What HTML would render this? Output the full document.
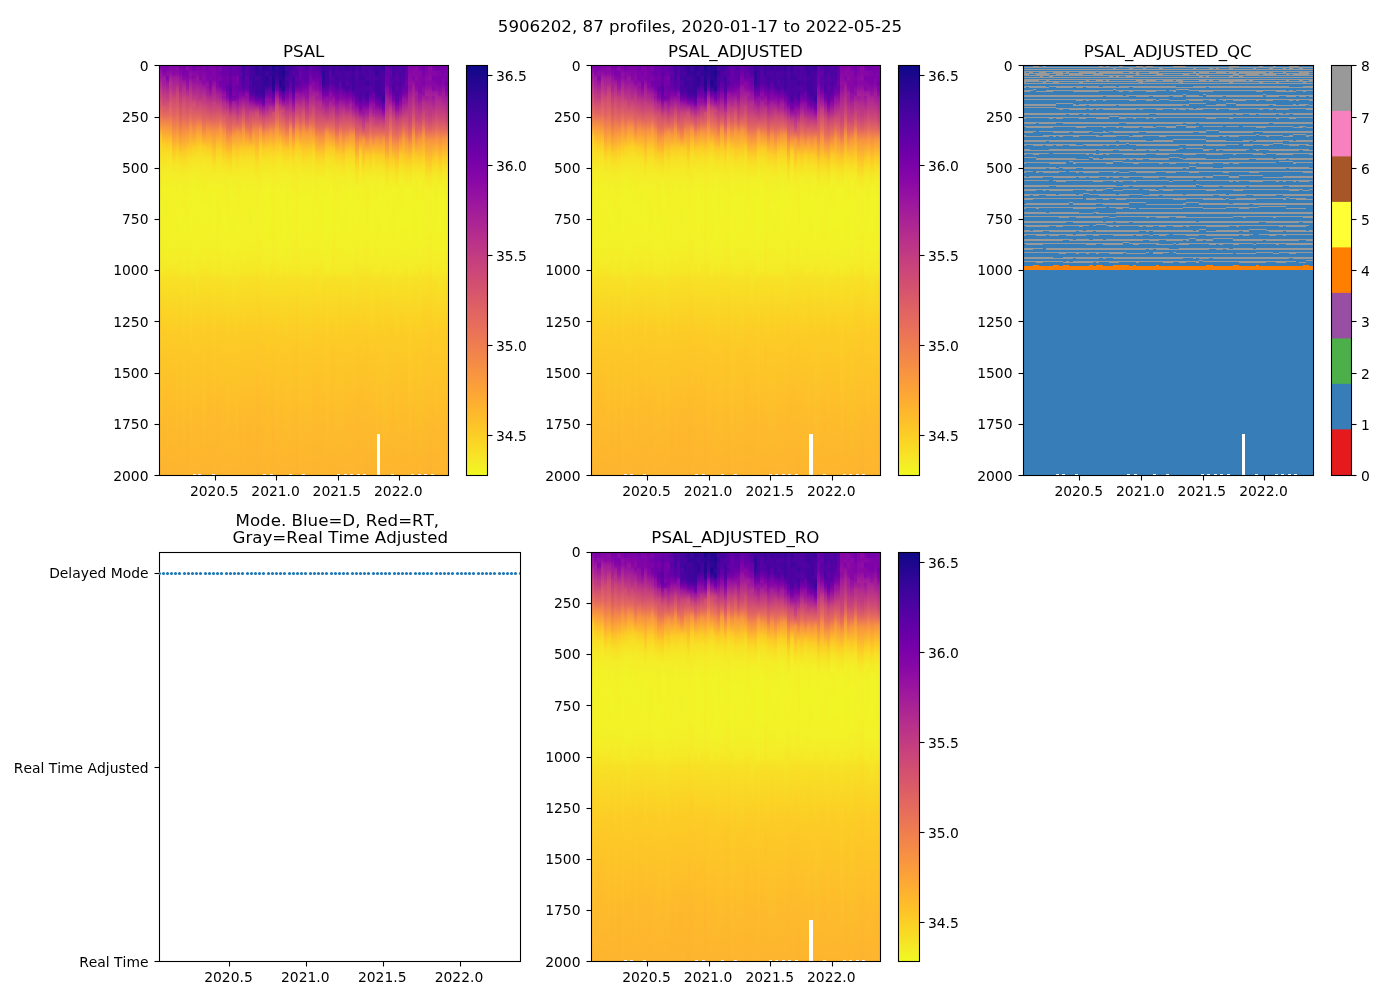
<!DOCTYPE html>
<html lang="en"><head><meta charset="utf-8"><title>5906202 PSAL</title>
<style>
html,body{margin:0;padding:0;background:#fff;}
svg{display:block;}
text{font-family:"DejaVu Sans","Liberation Sans",sans-serif;fill:#000;font-variant-ligatures:none;font-kerning:none;}
</style></head><body>
<svg width="1400" height="1000" viewBox="0 0 1400 1000">
<rect width="1400" height="1000" fill="#fff"/>
<defs>
<linearGradient id="g0" x1="0" y1="0" x2="0" y2="1"><stop offset="0" stop-color="#7b02a8"/><stop offset="0.018" stop-color="#99159f"/><stop offset="0.024" stop-color="#a01a9c"/><stop offset="0.026" stop-color="#9c179e"/><stop offset="0.03" stop-color="#a01a9c"/><stop offset="0.04" stop-color="#ad2793"/><stop offset="0.068" stop-color="#c7427c"/><stop offset="0.114" stop-color="#e56a5d"/><stop offset="0.144" stop-color="#f79143"/><stop offset="0.158" stop-color="#fca934"/><stop offset="0.174" stop-color="#fdcb26"/><stop offset="0.2" stop-color="#f9dc24"/><stop offset="0.25" stop-color="#f5eb27"/><stop offset="0.34" stop-color="#f1f426"/><stop offset="0.42" stop-color="#f2f227"/><stop offset="0.5" stop-color="#f5eb27"/><stop offset="0.52" stop-color="#f7e225"/><stop offset="0.6" stop-color="#fbd324"/><stop offset="0.68" stop-color="#fdca26"/><stop offset="1" stop-color="#fdb42f"/></linearGradient>
<linearGradient id="g1" x1="0" y1="0" x2="0" y2="1"><stop offset="0" stop-color="#7b02a8"/><stop offset="0.016" stop-color="#8405a7"/><stop offset="0.024" stop-color="#8e0ca4"/><stop offset="0.026" stop-color="#9613a1"/><stop offset="0.036" stop-color="#a11b9b"/><stop offset="0.04" stop-color="#a01a9c"/><stop offset="0.068" stop-color="#bd3786"/><stop offset="0.088" stop-color="#cc4778"/><stop offset="0.098" stop-color="#d45270"/><stop offset="0.1" stop-color="#d8576b"/><stop offset="0.122" stop-color="#e56b5d"/><stop offset="0.146" stop-color="#f79143"/><stop offset="0.186" stop-color="#fdc627"/><stop offset="0.208" stop-color="#fada24"/><stop offset="0.256" stop-color="#f5eb27"/><stop offset="0.3" stop-color="#f2f227"/><stop offset="0.44" stop-color="#f3f027"/><stop offset="0.5" stop-color="#f5e926"/><stop offset="0.52" stop-color="#f8e125"/><stop offset="0.64" stop-color="#fccd25"/><stop offset="0.86" stop-color="#feba2c"/><stop offset="1" stop-color="#fdb42f"/></linearGradient>
<linearGradient id="g2" x1="0" y1="0" x2="0" y2="1"><stop offset="0" stop-color="#7d03a8"/><stop offset="0.012" stop-color="#8104a7"/><stop offset="0.014" stop-color="#8d0ba5"/><stop offset="0.024" stop-color="#8f0da4"/><stop offset="0.026" stop-color="#8305a7"/><stop offset="0.036" stop-color="#8a09a5"/><stop offset="0.038" stop-color="#9511a1"/><stop offset="0.062" stop-color="#b32c8e"/><stop offset="0.074" stop-color="#bf3984"/><stop offset="0.076" stop-color="#bd3786"/><stop offset="0.092" stop-color="#d04d73"/><stop offset="0.12" stop-color="#e3685f"/><stop offset="0.144" stop-color="#f68d45"/><stop offset="0.17" stop-color="#fdae32"/><stop offset="0.194" stop-color="#fdcb26"/><stop offset="0.22" stop-color="#f8e125"/><stop offset="0.254" stop-color="#f5eb27"/><stop offset="0.3" stop-color="#f2f227"/><stop offset="0.42" stop-color="#f2f227"/><stop offset="0.48" stop-color="#f4ed27"/><stop offset="0.52" stop-color="#f8e125"/><stop offset="0.66" stop-color="#fdcb26"/><stop offset="0.8" stop-color="#febe2a"/><stop offset="1" stop-color="#fdb42f"/></linearGradient>
<linearGradient id="g3" x1="0" y1="0" x2="0" y2="1"><stop offset="0" stop-color="#8606a6"/><stop offset="0.014" stop-color="#8b0aa5"/><stop offset="0.024" stop-color="#9814a0"/><stop offset="0.026" stop-color="#a01a9c"/><stop offset="0.042" stop-color="#b32c8e"/><stop offset="0.048" stop-color="#b83289"/><stop offset="0.05" stop-color="#b42e8d"/><stop offset="0.072" stop-color="#cb4679"/><stop offset="0.086" stop-color="#d35171"/><stop offset="0.088" stop-color="#d7566c"/><stop offset="0.12" stop-color="#e76e5b"/><stop offset="0.148" stop-color="#f79044"/><stop offset="0.17" stop-color="#fdae32"/><stop offset="0.19" stop-color="#fdcb26"/><stop offset="0.218" stop-color="#f8e125"/><stop offset="0.252" stop-color="#f5eb27"/><stop offset="0.3" stop-color="#f2f227"/><stop offset="0.42" stop-color="#f2f227"/><stop offset="0.48" stop-color="#f4ed27"/><stop offset="0.52" stop-color="#f8e125"/><stop offset="0.66" stop-color="#fdcb26"/><stop offset="0.8" stop-color="#febe2a"/><stop offset="1" stop-color="#fdb42f"/></linearGradient>
<linearGradient id="g4" x1="0" y1="0" x2="0" y2="1"><stop offset="0" stop-color="#8405a7"/><stop offset="0.02" stop-color="#8b0aa5"/><stop offset="0.024" stop-color="#910ea3"/><stop offset="0.026" stop-color="#99159f"/><stop offset="0.034" stop-color="#a21d9a"/><stop offset="0.064" stop-color="#ba3388"/><stop offset="0.082" stop-color="#ce4b75"/><stop offset="0.12" stop-color="#e16462"/><stop offset="0.156" stop-color="#f58c46"/><stop offset="0.182" stop-color="#fca934"/><stop offset="0.21" stop-color="#fdcb26"/><stop offset="0.236" stop-color="#f8e125"/><stop offset="0.266" stop-color="#f4ed27"/><stop offset="0.3" stop-color="#f2f227"/><stop offset="0.42" stop-color="#f2f227"/><stop offset="0.48" stop-color="#f4ed27"/><stop offset="0.52" stop-color="#f8e125"/><stop offset="0.66" stop-color="#fdcb26"/><stop offset="0.82" stop-color="#febd2a"/><stop offset="1" stop-color="#fdb42f"/></linearGradient>
<linearGradient id="g5" x1="0" y1="0" x2="0" y2="1"><stop offset="0" stop-color="#8707a6"/><stop offset="0.012" stop-color="#8e0ca4"/><stop offset="0.014" stop-color="#8808a6"/><stop offset="0.022" stop-color="#910ea3"/><stop offset="0.03" stop-color="#a11b9b"/><stop offset="0.036" stop-color="#a72197"/><stop offset="0.038" stop-color="#a51f99"/><stop offset="0.048" stop-color="#b12a90"/><stop offset="0.05" stop-color="#b7318a"/><stop offset="0.074" stop-color="#cd4a76"/><stop offset="0.12" stop-color="#e4695e"/><stop offset="0.154" stop-color="#f68f44"/><stop offset="0.18" stop-color="#fdac33"/><stop offset="0.206" stop-color="#fccd25"/><stop offset="0.23" stop-color="#f8e125"/><stop offset="0.262" stop-color="#f4ed27"/><stop offset="0.34" stop-color="#f1f426"/><stop offset="0.42" stop-color="#f2f227"/><stop offset="0.48" stop-color="#f4ed27"/><stop offset="0.52" stop-color="#f8e125"/><stop offset="0.66" stop-color="#fdcb26"/><stop offset="1" stop-color="#fdb42f"/></linearGradient>
<linearGradient id="g6" x1="0" y1="0" x2="0" y2="1"><stop offset="0" stop-color="#7801a8"/><stop offset="0.022" stop-color="#8808a6"/><stop offset="0.026" stop-color="#910ea3"/><stop offset="0.048" stop-color="#a72197"/><stop offset="0.05" stop-color="#a21d9a"/><stop offset="0.062" stop-color="#ae2892"/><stop offset="0.066" stop-color="#b6308b"/><stop offset="0.096" stop-color="#cd4a76"/><stop offset="0.134" stop-color="#e3685f"/><stop offset="0.166" stop-color="#f68f44"/><stop offset="0.192" stop-color="#fdaf31"/><stop offset="0.214" stop-color="#fccd25"/><stop offset="0.238" stop-color="#f8e125"/><stop offset="0.268" stop-color="#f4ed27"/><stop offset="0.3" stop-color="#f2f227"/><stop offset="0.38" stop-color="#f1f426"/><stop offset="0.44" stop-color="#f3f027"/><stop offset="0.5" stop-color="#f5e926"/><stop offset="0.52" stop-color="#f8e125"/><stop offset="0.64" stop-color="#fccd25"/><stop offset="0.86" stop-color="#feba2c"/><stop offset="1" stop-color="#fdb42f"/></linearGradient>
<linearGradient id="g7" x1="0" y1="0" x2="0" y2="1"><stop offset="0" stop-color="#7501a8"/><stop offset="0.01" stop-color="#7b02a8"/><stop offset="0.016" stop-color="#7a02a8"/><stop offset="0.03" stop-color="#8707a6"/><stop offset="0.036" stop-color="#910ea3"/><stop offset="0.038" stop-color="#9c179e"/><stop offset="0.05" stop-color="#ac2694"/><stop offset="0.062" stop-color="#ba3388"/><stop offset="0.064" stop-color="#b7318a"/><stop offset="0.084" stop-color="#cd4a76"/><stop offset="0.128" stop-color="#e56a5d"/><stop offset="0.152" stop-color="#f3874a"/><stop offset="0.18" stop-color="#fca636"/><stop offset="0.212" stop-color="#fdcb26"/><stop offset="0.24" stop-color="#f7e225"/><stop offset="0.272" stop-color="#f3ee27"/><stop offset="0.4" stop-color="#f1f426"/><stop offset="0.5" stop-color="#f5eb27"/><stop offset="0.52" stop-color="#f7e225"/><stop offset="0.68" stop-color="#fdca26"/><stop offset="1" stop-color="#fdb42f"/></linearGradient>
<linearGradient id="g8" x1="0" y1="0" x2="0" y2="1"><stop offset="0" stop-color="#8707a6"/><stop offset="0.012" stop-color="#8b0aa5"/><stop offset="0.014" stop-color="#7b02a8"/><stop offset="0.03" stop-color="#8606a6"/><stop offset="0.05" stop-color="#99159f"/><stop offset="0.062" stop-color="#a82296"/><stop offset="0.064" stop-color="#b02991"/><stop offset="0.074" stop-color="#ba3388"/><stop offset="0.076" stop-color="#c03a83"/><stop offset="0.08" stop-color="#c43e7f"/><stop offset="0.128" stop-color="#e26660"/><stop offset="0.164" stop-color="#f89540"/><stop offset="0.206" stop-color="#fdcb26"/><stop offset="0.23" stop-color="#f8df25"/><stop offset="0.268" stop-color="#f4ed27"/><stop offset="0.32" stop-color="#f2f227"/><stop offset="0.44" stop-color="#f3f027"/><stop offset="0.5" stop-color="#f5e926"/><stop offset="0.52" stop-color="#f8e125"/><stop offset="0.64" stop-color="#fccd25"/><stop offset="0.88" stop-color="#feb82c"/><stop offset="1" stop-color="#fdb42f"/></linearGradient>
<linearGradient id="g9" x1="0" y1="0" x2="0" y2="1"><stop offset="0" stop-color="#7b02a8"/><stop offset="0.012" stop-color="#8305a7"/><stop offset="0.014" stop-color="#8a09a5"/><stop offset="0.024" stop-color="#9410a2"/><stop offset="0.026" stop-color="#8d0ba5"/><stop offset="0.03" stop-color="#910ea3"/><stop offset="0.04" stop-color="#a21d9a"/><stop offset="0.07" stop-color="#bf3984"/><stop offset="0.124" stop-color="#e56b5d"/><stop offset="0.15" stop-color="#f79044"/><stop offset="0.178" stop-color="#fdaf31"/><stop offset="0.202" stop-color="#fdcb26"/><stop offset="0.228" stop-color="#f8e125"/><stop offset="0.26" stop-color="#f4ed27"/><stop offset="0.32" stop-color="#f1f426"/><stop offset="0.4" stop-color="#f1f426"/><stop offset="0.5" stop-color="#f5eb27"/><stop offset="0.52" stop-color="#f7e225"/><stop offset="0.7" stop-color="#fdc827"/><stop offset="1" stop-color="#fdb52e"/></linearGradient>
<linearGradient id="g10" x1="0" y1="0" x2="0" y2="1"><stop offset="0" stop-color="#7201a8"/><stop offset="0.012" stop-color="#7701a8"/><stop offset="0.014" stop-color="#8707a6"/><stop offset="0.024" stop-color="#8b0aa5"/><stop offset="0.026" stop-color="#8606a6"/><stop offset="0.048" stop-color="#a11b9b"/><stop offset="0.05" stop-color="#a01a9c"/><stop offset="0.086" stop-color="#c6417d"/><stop offset="0.088" stop-color="#cc4977"/><stop offset="0.098" stop-color="#d45270"/><stop offset="0.102" stop-color="#d35171"/><stop offset="0.13" stop-color="#e56b5d"/><stop offset="0.152" stop-color="#f48849"/><stop offset="0.174" stop-color="#fca636"/><stop offset="0.2" stop-color="#fccd25"/><stop offset="0.226" stop-color="#f7e225"/><stop offset="0.256" stop-color="#f4ed27"/><stop offset="0.3" stop-color="#f1f426"/><stop offset="0.44" stop-color="#f2f227"/><stop offset="0.5" stop-color="#f5eb27"/><stop offset="0.52" stop-color="#f7e225"/><stop offset="0.64" stop-color="#fcce25"/><stop offset="0.86" stop-color="#febb2b"/><stop offset="1" stop-color="#fdb52e"/></linearGradient>
<linearGradient id="g11" x1="0" y1="0" x2="0" y2="1"><stop offset="0" stop-color="#7801a8"/><stop offset="0.024" stop-color="#8a09a5"/><stop offset="0.026" stop-color="#920fa3"/><stop offset="0.034" stop-color="#9a169f"/><stop offset="0.04" stop-color="#9613a1"/><stop offset="0.054" stop-color="#a82296"/><stop offset="0.094" stop-color="#c9447a"/><stop offset="0.128" stop-color="#e56b5d"/><stop offset="0.15" stop-color="#f79342"/><stop offset="0.172" stop-color="#fdae32"/><stop offset="0.198" stop-color="#fcce25"/><stop offset="0.224" stop-color="#f7e225"/><stop offset="0.258" stop-color="#f4ed27"/><stop offset="0.32" stop-color="#f1f426"/><stop offset="0.46" stop-color="#f3f027"/><stop offset="0.64" stop-color="#fcce25"/><stop offset="0.88" stop-color="#feba2c"/><stop offset="1" stop-color="#fdb52e"/></linearGradient>
<linearGradient id="g12" x1="0" y1="0" x2="0" y2="1"><stop offset="0" stop-color="#7a02a8"/><stop offset="0.01" stop-color="#7d03a8"/><stop offset="0.014" stop-color="#8305a7"/><stop offset="0.03" stop-color="#8305a7"/><stop offset="0.036" stop-color="#8b0aa5"/><stop offset="0.038" stop-color="#920fa3"/><stop offset="0.048" stop-color="#9e199d"/><stop offset="0.076" stop-color="#b42e8d"/><stop offset="0.086" stop-color="#bf3984"/><stop offset="0.088" stop-color="#c6417d"/><stop offset="0.094" stop-color="#cc4778"/><stop offset="0.128" stop-color="#e56a5d"/><stop offset="0.15" stop-color="#f79044"/><stop offset="0.172" stop-color="#fdae32"/><stop offset="0.192" stop-color="#fdcb26"/><stop offset="0.216" stop-color="#f8df25"/><stop offset="0.256" stop-color="#f5eb27"/><stop offset="0.3" stop-color="#f2f227"/><stop offset="0.36" stop-color="#f1f426"/><stop offset="0.44" stop-color="#f3f027"/><stop offset="0.5" stop-color="#f5e926"/><stop offset="0.52" stop-color="#f8e125"/><stop offset="0.64" stop-color="#fccd25"/><stop offset="0.84" stop-color="#febb2b"/><stop offset="1" stop-color="#fdb42f"/></linearGradient>
<linearGradient id="g13" x1="0" y1="0" x2="0" y2="1"><stop offset="0" stop-color="#7d03a8"/><stop offset="0.012" stop-color="#8004a8"/><stop offset="0.028" stop-color="#8b0aa5"/><stop offset="0.036" stop-color="#8d0ba5"/><stop offset="0.038" stop-color="#8707a6"/><stop offset="0.04" stop-color="#8808a6"/><stop offset="0.048" stop-color="#9410a2"/><stop offset="0.05" stop-color="#9c179e"/><stop offset="0.074" stop-color="#b83289"/><stop offset="0.086" stop-color="#c33d80"/><stop offset="0.088" stop-color="#c13b82"/><stop offset="0.104" stop-color="#d14e72"/><stop offset="0.138" stop-color="#e66c5c"/><stop offset="0.162" stop-color="#f68f44"/><stop offset="0.182" stop-color="#fdaf31"/><stop offset="0.198" stop-color="#fccd25"/><stop offset="0.222" stop-color="#f8e125"/><stop offset="0.252" stop-color="#f5eb27"/><stop offset="0.34" stop-color="#f1f426"/><stop offset="0.42" stop-color="#f2f227"/><stop offset="0.48" stop-color="#f4ed27"/><stop offset="0.52" stop-color="#f8e125"/><stop offset="0.66" stop-color="#fdcb26"/><stop offset="1" stop-color="#fdb42f"/></linearGradient>
<linearGradient id="g14" x1="0" y1="0" x2="0" y2="1"><stop offset="0" stop-color="#7501a8"/><stop offset="0.01" stop-color="#7701a8"/><stop offset="0.016" stop-color="#7e03a8"/><stop offset="0.036" stop-color="#8004a8"/><stop offset="0.038" stop-color="#8a09a5"/><stop offset="0.048" stop-color="#9613a1"/><stop offset="0.05" stop-color="#910ea3"/><stop offset="0.062" stop-color="#a01a9c"/><stop offset="0.064" stop-color="#9e199d"/><stop offset="0.092" stop-color="#c33d80"/><stop offset="0.124" stop-color="#dd5e66"/><stop offset="0.158" stop-color="#f89441"/><stop offset="0.182" stop-color="#fdb22f"/><stop offset="0.202" stop-color="#fccd25"/><stop offset="0.226" stop-color="#f8e125"/><stop offset="0.256" stop-color="#f5eb27"/><stop offset="0.3" stop-color="#f2f227"/><stop offset="0.36" stop-color="#f1f426"/><stop offset="0.44" stop-color="#f3f027"/><stop offset="0.5" stop-color="#f5e926"/><stop offset="0.52" stop-color="#f8e125"/><stop offset="0.64" stop-color="#fccd25"/><stop offset="0.82" stop-color="#febd2a"/><stop offset="1" stop-color="#fdb42f"/></linearGradient>
<linearGradient id="g15" x1="0" y1="0" x2="0" y2="1"><stop offset="0" stop-color="#7d03a8"/><stop offset="0.012" stop-color="#8004a8"/><stop offset="0.016" stop-color="#7a02a8"/><stop offset="0.024" stop-color="#7d03a8"/><stop offset="0.026" stop-color="#8305a7"/><stop offset="0.036" stop-color="#8405a7"/><stop offset="0.038" stop-color="#7b02a8"/><stop offset="0.04" stop-color="#7b02a8"/><stop offset="0.054" stop-color="#8808a6"/><stop offset="0.074" stop-color="#a51f99"/><stop offset="0.076" stop-color="#ad2793"/><stop offset="0.086" stop-color="#b83289"/><stop offset="0.128" stop-color="#dd5e66"/><stop offset="0.158" stop-color="#f79044"/><stop offset="0.178" stop-color="#fdab33"/><stop offset="0.202" stop-color="#fdcb26"/><stop offset="0.228" stop-color="#f8e125"/><stop offset="0.256" stop-color="#f5eb27"/><stop offset="0.3" stop-color="#f2f227"/><stop offset="0.36" stop-color="#f1f426"/><stop offset="0.44" stop-color="#f3f027"/><stop offset="0.5" stop-color="#f5e926"/><stop offset="0.52" stop-color="#f8e125"/><stop offset="0.64" stop-color="#fccd25"/><stop offset="0.82" stop-color="#febd2a"/><stop offset="1" stop-color="#fdb42f"/></linearGradient>
<linearGradient id="g16" x1="0" y1="0" x2="0" y2="1"><stop offset="0" stop-color="#7d03a8"/><stop offset="0.022" stop-color="#8405a7"/><stop offset="0.026" stop-color="#8004a8"/><stop offset="0.036" stop-color="#8305a7"/><stop offset="0.038" stop-color="#8b0aa5"/><stop offset="0.054" stop-color="#a01a9c"/><stop offset="0.084" stop-color="#b83289"/><stop offset="0.09" stop-color="#c43e7f"/><stop offset="0.104" stop-color="#cb4679"/><stop offset="0.138" stop-color="#e66c5c"/><stop offset="0.16" stop-color="#f79044"/><stop offset="0.212" stop-color="#fdc827"/><stop offset="0.244" stop-color="#f7e225"/><stop offset="0.272" stop-color="#f3ee27"/><stop offset="0.32" stop-color="#f1f426"/><stop offset="0.4" stop-color="#f1f426"/><stop offset="0.5" stop-color="#f5eb27"/><stop offset="0.52" stop-color="#f7e225"/><stop offset="0.68" stop-color="#fdca26"/><stop offset="0.88" stop-color="#feba2c"/><stop offset="1" stop-color="#fdb52e"/></linearGradient>
<linearGradient id="g17" x1="0" y1="0" x2="0" y2="1"><stop offset="0" stop-color="#7401a8"/><stop offset="0.042" stop-color="#8004a8"/><stop offset="0.048" stop-color="#8808a6"/><stop offset="0.05" stop-color="#8405a7"/><stop offset="0.052" stop-color="#8707a6"/><stop offset="0.064" stop-color="#9d189d"/><stop offset="0.1" stop-color="#c7427c"/><stop offset="0.138" stop-color="#e76e5b"/><stop offset="0.16" stop-color="#f89441"/><stop offset="0.182" stop-color="#fdb130"/><stop offset="0.202" stop-color="#fccd25"/><stop offset="0.228" stop-color="#f8e125"/><stop offset="0.256" stop-color="#f5eb27"/><stop offset="0.3" stop-color="#f2f227"/><stop offset="0.44" stop-color="#f3f027"/><stop offset="0.5" stop-color="#f5e926"/><stop offset="0.52" stop-color="#f8e125"/><stop offset="0.64" stop-color="#fccd25"/><stop offset="0.86" stop-color="#feba2c"/><stop offset="1" stop-color="#fdb42f"/></linearGradient>
<linearGradient id="g18" x1="0" y1="0" x2="0" y2="1"><stop offset="0" stop-color="#7e03a8"/><stop offset="0.012" stop-color="#8004a8"/><stop offset="0.014" stop-color="#7401a8"/><stop offset="0.02" stop-color="#7401a8"/><stop offset="0.024" stop-color="#7501a8"/><stop offset="0.026" stop-color="#7d03a8"/><stop offset="0.036" stop-color="#8004a8"/><stop offset="0.038" stop-color="#7701a8"/><stop offset="0.048" stop-color="#7801a8"/><stop offset="0.054" stop-color="#8405a7"/><stop offset="0.07" stop-color="#a11b9b"/><stop offset="0.076" stop-color="#a51f99"/><stop offset="0.1" stop-color="#c7427c"/><stop offset="0.132" stop-color="#e4695e"/><stop offset="0.154" stop-color="#f89441"/><stop offset="0.178" stop-color="#fdaf31"/><stop offset="0.202" stop-color="#fccd25"/><stop offset="0.228" stop-color="#f8e125"/><stop offset="0.256" stop-color="#f5eb27"/><stop offset="0.3" stop-color="#f2f227"/><stop offset="0.44" stop-color="#f3f027"/><stop offset="0.5" stop-color="#f5e926"/><stop offset="0.52" stop-color="#f8e125"/><stop offset="0.64" stop-color="#fccd25"/><stop offset="0.86" stop-color="#feba2c"/><stop offset="1" stop-color="#fdb42f"/></linearGradient>
<linearGradient id="g19" x1="0" y1="0" x2="0" y2="1"><stop offset="0" stop-color="#6a00a8"/><stop offset="0.01" stop-color="#6e00a8"/><stop offset="0.014" stop-color="#6900a8"/><stop offset="0.022" stop-color="#6a00a8"/><stop offset="0.026" stop-color="#7201a8"/><stop offset="0.03" stop-color="#7401a8"/><stop offset="0.036" stop-color="#7401a8"/><stop offset="0.038" stop-color="#6f00a8"/><stop offset="0.05" stop-color="#7100a8"/><stop offset="0.062" stop-color="#8305a7"/><stop offset="0.064" stop-color="#8a09a5"/><stop offset="0.074" stop-color="#9a169f"/><stop offset="0.076" stop-color="#9511a1"/><stop offset="0.086" stop-color="#a51f99"/><stop offset="0.088" stop-color="#ad2793"/><stop offset="0.098" stop-color="#bb3488"/><stop offset="0.1" stop-color="#ba3388"/><stop offset="0.126" stop-color="#da5a6a"/><stop offset="0.142" stop-color="#e66c5c"/><stop offset="0.164" stop-color="#f89540"/><stop offset="0.19" stop-color="#fdb22f"/><stop offset="0.214" stop-color="#fcce25"/><stop offset="0.238" stop-color="#f7e225"/><stop offset="0.268" stop-color="#f3ee27"/><stop offset="0.36" stop-color="#f1f525"/><stop offset="0.44" stop-color="#f2f227"/><stop offset="0.5" stop-color="#f5eb27"/><stop offset="0.52" stop-color="#f7e225"/><stop offset="0.64" stop-color="#fcce25"/><stop offset="0.84" stop-color="#febd2a"/><stop offset="1" stop-color="#fdb52e"/></linearGradient>
<linearGradient id="g20" x1="0" y1="0" x2="0" y2="1"><stop offset="0" stop-color="#6f00a8"/><stop offset="0.024" stop-color="#6f00a8"/><stop offset="0.026" stop-color="#7501a8"/><stop offset="0.036" stop-color="#7701a8"/><stop offset="0.038" stop-color="#7100a8"/><stop offset="0.048" stop-color="#7201a8"/><stop offset="0.05" stop-color="#6700a8"/><stop offset="0.058" stop-color="#6700a8"/><stop offset="0.062" stop-color="#6900a8"/><stop offset="0.064" stop-color="#7501a8"/><stop offset="0.068" stop-color="#7701a8"/><stop offset="0.074" stop-color="#8305a7"/><stop offset="0.076" stop-color="#8004a8"/><stop offset="0.086" stop-color="#9613a1"/><stop offset="0.088" stop-color="#a11b9b"/><stop offset="0.098" stop-color="#b42e8d"/><stop offset="0.1" stop-color="#b32c8e"/><stop offset="0.116" stop-color="#cd4a76"/><stop offset="0.15" stop-color="#e4695e"/><stop offset="0.168" stop-color="#f3854b"/><stop offset="0.194" stop-color="#fdab33"/><stop offset="0.218" stop-color="#fccd25"/><stop offset="0.242" stop-color="#f8e125"/><stop offset="0.272" stop-color="#f3ee27"/><stop offset="0.4" stop-color="#f1f426"/><stop offset="0.5" stop-color="#f5eb27"/><stop offset="0.52" stop-color="#f7e225"/><stop offset="0.68" stop-color="#fdca26"/><stop offset="1" stop-color="#fdb42f"/></linearGradient>
<linearGradient id="g21" x1="0" y1="0" x2="0" y2="1"><stop offset="0" stop-color="#5e01a6"/><stop offset="0.02" stop-color="#5e01a6"/><stop offset="0.028" stop-color="#6600a7"/><stop offset="0.036" stop-color="#6600a7"/><stop offset="0.038" stop-color="#6001a6"/><stop offset="0.048" stop-color="#6100a7"/><stop offset="0.05" stop-color="#5502a4"/><stop offset="0.062" stop-color="#5601a4"/><stop offset="0.064" stop-color="#5e01a6"/><stop offset="0.074" stop-color="#6001a6"/><stop offset="0.076" stop-color="#6a00a8"/><stop offset="0.078" stop-color="#6c00a8"/><stop offset="0.084" stop-color="#7d03a8"/><stop offset="0.102" stop-color="#a62098"/><stop offset="0.126" stop-color="#d14e72"/><stop offset="0.154" stop-color="#e66c5c"/><stop offset="0.176" stop-color="#f89441"/><stop offset="0.198" stop-color="#fdaf31"/><stop offset="0.222" stop-color="#fcce25"/><stop offset="0.248" stop-color="#f7e225"/><stop offset="0.278" stop-color="#f3f027"/><stop offset="0.3" stop-color="#f1f426"/><stop offset="0.44" stop-color="#f2f227"/><stop offset="0.5" stop-color="#f5eb27"/><stop offset="0.52" stop-color="#f7e225"/><stop offset="0.64" stop-color="#fcce25"/><stop offset="0.86" stop-color="#febb2b"/><stop offset="1" stop-color="#fdb52e"/></linearGradient>
<linearGradient id="g22" x1="0" y1="0" x2="0" y2="1"><stop offset="0" stop-color="#6900a8"/><stop offset="0.024" stop-color="#6a00a8"/><stop offset="0.026" stop-color="#7401a8"/><stop offset="0.03" stop-color="#7501a8"/><stop offset="0.046" stop-color="#7801a8"/><stop offset="0.05" stop-color="#7401a8"/><stop offset="0.062" stop-color="#7501a8"/><stop offset="0.064" stop-color="#7d03a8"/><stop offset="0.068" stop-color="#7e03a8"/><stop offset="0.074" stop-color="#7e03a8"/><stop offset="0.076" stop-color="#7201a8"/><stop offset="0.082" stop-color="#8104a7"/><stop offset="0.086" stop-color="#8a09a5"/><stop offset="0.088" stop-color="#9d189d"/><stop offset="0.096" stop-color="#ac2694"/><stop offset="0.1" stop-color="#ae2892"/><stop offset="0.122" stop-color="#cf4c74"/><stop offset="0.146" stop-color="#e56a5d"/><stop offset="0.168" stop-color="#f89540"/><stop offset="0.206" stop-color="#fdcb26"/><stop offset="0.234" stop-color="#f7e225"/><stop offset="0.27" stop-color="#f3ee27"/><stop offset="0.32" stop-color="#f1f426"/><stop offset="0.46" stop-color="#f3f027"/><stop offset="0.64" stop-color="#fcce25"/><stop offset="0.88" stop-color="#feba2c"/><stop offset="1" stop-color="#fdb52e"/></linearGradient>
<linearGradient id="g23" x1="0" y1="0" x2="0" y2="1"><stop offset="0" stop-color="#6700a8"/><stop offset="0.024" stop-color="#6900a8"/><stop offset="0.026" stop-color="#7b02a8"/><stop offset="0.028" stop-color="#7d03a8"/><stop offset="0.036" stop-color="#7d03a8"/><stop offset="0.038" stop-color="#7501a8"/><stop offset="0.048" stop-color="#7701a8"/><stop offset="0.05" stop-color="#6c00a8"/><stop offset="0.054" stop-color="#6c00a8"/><stop offset="0.062" stop-color="#6e00a8"/><stop offset="0.064" stop-color="#7701a8"/><stop offset="0.072" stop-color="#7701a8"/><stop offset="0.08" stop-color="#8004a8"/><stop offset="0.1" stop-color="#a72197"/><stop offset="0.14" stop-color="#db5c68"/><stop offset="0.148" stop-color="#e56b5d"/><stop offset="0.164" stop-color="#f89540"/><stop offset="0.21" stop-color="#fdca26"/><stop offset="0.24" stop-color="#f7e225"/><stop offset="0.272" stop-color="#f3ee27"/><stop offset="0.4" stop-color="#f1f426"/><stop offset="0.5" stop-color="#f5eb27"/><stop offset="0.52" stop-color="#f7e225"/><stop offset="0.68" stop-color="#fdca26"/><stop offset="1" stop-color="#fdb42f"/></linearGradient>
<linearGradient id="g24" x1="0" y1="0" x2="0" y2="1"><stop offset="0" stop-color="#5801a4"/><stop offset="0.012" stop-color="#5901a5"/><stop offset="0.014" stop-color="#6300a7"/><stop offset="0.018" stop-color="#6400a7"/><stop offset="0.024" stop-color="#6400a7"/><stop offset="0.026" stop-color="#5901a5"/><stop offset="0.036" stop-color="#5b01a5"/><stop offset="0.038" stop-color="#6300a7"/><stop offset="0.056" stop-color="#6900a8"/><stop offset="0.072" stop-color="#8405a7"/><stop offset="0.086" stop-color="#9d189d"/><stop offset="0.094" stop-color="#a62098"/><stop offset="0.11" stop-color="#bf3984"/><stop offset="0.116" stop-color="#c33d80"/><stop offset="0.126" stop-color="#d14e72"/><stop offset="0.15" stop-color="#e87059"/><stop offset="0.166" stop-color="#f79143"/><stop offset="0.202" stop-color="#fdca26"/><stop offset="0.23" stop-color="#f8e125"/><stop offset="0.258" stop-color="#f5eb27"/><stop offset="0.32" stop-color="#f2f227"/><stop offset="0.44" stop-color="#f3f027"/><stop offset="0.5" stop-color="#f5e926"/><stop offset="0.52" stop-color="#f8e125"/><stop offset="0.64" stop-color="#fccd25"/><stop offset="0.88" stop-color="#feb82c"/><stop offset="1" stop-color="#fdb42f"/></linearGradient>
<linearGradient id="g25" x1="0" y1="0" x2="0" y2="1"><stop offset="0" stop-color="#46039f"/><stop offset="0.036" stop-color="#4b03a1"/><stop offset="0.038" stop-color="#5102a3"/><stop offset="0.054" stop-color="#5901a5"/><stop offset="0.072" stop-color="#8004a8"/><stop offset="0.086" stop-color="#a11b9b"/><stop offset="0.11" stop-color="#c9447a"/><stop offset="0.138" stop-color="#e56b5d"/><stop offset="0.156" stop-color="#f79044"/><stop offset="0.184" stop-color="#fdb22f"/><stop offset="0.206" stop-color="#fccd25"/><stop offset="0.232" stop-color="#f8e125"/><stop offset="0.264" stop-color="#f4ed27"/><stop offset="0.3" stop-color="#f2f227"/><stop offset="0.42" stop-color="#f2f227"/><stop offset="0.48" stop-color="#f4ed27"/><stop offset="0.52" stop-color="#f8e125"/><stop offset="0.66" stop-color="#fdcb26"/><stop offset="0.82" stop-color="#febd2a"/><stop offset="1" stop-color="#fdb42f"/></linearGradient>
<linearGradient id="g26" x1="0" y1="0" x2="0" y2="1"><stop offset="0" stop-color="#5302a3"/><stop offset="0.022" stop-color="#5601a4"/><stop offset="0.024" stop-color="#5801a4"/><stop offset="0.026" stop-color="#6001a6"/><stop offset="0.044" stop-color="#6001a6"/><stop offset="0.048" stop-color="#6600a7"/><stop offset="0.05" stop-color="#5b01a5"/><stop offset="0.062" stop-color="#7100a8"/><stop offset="0.064" stop-color="#8305a7"/><stop offset="0.074" stop-color="#920fa3"/><stop offset="0.076" stop-color="#8e0ca4"/><stop offset="0.102" stop-color="#b32c8e"/><stop offset="0.14" stop-color="#db5c68"/><stop offset="0.152" stop-color="#e76f5a"/><stop offset="0.168" stop-color="#f79143"/><stop offset="0.186" stop-color="#fdaf31"/><stop offset="0.204" stop-color="#fccd25"/><stop offset="0.23" stop-color="#f8e125"/><stop offset="0.258" stop-color="#f5eb27"/><stop offset="0.32" stop-color="#f2f227"/><stop offset="0.44" stop-color="#f3f027"/><stop offset="0.5" stop-color="#f5e926"/><stop offset="0.52" stop-color="#f8e125"/><stop offset="0.64" stop-color="#fccd25"/><stop offset="0.88" stop-color="#feb82c"/><stop offset="1" stop-color="#fdb42f"/></linearGradient>
<linearGradient id="g27" x1="0" y1="0" x2="0" y2="1"><stop offset="0" stop-color="#43039e"/><stop offset="0.024" stop-color="#48039f"/><stop offset="0.026" stop-color="#43039e"/><stop offset="0.032" stop-color="#43039e"/><stop offset="0.036" stop-color="#44039e"/><stop offset="0.038" stop-color="#5002a2"/><stop offset="0.046" stop-color="#5102a3"/><stop offset="0.048" stop-color="#5102a3"/><stop offset="0.05" stop-color="#4903a0"/><stop offset="0.062" stop-color="#4b03a1"/><stop offset="0.068" stop-color="#5302a3"/><stop offset="0.082" stop-color="#7a02a8"/><stop offset="0.086" stop-color="#8606a6"/><stop offset="0.088" stop-color="#8f0da4"/><stop offset="0.096" stop-color="#a31e9a"/><stop offset="0.118" stop-color="#cc4778"/><stop offset="0.15" stop-color="#e4695e"/><stop offset="0.166" stop-color="#f1814d"/><stop offset="0.18" stop-color="#f99a3e"/><stop offset="0.202" stop-color="#fccd25"/><stop offset="0.228" stop-color="#f8e125"/><stop offset="0.258" stop-color="#f5eb27"/><stop offset="0.32" stop-color="#f2f227"/><stop offset="0.44" stop-color="#f3f027"/><stop offset="0.5" stop-color="#f5e926"/><stop offset="0.52" stop-color="#f8e125"/><stop offset="0.64" stop-color="#fccd25"/><stop offset="0.88" stop-color="#feb82c"/><stop offset="1" stop-color="#fdb42f"/></linearGradient>
<linearGradient id="g28" x1="0" y1="0" x2="0" y2="1"><stop offset="0" stop-color="#3c049b"/><stop offset="0.012" stop-color="#3e049c"/><stop offset="0.014" stop-color="#48039f"/><stop offset="0.024" stop-color="#4903a0"/><stop offset="0.026" stop-color="#3e049c"/><stop offset="0.048" stop-color="#3e049c"/><stop offset="0.05" stop-color="#48039f"/><stop offset="0.066" stop-color="#4b03a1"/><stop offset="0.082" stop-color="#7b02a8"/><stop offset="0.088" stop-color="#8a09a5"/><stop offset="0.094" stop-color="#9a169f"/><stop offset="0.116" stop-color="#cb4679"/><stop offset="0.142" stop-color="#e4695e"/><stop offset="0.164" stop-color="#f89441"/><stop offset="0.204" stop-color="#fdcb26"/><stop offset="0.23" stop-color="#f8e125"/><stop offset="0.266" stop-color="#f4ed27"/><stop offset="0.3" stop-color="#f2f227"/><stop offset="0.38" stop-color="#f1f426"/><stop offset="0.44" stop-color="#f3f027"/><stop offset="0.5" stop-color="#f5e926"/><stop offset="0.52" stop-color="#f8e125"/><stop offset="0.64" stop-color="#fccd25"/><stop offset="0.86" stop-color="#feba2c"/><stop offset="1" stop-color="#fdb42f"/></linearGradient>
<linearGradient id="g29" x1="0" y1="0" x2="0" y2="1"><stop offset="0" stop-color="#2f0596"/><stop offset="0.024" stop-color="#370499"/><stop offset="0.026" stop-color="#46039f"/><stop offset="0.028" stop-color="#48039f"/><stop offset="0.036" stop-color="#48039f"/><stop offset="0.038" stop-color="#3f049c"/><stop offset="0.06" stop-color="#41049d"/><stop offset="0.072" stop-color="#48039f"/><stop offset="0.074" stop-color="#5002a2"/><stop offset="0.076" stop-color="#5102a3"/><stop offset="0.086" stop-color="#7701a8"/><stop offset="0.088" stop-color="#7a02a8"/><stop offset="0.098" stop-color="#9d189d"/><stop offset="0.102" stop-color="#ad2793"/><stop offset="0.114" stop-color="#cc4977"/><stop offset="0.124" stop-color="#d6556d"/><stop offset="0.126" stop-color="#d5536f"/><stop offset="0.132" stop-color="#da5a6a"/><stop offset="0.158" stop-color="#f3874a"/><stop offset="0.18" stop-color="#fca338"/><stop offset="0.212" stop-color="#fdc827"/><stop offset="0.24" stop-color="#f8df25"/><stop offset="0.276" stop-color="#f4ed27"/><stop offset="0.36" stop-color="#f2f227"/><stop offset="0.42" stop-color="#f3f027"/><stop offset="0.48" stop-color="#f5eb27"/><stop offset="0.52" stop-color="#f8df25"/><stop offset="0.66" stop-color="#fdca26"/><stop offset="0.82" stop-color="#febb2b"/><stop offset="1" stop-color="#fdb22f"/></linearGradient>
<linearGradient id="g30" x1="0" y1="0" x2="0" y2="1"><stop offset="0" stop-color="#3f049c"/><stop offset="0.012" stop-color="#41049d"/><stop offset="0.014" stop-color="#370499"/><stop offset="0.022" stop-color="#370499"/><stop offset="0.028" stop-color="#41049d"/><stop offset="0.048" stop-color="#44039e"/><stop offset="0.05" stop-color="#3f049c"/><stop offset="0.068" stop-color="#41049d"/><stop offset="0.078" stop-color="#5801a4"/><stop offset="0.09" stop-color="#8004a8"/><stop offset="0.104" stop-color="#a62098"/><stop offset="0.122" stop-color="#ca457a"/><stop offset="0.142" stop-color="#e4695e"/><stop offset="0.156" stop-color="#f79044"/><stop offset="0.176" stop-color="#fdae32"/><stop offset="0.196" stop-color="#fdcb26"/><stop offset="0.22" stop-color="#f8df25"/><stop offset="0.25" stop-color="#f5e926"/><stop offset="0.32" stop-color="#f2f227"/><stop offset="0.4" stop-color="#f2f227"/><stop offset="0.5" stop-color="#f5e926"/><stop offset="0.52" stop-color="#f8e125"/><stop offset="0.62" stop-color="#fcce25"/><stop offset="0.88" stop-color="#feb82c"/><stop offset="1" stop-color="#fdb42f"/></linearGradient>
<linearGradient id="g31" x1="0" y1="0" x2="0" y2="1"><stop offset="0" stop-color="#2c0594"/><stop offset="0.012" stop-color="#2e0595"/><stop offset="0.014" stop-color="#350498"/><stop offset="0.062" stop-color="#3a049a"/><stop offset="0.064" stop-color="#3f049c"/><stop offset="0.072" stop-color="#41049d"/><stop offset="0.086" stop-color="#6700a8"/><stop offset="0.088" stop-color="#6600a7"/><stop offset="0.096" stop-color="#7e03a8"/><stop offset="0.098" stop-color="#8405a7"/><stop offset="0.1" stop-color="#9410a2"/><stop offset="0.102" stop-color="#99159f"/><stop offset="0.112" stop-color="#b02991"/><stop offset="0.114" stop-color="#b02991"/><stop offset="0.126" stop-color="#ca457a"/><stop offset="0.15" stop-color="#e3685f"/><stop offset="0.17" stop-color="#f89540"/><stop offset="0.204" stop-color="#fdcb26"/><stop offset="0.23" stop-color="#f8e125"/><stop offset="0.264" stop-color="#f4ed27"/><stop offset="0.3" stop-color="#f2f227"/><stop offset="0.42" stop-color="#f2f227"/><stop offset="0.48" stop-color="#f4ed27"/><stop offset="0.52" stop-color="#f8e125"/><stop offset="0.66" stop-color="#fdcb26"/><stop offset="0.8" stop-color="#febe2a"/><stop offset="1" stop-color="#fdb42f"/></linearGradient>
<linearGradient id="g32" x1="0" y1="0" x2="0" y2="1"><stop offset="0" stop-color="#330597"/><stop offset="0.012" stop-color="#350498"/><stop offset="0.014" stop-color="#3f049c"/><stop offset="0.02" stop-color="#41049d"/><stop offset="0.024" stop-color="#41049d"/><stop offset="0.026" stop-color="#310597"/><stop offset="0.048" stop-color="#350498"/><stop offset="0.05" stop-color="#3f049c"/><stop offset="0.074" stop-color="#7701a8"/><stop offset="0.076" stop-color="#8004a8"/><stop offset="0.086" stop-color="#9410a2"/><stop offset="0.088" stop-color="#8f0da4"/><stop offset="0.098" stop-color="#a31e9a"/><stop offset="0.1" stop-color="#a31e9a"/><stop offset="0.124" stop-color="#cc4977"/><stop offset="0.148" stop-color="#e76e5b"/><stop offset="0.162" stop-color="#f68d45"/><stop offset="0.18" stop-color="#fdab33"/><stop offset="0.202" stop-color="#fccd25"/><stop offset="0.228" stop-color="#f7e225"/><stop offset="0.266" stop-color="#f3ee27"/><stop offset="0.3" stop-color="#f1f426"/><stop offset="0.38" stop-color="#f1f525"/><stop offset="0.44" stop-color="#f2f227"/><stop offset="0.5" stop-color="#f5eb27"/><stop offset="0.52" stop-color="#f7e225"/><stop offset="0.64" stop-color="#fcce25"/><stop offset="0.84" stop-color="#febd2a"/><stop offset="1" stop-color="#fdb52e"/></linearGradient>
<linearGradient id="g33" x1="0" y1="0" x2="0" y2="1"><stop offset="0" stop-color="#370499"/><stop offset="0.012" stop-color="#3a049a"/><stop offset="0.014" stop-color="#350498"/><stop offset="0.024" stop-color="#38049a"/><stop offset="0.026" stop-color="#41049d"/><stop offset="0.046" stop-color="#43039e"/><stop offset="0.062" stop-color="#6700a8"/><stop offset="0.064" stop-color="#6400a7"/><stop offset="0.066" stop-color="#6700a8"/><stop offset="0.078" stop-color="#8104a7"/><stop offset="0.086" stop-color="#920fa3"/><stop offset="0.088" stop-color="#910ea3"/><stop offset="0.094" stop-color="#9d189d"/><stop offset="0.098" stop-color="#a51f99"/><stop offset="0.1" stop-color="#b02991"/><stop offset="0.11" stop-color="#bf3984"/><stop offset="0.144" stop-color="#e66c5c"/><stop offset="0.16" stop-color="#f79342"/><stop offset="0.2" stop-color="#fdcb26"/><stop offset="0.226" stop-color="#f8e125"/><stop offset="0.256" stop-color="#f5eb27"/><stop offset="0.3" stop-color="#f2f227"/><stop offset="0.36" stop-color="#f1f426"/><stop offset="0.44" stop-color="#f3f027"/><stop offset="0.48" stop-color="#f4ed27"/><stop offset="0.52" stop-color="#f8e125"/><stop offset="0.66" stop-color="#fdcb26"/><stop offset="0.82" stop-color="#febd2a"/><stop offset="1" stop-color="#fdb42f"/></linearGradient>
<linearGradient id="g34" x1="0" y1="0" x2="0" y2="1"><stop offset="0" stop-color="#1b068d"/><stop offset="0.012" stop-color="#20068f"/><stop offset="0.014" stop-color="#2e0595"/><stop offset="0.018" stop-color="#2f0596"/><stop offset="0.024" stop-color="#2f0596"/><stop offset="0.026" stop-color="#280592"/><stop offset="0.036" stop-color="#2a0593"/><stop offset="0.042" stop-color="#260591"/><stop offset="0.048" stop-color="#280592"/><stop offset="0.052" stop-color="#2f0596"/><stop offset="0.06" stop-color="#310597"/><stop offset="0.062" stop-color="#370499"/><stop offset="0.064" stop-color="#46039f"/><stop offset="0.068" stop-color="#5302a3"/><stop offset="0.074" stop-color="#6600a7"/><stop offset="0.076" stop-color="#6400a7"/><stop offset="0.084" stop-color="#7e03a8"/><stop offset="0.088" stop-color="#8707a6"/><stop offset="0.1" stop-color="#a72197"/><stop offset="0.112" stop-color="#c33d80"/><stop offset="0.114" stop-color="#cc4977"/><stop offset="0.116" stop-color="#d04d73"/><stop offset="0.124" stop-color="#d7566c"/><stop offset="0.126" stop-color="#d5536f"/><stop offset="0.134" stop-color="#dc5d67"/><stop offset="0.16" stop-color="#f68d45"/><stop offset="0.174" stop-color="#fba238"/><stop offset="0.204" stop-color="#fdcb26"/><stop offset="0.228" stop-color="#f8df25"/><stop offset="0.26" stop-color="#f5eb27"/><stop offset="0.32" stop-color="#f2f227"/><stop offset="0.46" stop-color="#f3ee27"/><stop offset="0.64" stop-color="#fccd25"/><stop offset="0.88" stop-color="#feb82c"/><stop offset="1" stop-color="#fdb42f"/></linearGradient>
<linearGradient id="g35" x1="0" y1="0" x2="0" y2="1"><stop offset="0" stop-color="#2f0596"/><stop offset="0.024" stop-color="#350498"/><stop offset="0.026" stop-color="#3f049c"/><stop offset="0.036" stop-color="#41049d"/><stop offset="0.038" stop-color="#48039f"/><stop offset="0.042" stop-color="#4903a0"/><stop offset="0.048" stop-color="#5901a5"/><stop offset="0.05" stop-color="#5901a5"/><stop offset="0.062" stop-color="#7b02a8"/><stop offset="0.064" stop-color="#8707a6"/><stop offset="0.066" stop-color="#8d0ba5"/><stop offset="0.084" stop-color="#b32c8e"/><stop offset="0.088" stop-color="#b6308b"/><stop offset="0.1" stop-color="#cd4a76"/><stop offset="0.112" stop-color="#d8576b"/><stop offset="0.13" stop-color="#e56a5d"/><stop offset="0.154" stop-color="#f79342"/><stop offset="0.19" stop-color="#fdc229"/><stop offset="0.224" stop-color="#f8e125"/><stop offset="0.254" stop-color="#f5eb27"/><stop offset="0.3" stop-color="#f2f227"/><stop offset="0.42" stop-color="#f2f227"/><stop offset="0.48" stop-color="#f4ed27"/><stop offset="0.52" stop-color="#f8e125"/><stop offset="0.66" stop-color="#fdcb26"/><stop offset="1" stop-color="#fdb42f"/></linearGradient>
<linearGradient id="g36" x1="0" y1="0" x2="0" y2="1"><stop offset="0" stop-color="#240691"/><stop offset="0.032" stop-color="#2f0596"/><stop offset="0.036" stop-color="#2f0596"/><stop offset="0.038" stop-color="#20068f"/><stop offset="0.05" stop-color="#240691"/><stop offset="0.062" stop-color="#4c02a1"/><stop offset="0.064" stop-color="#5b01a5"/><stop offset="0.074" stop-color="#7801a8"/><stop offset="0.076" stop-color="#8305a7"/><stop offset="0.08" stop-color="#8e0ca4"/><stop offset="0.092" stop-color="#a72197"/><stop offset="0.1" stop-color="#bc3587"/><stop offset="0.11" stop-color="#ce4b75"/><stop offset="0.14" stop-color="#e56b5d"/><stop offset="0.168" stop-color="#fa9c3c"/><stop offset="0.194" stop-color="#fdcb26"/><stop offset="0.222" stop-color="#f7e225"/><stop offset="0.248" stop-color="#f5eb27"/><stop offset="0.32" stop-color="#f1f426"/><stop offset="0.44" stop-color="#f2f227"/><stop offset="0.5" stop-color="#f5eb27"/><stop offset="0.52" stop-color="#f7e225"/><stop offset="0.64" stop-color="#fcce25"/><stop offset="0.86" stop-color="#febb2b"/><stop offset="1" stop-color="#fdb52e"/></linearGradient>
<linearGradient id="g37" x1="0" y1="0" x2="0" y2="1"><stop offset="0" stop-color="#240691"/><stop offset="0.012" stop-color="#260591"/><stop offset="0.014" stop-color="#20068f"/><stop offset="0.024" stop-color="#220690"/><stop offset="0.028" stop-color="#2a0593"/><stop offset="0.036" stop-color="#2a0593"/><stop offset="0.038" stop-color="#310597"/><stop offset="0.048" stop-color="#350498"/><stop offset="0.05" stop-color="#2a0593"/><stop offset="0.06" stop-color="#2c0594"/><stop offset="0.062" stop-color="#330597"/><stop offset="0.064" stop-color="#4b03a1"/><stop offset="0.074" stop-color="#6a00a8"/><stop offset="0.076" stop-color="#6400a7"/><stop offset="0.084" stop-color="#7d03a8"/><stop offset="0.088" stop-color="#910ea3"/><stop offset="0.098" stop-color="#ab2494"/><stop offset="0.1" stop-color="#b42e8d"/><stop offset="0.112" stop-color="#cc4977"/><stop offset="0.114" stop-color="#c8437b"/><stop offset="0.138" stop-color="#e26660"/><stop offset="0.144" stop-color="#e66c5c"/><stop offset="0.16" stop-color="#f48849"/><stop offset="0.182" stop-color="#fca934"/><stop offset="0.206" stop-color="#fcce25"/><stop offset="0.23" stop-color="#f7e225"/><stop offset="0.264" stop-color="#f3ee27"/><stop offset="0.3" stop-color="#f1f426"/><stop offset="0.42" stop-color="#f1f426"/><stop offset="0.48" stop-color="#f3ee27"/><stop offset="0.52" stop-color="#f7e225"/><stop offset="0.66" stop-color="#fccd25"/><stop offset="0.8" stop-color="#fec029"/><stop offset="1" stop-color="#fdb52e"/></linearGradient>
<linearGradient id="g38" x1="0" y1="0" x2="0" y2="1"><stop offset="0" stop-color="#44039e"/><stop offset="0.012" stop-color="#46039f"/><stop offset="0.014" stop-color="#3a049a"/><stop offset="0.02" stop-color="#3a049a"/><stop offset="0.024" stop-color="#3c049b"/><stop offset="0.026" stop-color="#48039f"/><stop offset="0.028" stop-color="#4903a0"/><stop offset="0.036" stop-color="#4b03a1"/><stop offset="0.038" stop-color="#43039e"/><stop offset="0.048" stop-color="#46039f"/><stop offset="0.058" stop-color="#5801a4"/><stop offset="0.062" stop-color="#6100a7"/><stop offset="0.064" stop-color="#6a00a8"/><stop offset="0.08" stop-color="#8707a6"/><stop offset="0.092" stop-color="#9e199d"/><stop offset="0.112" stop-color="#bf3984"/><stop offset="0.152" stop-color="#e66c5c"/><stop offset="0.174" stop-color="#f89441"/><stop offset="0.206" stop-color="#fdcb26"/><stop offset="0.234" stop-color="#f7e225"/><stop offset="0.262" stop-color="#f4ed27"/><stop offset="0.3" stop-color="#f2f227"/><stop offset="0.4" stop-color="#f1f426"/><stop offset="0.5" stop-color="#f5eb27"/><stop offset="0.52" stop-color="#f7e225"/><stop offset="0.68" stop-color="#fdca26"/><stop offset="1" stop-color="#fdb42f"/></linearGradient>
<linearGradient id="g39" x1="0" y1="0" x2="0" y2="1"><stop offset="0" stop-color="#43039e"/><stop offset="0.012" stop-color="#46039f"/><stop offset="0.016" stop-color="#4e02a2"/><stop offset="0.036" stop-color="#5102a3"/><stop offset="0.048" stop-color="#6900a8"/><stop offset="0.05" stop-color="#6001a6"/><stop offset="0.06" stop-color="#7201a8"/><stop offset="0.068" stop-color="#8606a6"/><stop offset="0.074" stop-color="#8f0da4"/><stop offset="0.076" stop-color="#8e0ca4"/><stop offset="0.096" stop-color="#b02991"/><stop offset="0.11" stop-color="#c03a83"/><stop offset="0.138" stop-color="#e26660"/><stop offset="0.156" stop-color="#f89441"/><stop offset="0.2" stop-color="#fdca26"/><stop offset="0.228" stop-color="#f8e125"/><stop offset="0.262" stop-color="#f4ed27"/><stop offset="0.34" stop-color="#f1f426"/><stop offset="0.42" stop-color="#f2f227"/><stop offset="0.48" stop-color="#f4ed27"/><stop offset="0.52" stop-color="#f8e125"/><stop offset="0.66" stop-color="#fdcb26"/><stop offset="1" stop-color="#fdb42f"/></linearGradient>
<linearGradient id="g40" x1="0" y1="0" x2="0" y2="1"><stop offset="0" stop-color="#48039f"/><stop offset="0.01" stop-color="#4903a0"/><stop offset="0.012" stop-color="#4b03a1"/><stop offset="0.014" stop-color="#5502a4"/><stop offset="0.02" stop-color="#5601a4"/><stop offset="0.024" stop-color="#5601a4"/><stop offset="0.026" stop-color="#44039e"/><stop offset="0.062" stop-color="#5102a3"/><stop offset="0.068" stop-color="#6300a7"/><stop offset="0.082" stop-color="#8004a8"/><stop offset="0.098" stop-color="#9d189d"/><stop offset="0.112" stop-color="#b52f8c"/><stop offset="0.114" stop-color="#bd3786"/><stop offset="0.124" stop-color="#cb4679"/><stop offset="0.126" stop-color="#ca457a"/><stop offset="0.146" stop-color="#dd5e66"/><stop offset="0.172" stop-color="#f79143"/><stop offset="0.192" stop-color="#fdb130"/><stop offset="0.208" stop-color="#fdcb26"/><stop offset="0.232" stop-color="#f8df25"/><stop offset="0.27" stop-color="#f4ed27"/><stop offset="0.32" stop-color="#f2f227"/><stop offset="0.4" stop-color="#f2f227"/><stop offset="0.5" stop-color="#f5e926"/><stop offset="0.52" stop-color="#f8e125"/><stop offset="0.7" stop-color="#fdc627"/><stop offset="1" stop-color="#fdb42f"/></linearGradient>
<linearGradient id="g41" x1="0" y1="0" x2="0" y2="1"><stop offset="0" stop-color="#5601a4"/><stop offset="0.012" stop-color="#5801a4"/><stop offset="0.014" stop-color="#5002a2"/><stop offset="0.024" stop-color="#5102a3"/><stop offset="0.026" stop-color="#5e01a6"/><stop offset="0.034" stop-color="#6001a6"/><stop offset="0.036" stop-color="#6001a6"/><stop offset="0.038" stop-color="#5601a4"/><stop offset="0.044" stop-color="#5801a4"/><stop offset="0.062" stop-color="#7e03a8"/><stop offset="0.064" stop-color="#8b0aa5"/><stop offset="0.066" stop-color="#8f0da4"/><stop offset="0.074" stop-color="#9d189d"/><stop offset="0.076" stop-color="#9814a0"/><stop offset="0.096" stop-color="#bb3488"/><stop offset="0.122" stop-color="#d5546e"/><stop offset="0.126" stop-color="#dc5d67"/><stop offset="0.138" stop-color="#e66c5c"/><stop offset="0.158" stop-color="#f89441"/><stop offset="0.194" stop-color="#fdca26"/><stop offset="0.22" stop-color="#f8df25"/><stop offset="0.25" stop-color="#f5e926"/><stop offset="0.34" stop-color="#f2f227"/><stop offset="0.42" stop-color="#f3f027"/><stop offset="0.5" stop-color="#f5e926"/><stop offset="0.52" stop-color="#f8e125"/><stop offset="0.6" stop-color="#fcd225"/><stop offset="0.68" stop-color="#fdc827"/><stop offset="1" stop-color="#fdb22f"/></linearGradient>
<linearGradient id="g42" x1="0" y1="0" x2="0" y2="1"><stop offset="0" stop-color="#6001a6"/><stop offset="0.012" stop-color="#6300a7"/><stop offset="0.014" stop-color="#6900a8"/><stop offset="0.018" stop-color="#6a00a8"/><stop offset="0.046" stop-color="#6600a7"/><stop offset="0.062" stop-color="#7e03a8"/><stop offset="0.064" stop-color="#8606a6"/><stop offset="0.076" stop-color="#9a169f"/><stop offset="0.098" stop-color="#b6308b"/><stop offset="0.1" stop-color="#bd3786"/><stop offset="0.136" stop-color="#de5f65"/><stop offset="0.146" stop-color="#e76e5b"/><stop offset="0.166" stop-color="#f89441"/><stop offset="0.184" stop-color="#fdaf31"/><stop offset="0.202" stop-color="#fccd25"/><stop offset="0.228" stop-color="#f7e225"/><stop offset="0.264" stop-color="#f3ee27"/><stop offset="0.34" stop-color="#f1f525"/><stop offset="0.42" stop-color="#f1f426"/><stop offset="0.48" stop-color="#f3ee27"/><stop offset="0.52" stop-color="#f7e225"/><stop offset="0.66" stop-color="#fccd25"/><stop offset="1" stop-color="#fdb52e"/></linearGradient>
<linearGradient id="g43" x1="0" y1="0" x2="0" y2="1"><stop offset="0" stop-color="#5901a5"/><stop offset="0.036" stop-color="#6300a7"/><stop offset="0.038" stop-color="#6a00a8"/><stop offset="0.042" stop-color="#6a00a8"/><stop offset="0.048" stop-color="#7201a8"/><stop offset="0.05" stop-color="#6f00a8"/><stop offset="0.064" stop-color="#8808a6"/><stop offset="0.08" stop-color="#a31e9a"/><stop offset="0.088" stop-color="#b32c8e"/><stop offset="0.1" stop-color="#c03a83"/><stop offset="0.114" stop-color="#d35171"/><stop offset="0.138" stop-color="#e56b5d"/><stop offset="0.16" stop-color="#f89540"/><stop offset="0.208" stop-color="#fdca26"/><stop offset="0.238" stop-color="#f7e225"/><stop offset="0.268" stop-color="#f3ee27"/><stop offset="0.32" stop-color="#f1f426"/><stop offset="0.44" stop-color="#f2f227"/><stop offset="0.5" stop-color="#f5eb27"/><stop offset="0.52" stop-color="#f7e225"/><stop offset="0.64" stop-color="#fcce25"/><stop offset="0.88" stop-color="#feba2c"/><stop offset="1" stop-color="#fdb52e"/></linearGradient>
<linearGradient id="g44" x1="0" y1="0" x2="0" y2="1"><stop offset="0" stop-color="#5002a2"/><stop offset="0.01" stop-color="#5302a3"/><stop offset="0.014" stop-color="#5b01a5"/><stop offset="0.018" stop-color="#5c01a6"/><stop offset="0.034" stop-color="#5b01a5"/><stop offset="0.048" stop-color="#6f00a8"/><stop offset="0.05" stop-color="#7701a8"/><stop offset="0.056" stop-color="#8004a8"/><stop offset="0.072" stop-color="#920fa3"/><stop offset="0.076" stop-color="#920fa3"/><stop offset="0.1" stop-color="#b42e8d"/><stop offset="0.13" stop-color="#d24f71"/><stop offset="0.148" stop-color="#e76e5b"/><stop offset="0.164" stop-color="#f89540"/><stop offset="0.208" stop-color="#fccd25"/><stop offset="0.232" stop-color="#f8e125"/><stop offset="0.27" stop-color="#f3ee27"/><stop offset="0.32" stop-color="#f1f426"/><stop offset="0.4" stop-color="#f1f426"/><stop offset="0.5" stop-color="#f5eb27"/><stop offset="0.52" stop-color="#f7e225"/><stop offset="0.7" stop-color="#fdc827"/><stop offset="1" stop-color="#fdb52e"/></linearGradient>
<linearGradient id="g45" x1="0" y1="0" x2="0" y2="1"><stop offset="0" stop-color="#6100a7"/><stop offset="0.012" stop-color="#6a00a8"/><stop offset="0.016" stop-color="#6900a8"/><stop offset="0.034" stop-color="#8104a7"/><stop offset="0.038" stop-color="#7e03a8"/><stop offset="0.046" stop-color="#8707a6"/><stop offset="0.05" stop-color="#920fa3"/><stop offset="0.062" stop-color="#9e199d"/><stop offset="0.066" stop-color="#9e199d"/><stop offset="0.1" stop-color="#c23c81"/><stop offset="0.116" stop-color="#cc4778"/><stop offset="0.14" stop-color="#e56a5d"/><stop offset="0.16" stop-color="#f89540"/><stop offset="0.2" stop-color="#fdc527"/><stop offset="0.228" stop-color="#f8df25"/><stop offset="0.27" stop-color="#f3ee27"/><stop offset="0.32" stop-color="#f1f426"/><stop offset="0.4" stop-color="#f1f426"/><stop offset="0.5" stop-color="#f5eb27"/><stop offset="0.52" stop-color="#f7e225"/><stop offset="0.7" stop-color="#fdc827"/><stop offset="1" stop-color="#fdb52e"/></linearGradient>
<linearGradient id="g46" x1="0" y1="0" x2="0" y2="1"><stop offset="0" stop-color="#5801a4"/><stop offset="0.012" stop-color="#6001a6"/><stop offset="0.014" stop-color="#5c01a6"/><stop offset="0.024" stop-color="#6900a8"/><stop offset="0.026" stop-color="#6600a7"/><stop offset="0.036" stop-color="#7401a8"/><stop offset="0.038" stop-color="#8004a8"/><stop offset="0.044" stop-color="#8808a6"/><stop offset="0.048" stop-color="#8d0ba5"/><stop offset="0.05" stop-color="#8707a6"/><stop offset="0.054" stop-color="#8b0aa5"/><stop offset="0.076" stop-color="#ac2694"/><stop offset="0.096" stop-color="#be3885"/><stop offset="0.1" stop-color="#c5407e"/><stop offset="0.14" stop-color="#e56a5d"/><stop offset="0.162" stop-color="#f79044"/><stop offset="0.182" stop-color="#fdae32"/><stop offset="0.2" stop-color="#fdcb26"/><stop offset="0.226" stop-color="#f8e125"/><stop offset="0.256" stop-color="#f5eb27"/><stop offset="0.3" stop-color="#f2f227"/><stop offset="0.42" stop-color="#f2f227"/><stop offset="0.48" stop-color="#f4ed27"/><stop offset="0.52" stop-color="#f8e125"/><stop offset="0.66" stop-color="#fdcb26"/><stop offset="0.82" stop-color="#febd2a"/><stop offset="1" stop-color="#fdb42f"/></linearGradient>
<linearGradient id="g47" x1="0" y1="0" x2="0" y2="1"><stop offset="0" stop-color="#5502a4"/><stop offset="0.012" stop-color="#5901a5"/><stop offset="0.014" stop-color="#6300a7"/><stop offset="0.028" stop-color="#6a00a8"/><stop offset="0.048" stop-color="#8405a7"/><stop offset="0.05" stop-color="#8104a7"/><stop offset="0.062" stop-color="#8f0da4"/><stop offset="0.064" stop-color="#9a169f"/><stop offset="0.074" stop-color="#a51f99"/><stop offset="0.076" stop-color="#9e199d"/><stop offset="0.078" stop-color="#a01a9c"/><stop offset="0.09" stop-color="#b12a90"/><stop offset="0.132" stop-color="#d35171"/><stop offset="0.154" stop-color="#e66c5c"/><stop offset="0.176" stop-color="#f89540"/><stop offset="0.216" stop-color="#fdcb26"/><stop offset="0.242" stop-color="#f8e125"/><stop offset="0.276" stop-color="#f3ee27"/><stop offset="0.36" stop-color="#f1f426"/><stop offset="0.44" stop-color="#f3f027"/><stop offset="0.48" stop-color="#f4ed27"/><stop offset="0.52" stop-color="#f8e125"/><stop offset="0.66" stop-color="#fdcb26"/><stop offset="0.82" stop-color="#febd2a"/><stop offset="1" stop-color="#fdb42f"/></linearGradient>
<linearGradient id="g48" x1="0" y1="0" x2="0" y2="1"><stop offset="0" stop-color="#4c02a1"/><stop offset="0.024" stop-color="#5801a4"/><stop offset="0.026" stop-color="#6400a7"/><stop offset="0.036" stop-color="#7100a8"/><stop offset="0.038" stop-color="#6900a8"/><stop offset="0.06" stop-color="#8606a6"/><stop offset="0.068" stop-color="#9511a1"/><stop offset="0.086" stop-color="#a72197"/><stop offset="0.088" stop-color="#b02991"/><stop offset="0.09" stop-color="#b22b8f"/><stop offset="0.098" stop-color="#ba3388"/><stop offset="0.1" stop-color="#b52f8c"/><stop offset="0.124" stop-color="#ce4b75"/><stop offset="0.15" stop-color="#e26561"/><stop offset="0.174" stop-color="#f58c46"/><stop offset="0.196" stop-color="#fdac33"/><stop offset="0.218" stop-color="#fcce25"/><stop offset="0.24" stop-color="#f8e125"/><stop offset="0.28" stop-color="#f3f027"/><stop offset="0.32" stop-color="#f1f426"/><stop offset="0.46" stop-color="#f3f027"/><stop offset="0.64" stop-color="#fcce25"/><stop offset="0.88" stop-color="#feba2c"/><stop offset="1" stop-color="#fdb52e"/></linearGradient>
<linearGradient id="g49" x1="0" y1="0" x2="0" y2="1"><stop offset="0" stop-color="#3c049b"/><stop offset="0.012" stop-color="#3f049c"/><stop offset="0.014" stop-color="#2f0596"/><stop offset="0.044" stop-color="#3a049a"/><stop offset="0.062" stop-color="#6100a7"/><stop offset="0.064" stop-color="#6e00a8"/><stop offset="0.078" stop-color="#8606a6"/><stop offset="0.088" stop-color="#9c179e"/><stop offset="0.112" stop-color="#c03a83"/><stop offset="0.116" stop-color="#c13b82"/><stop offset="0.126" stop-color="#cf4c74"/><stop offset="0.148" stop-color="#e06363"/><stop offset="0.172" stop-color="#f58c46"/><stop offset="0.196" stop-color="#fdae32"/><stop offset="0.218" stop-color="#fccd25"/><stop offset="0.244" stop-color="#f7e225"/><stop offset="0.278" stop-color="#f3f027"/><stop offset="0.32" stop-color="#f1f426"/><stop offset="0.44" stop-color="#f2f227"/><stop offset="0.5" stop-color="#f5eb27"/><stop offset="0.52" stop-color="#f7e225"/><stop offset="0.64" stop-color="#fcce25"/><stop offset="0.86" stop-color="#febb2b"/><stop offset="1" stop-color="#fdb52e"/></linearGradient>
<linearGradient id="g50" x1="0" y1="0" x2="0" y2="1"><stop offset="0" stop-color="#3f049c"/><stop offset="0.022" stop-color="#48039f"/><stop offset="0.028" stop-color="#43039e"/><stop offset="0.044" stop-color="#4903a0"/><stop offset="0.048" stop-color="#5102a3"/><stop offset="0.052" stop-color="#5302a3"/><stop offset="0.074" stop-color="#7e03a8"/><stop offset="0.076" stop-color="#8a09a5"/><stop offset="0.084" stop-color="#9613a1"/><stop offset="0.088" stop-color="#9613a1"/><stop offset="0.128" stop-color="#cc4778"/><stop offset="0.15" stop-color="#e76f5a"/><stop offset="0.164" stop-color="#f89441"/><stop offset="0.186" stop-color="#fdb22f"/><stop offset="0.206" stop-color="#fcce25"/><stop offset="0.23" stop-color="#f7e225"/><stop offset="0.262" stop-color="#f3ee27"/><stop offset="0.34" stop-color="#f1f525"/><stop offset="0.42" stop-color="#f1f426"/><stop offset="0.5" stop-color="#f4ed27"/><stop offset="0.52" stop-color="#f7e225"/><stop offset="0.68" stop-color="#fdcb26"/><stop offset="1" stop-color="#fdb52e"/></linearGradient>
<linearGradient id="g51" x1="0" y1="0" x2="0" y2="1"><stop offset="0" stop-color="#48039f"/><stop offset="0.01" stop-color="#4903a0"/><stop offset="0.012" stop-color="#4b03a1"/><stop offset="0.014" stop-color="#5502a4"/><stop offset="0.018" stop-color="#5601a4"/><stop offset="0.036" stop-color="#5901a5"/><stop offset="0.038" stop-color="#5102a3"/><stop offset="0.04" stop-color="#5302a3"/><stop offset="0.062" stop-color="#7b02a8"/><stop offset="0.064" stop-color="#8405a7"/><stop offset="0.074" stop-color="#920fa3"/><stop offset="0.076" stop-color="#8a09a5"/><stop offset="0.086" stop-color="#9a169f"/><stop offset="0.088" stop-color="#a31e9a"/><stop offset="0.096" stop-color="#ae2892"/><stop offset="0.128" stop-color="#ce4b75"/><stop offset="0.15" stop-color="#e56a5d"/><stop offset="0.17" stop-color="#f89441"/><stop offset="0.204" stop-color="#fdcb26"/><stop offset="0.232" stop-color="#f7e225"/><stop offset="0.268" stop-color="#f3ee27"/><stop offset="0.3" stop-color="#f1f426"/><stop offset="0.38" stop-color="#f1f525"/><stop offset="0.44" stop-color="#f2f227"/><stop offset="0.5" stop-color="#f5eb27"/><stop offset="0.52" stop-color="#f7e225"/><stop offset="0.64" stop-color="#fcce25"/><stop offset="0.86" stop-color="#febb2b"/><stop offset="1" stop-color="#fdb52e"/></linearGradient>
<linearGradient id="g52" x1="0" y1="0" x2="0" y2="1"><stop offset="0" stop-color="#3f049c"/><stop offset="0.024" stop-color="#44039e"/><stop offset="0.026" stop-color="#4e02a2"/><stop offset="0.044" stop-color="#5302a3"/><stop offset="0.062" stop-color="#7100a8"/><stop offset="0.074" stop-color="#8606a6"/><stop offset="0.076" stop-color="#8d0ba5"/><stop offset="0.086" stop-color="#9d189d"/><stop offset="0.092" stop-color="#a11b9b"/><stop offset="0.098" stop-color="#ab2494"/><stop offset="0.1" stop-color="#b32c8e"/><stop offset="0.108" stop-color="#bd3786"/><stop offset="0.15" stop-color="#e4695e"/><stop offset="0.168" stop-color="#f58c46"/><stop offset="0.19" stop-color="#fdb130"/><stop offset="0.206" stop-color="#fdcb26"/><stop offset="0.23" stop-color="#f8df25"/><stop offset="0.26" stop-color="#f5eb27"/><stop offset="0.32" stop-color="#f2f227"/><stop offset="0.4" stop-color="#f2f227"/><stop offset="0.5" stop-color="#f5e926"/><stop offset="0.52" stop-color="#f8e125"/><stop offset="0.7" stop-color="#fdc627"/><stop offset="1" stop-color="#fdb42f"/></linearGradient>
<linearGradient id="g53" x1="0" y1="0" x2="0" y2="1"><stop offset="0" stop-color="#44039e"/><stop offset="0.02" stop-color="#4e02a2"/><stop offset="0.024" stop-color="#4e02a2"/><stop offset="0.026" stop-color="#44039e"/><stop offset="0.05" stop-color="#4c02a1"/><stop offset="0.07" stop-color="#7501a8"/><stop offset="0.082" stop-color="#8405a7"/><stop offset="0.1" stop-color="#a21d9a"/><stop offset="0.128" stop-color="#c6417d"/><stop offset="0.164" stop-color="#e76f5a"/><stop offset="0.184" stop-color="#f9973f"/><stop offset="0.214" stop-color="#fdcb26"/><stop offset="0.242" stop-color="#f7e225"/><stop offset="0.272" stop-color="#f3ee27"/><stop offset="0.4" stop-color="#f1f426"/><stop offset="0.5" stop-color="#f5eb27"/><stop offset="0.52" stop-color="#f7e225"/><stop offset="0.68" stop-color="#fdca26"/><stop offset="1" stop-color="#fdb42f"/></linearGradient>
<linearGradient id="g54" x1="0" y1="0" x2="0" y2="1"><stop offset="0" stop-color="#3c049b"/><stop offset="0.012" stop-color="#3f049c"/><stop offset="0.014" stop-color="#4903a0"/><stop offset="0.016" stop-color="#4b03a1"/><stop offset="0.036" stop-color="#4c02a1"/><stop offset="0.038" stop-color="#5601a4"/><stop offset="0.048" stop-color="#6001a6"/><stop offset="0.05" stop-color="#5c01a6"/><stop offset="0.074" stop-color="#8405a7"/><stop offset="0.078" stop-color="#8606a6"/><stop offset="0.086" stop-color="#920fa3"/><stop offset="0.088" stop-color="#9d189d"/><stop offset="0.096" stop-color="#a72197"/><stop offset="0.112" stop-color="#b83289"/><stop offset="0.152" stop-color="#e4695e"/><stop offset="0.17" stop-color="#f68f44"/><stop offset="0.19" stop-color="#fca934"/><stop offset="0.216" stop-color="#fdcb26"/><stop offset="0.242" stop-color="#f8e125"/><stop offset="0.272" stop-color="#f3ee27"/><stop offset="0.34" stop-color="#f1f426"/><stop offset="0.42" stop-color="#f2f227"/><stop offset="0.5" stop-color="#f5eb27"/><stop offset="0.52" stop-color="#f7e225"/><stop offset="0.6" stop-color="#fbd324"/><stop offset="0.68" stop-color="#fdca26"/><stop offset="1" stop-color="#fdb42f"/></linearGradient>
<linearGradient id="g55" x1="0" y1="0" x2="0" y2="1"><stop offset="0" stop-color="#43039e"/><stop offset="0.036" stop-color="#4b03a1"/><stop offset="0.038" stop-color="#44039e"/><stop offset="0.046" stop-color="#46039f"/><stop offset="0.052" stop-color="#4e02a2"/><stop offset="0.074" stop-color="#7d03a8"/><stop offset="0.092" stop-color="#9c179e"/><stop offset="0.104" stop-color="#b32c8e"/><stop offset="0.12" stop-color="#c8437b"/><stop offset="0.156" stop-color="#e56a5d"/><stop offset="0.174" stop-color="#f3874a"/><stop offset="0.196" stop-color="#fca835"/><stop offset="0.22" stop-color="#fdcb26"/><stop offset="0.248" stop-color="#f7e225"/><stop offset="0.276" stop-color="#f3ee27"/><stop offset="0.34" stop-color="#f1f426"/><stop offset="0.42" stop-color="#f2f227"/><stop offset="0.5" stop-color="#f5eb27"/><stop offset="0.52" stop-color="#f8e125"/><stop offset="0.68" stop-color="#fdca26"/><stop offset="1" stop-color="#fdb42f"/></linearGradient>
<linearGradient id="g56" x1="0" y1="0" x2="0" y2="1"><stop offset="0" stop-color="#3c049b"/><stop offset="0.012" stop-color="#3f049c"/><stop offset="0.014" stop-color="#4e02a2"/><stop offset="0.016" stop-color="#5002a2"/><stop offset="0.024" stop-color="#5002a2"/><stop offset="0.026" stop-color="#4903a0"/><stop offset="0.032" stop-color="#4903a0"/><stop offset="0.036" stop-color="#4b03a1"/><stop offset="0.038" stop-color="#5502a4"/><stop offset="0.048" stop-color="#5601a4"/><stop offset="0.05" stop-color="#48039f"/><stop offset="0.058" stop-color="#4b03a1"/><stop offset="0.062" stop-color="#5502a4"/><stop offset="0.064" stop-color="#6300a7"/><stop offset="0.078" stop-color="#7d03a8"/><stop offset="0.086" stop-color="#8d0ba5"/><stop offset="0.088" stop-color="#8d0ba5"/><stop offset="0.108" stop-color="#ae2892"/><stop offset="0.122" stop-color="#c7427c"/><stop offset="0.154" stop-color="#e56a5d"/><stop offset="0.178" stop-color="#f9983e"/><stop offset="0.21" stop-color="#fccd25"/><stop offset="0.236" stop-color="#f7e225"/><stop offset="0.268" stop-color="#f3ee27"/><stop offset="0.32" stop-color="#f1f426"/><stop offset="0.44" stop-color="#f2f227"/><stop offset="0.5" stop-color="#f5eb27"/><stop offset="0.52" stop-color="#f7e225"/><stop offset="0.64" stop-color="#fcce25"/><stop offset="0.86" stop-color="#febb2b"/><stop offset="1" stop-color="#fdb52e"/></linearGradient>
<linearGradient id="g57" x1="0" y1="0" x2="0" y2="1"><stop offset="0" stop-color="#44039e"/><stop offset="0.012" stop-color="#46039f"/><stop offset="0.014" stop-color="#4c02a1"/><stop offset="0.022" stop-color="#4e02a2"/><stop offset="0.024" stop-color="#4e02a2"/><stop offset="0.026" stop-color="#46039f"/><stop offset="0.032" stop-color="#46039f"/><stop offset="0.052" stop-color="#5002a2"/><stop offset="0.07" stop-color="#7100a8"/><stop offset="0.08" stop-color="#8606a6"/><stop offset="0.094" stop-color="#a21d9a"/><stop offset="0.098" stop-color="#a82296"/><stop offset="0.1" stop-color="#a62098"/><stop offset="0.122" stop-color="#c7427c"/><stop offset="0.152" stop-color="#e56b5d"/><stop offset="0.17" stop-color="#f79342"/><stop offset="0.19" stop-color="#fdaf31"/><stop offset="0.21" stop-color="#fccd25"/><stop offset="0.236" stop-color="#f7e225"/><stop offset="0.268" stop-color="#f3ee27"/><stop offset="0.3" stop-color="#f1f426"/><stop offset="0.38" stop-color="#f1f525"/><stop offset="0.44" stop-color="#f2f227"/><stop offset="0.5" stop-color="#f5eb27"/><stop offset="0.52" stop-color="#f7e225"/><stop offset="0.64" stop-color="#fcce25"/><stop offset="0.86" stop-color="#febb2b"/><stop offset="1" stop-color="#fdb52e"/></linearGradient>
<linearGradient id="g58" x1="0" y1="0" x2="0" y2="1"><stop offset="0" stop-color="#3a049a"/><stop offset="0.012" stop-color="#3c049b"/><stop offset="0.014" stop-color="#44039e"/><stop offset="0.016" stop-color="#46039f"/><stop offset="0.042" stop-color="#43039e"/><stop offset="0.06" stop-color="#48039f"/><stop offset="0.064" stop-color="#5601a4"/><stop offset="0.086" stop-color="#8104a7"/><stop offset="0.096" stop-color="#9814a0"/><stop offset="0.1" stop-color="#9814a0"/><stop offset="0.104" stop-color="#9e199d"/><stop offset="0.128" stop-color="#c8437b"/><stop offset="0.15" stop-color="#e16462"/><stop offset="0.17" stop-color="#f89441"/><stop offset="0.192" stop-color="#fdb130"/><stop offset="0.212" stop-color="#fccd25"/><stop offset="0.236" stop-color="#f8e125"/><stop offset="0.27" stop-color="#f3ee27"/><stop offset="0.32" stop-color="#f1f426"/><stop offset="0.46" stop-color="#f3f027"/><stop offset="0.64" stop-color="#fcce25"/><stop offset="0.88" stop-color="#feba2c"/><stop offset="1" stop-color="#fdb52e"/></linearGradient>
<linearGradient id="g59" x1="0" y1="0" x2="0" y2="1"><stop offset="0" stop-color="#4903a0"/><stop offset="0.012" stop-color="#4b03a1"/><stop offset="0.014" stop-color="#5102a3"/><stop offset="0.018" stop-color="#5302a3"/><stop offset="0.05" stop-color="#4e02a2"/><stop offset="0.074" stop-color="#5502a4"/><stop offset="0.084" stop-color="#6c00a8"/><stop offset="0.086" stop-color="#6f00a8"/><stop offset="0.088" stop-color="#6c00a8"/><stop offset="0.096" stop-color="#7e03a8"/><stop offset="0.1" stop-color="#8b0aa5"/><stop offset="0.11" stop-color="#a01a9c"/><stop offset="0.136" stop-color="#ca457a"/><stop offset="0.162" stop-color="#e06363"/><stop offset="0.19" stop-color="#f79342"/><stop offset="0.232" stop-color="#fdcb26"/><stop offset="0.258" stop-color="#f8e125"/><stop offset="0.3" stop-color="#f2f227"/><stop offset="0.38" stop-color="#f1f426"/><stop offset="0.46" stop-color="#f3ee27"/><stop offset="0.64" stop-color="#fccd25"/><stop offset="0.86" stop-color="#feba2c"/><stop offset="1" stop-color="#fdb42f"/></linearGradient>
<linearGradient id="g60" x1="0" y1="0" x2="0" y2="1"><stop offset="0" stop-color="#3c049b"/><stop offset="0.012" stop-color="#3e049c"/><stop offset="0.016" stop-color="#46039f"/><stop offset="0.024" stop-color="#46039f"/><stop offset="0.026" stop-color="#41049d"/><stop offset="0.036" stop-color="#43039e"/><stop offset="0.038" stop-color="#4c02a1"/><stop offset="0.042" stop-color="#4e02a2"/><stop offset="0.086" stop-color="#4e02a2"/><stop offset="0.088" stop-color="#5c01a6"/><stop offset="0.09" stop-color="#6300a7"/><stop offset="0.098" stop-color="#7701a8"/><stop offset="0.1" stop-color="#7100a8"/><stop offset="0.104" stop-color="#7b02a8"/><stop offset="0.12" stop-color="#a11b9b"/><stop offset="0.128" stop-color="#b7318a"/><stop offset="0.138" stop-color="#c9447a"/><stop offset="0.16" stop-color="#e06363"/><stop offset="0.182" stop-color="#f79143"/><stop offset="0.196" stop-color="#fdaf31"/><stop offset="0.208" stop-color="#fdcb26"/><stop offset="0.234" stop-color="#f8e125"/><stop offset="0.264" stop-color="#f4ed27"/><stop offset="0.3" stop-color="#f2f227"/><stop offset="0.42" stop-color="#f2f227"/><stop offset="0.48" stop-color="#f4ed27"/><stop offset="0.52" stop-color="#f8e125"/><stop offset="0.66" stop-color="#fdcb26"/><stop offset="0.8" stop-color="#febe2a"/><stop offset="1" stop-color="#fdb42f"/></linearGradient>
<linearGradient id="g61" x1="0" y1="0" x2="0" y2="1"><stop offset="0" stop-color="#4b03a1"/><stop offset="0.024" stop-color="#4e02a2"/><stop offset="0.026" stop-color="#44039e"/><stop offset="0.032" stop-color="#44039e"/><stop offset="0.038" stop-color="#4b03a1"/><stop offset="0.072" stop-color="#5102a3"/><stop offset="0.098" stop-color="#7d03a8"/><stop offset="0.102" stop-color="#8808a6"/><stop offset="0.11" stop-color="#9511a1"/><stop offset="0.118" stop-color="#9c179e"/><stop offset="0.128" stop-color="#b12a90"/><stop offset="0.154" stop-color="#ce4b75"/><stop offset="0.166" stop-color="#e26660"/><stop offset="0.18" stop-color="#f89540"/><stop offset="0.224" stop-color="#fdc627"/><stop offset="0.254" stop-color="#f8e125"/><stop offset="0.278" stop-color="#f4ed27"/><stop offset="0.3" stop-color="#f2f227"/><stop offset="0.38" stop-color="#f1f426"/><stop offset="0.48" stop-color="#f4ed27"/><stop offset="0.52" stop-color="#f8e125"/><stop offset="0.62" stop-color="#fcd025"/><stop offset="0.76" stop-color="#fdc229"/><stop offset="1" stop-color="#fdb42f"/></linearGradient>
<linearGradient id="g62" x1="0" y1="0" x2="0" y2="1"><stop offset="0" stop-color="#48039f"/><stop offset="0.036" stop-color="#5002a2"/><stop offset="0.038" stop-color="#3f049c"/><stop offset="0.04" stop-color="#3f049c"/><stop offset="0.048" stop-color="#41049d"/><stop offset="0.05" stop-color="#5102a3"/><stop offset="0.062" stop-color="#5302a3"/><stop offset="0.064" stop-color="#44039e"/><stop offset="0.074" stop-color="#46039f"/><stop offset="0.082" stop-color="#5002a2"/><stop offset="0.088" stop-color="#6400a7"/><stop offset="0.098" stop-color="#7b02a8"/><stop offset="0.1" stop-color="#8405a7"/><stop offset="0.11" stop-color="#99159f"/><stop offset="0.116" stop-color="#a01a9c"/><stop offset="0.136" stop-color="#c33d80"/><stop offset="0.14" stop-color="#cc4977"/><stop offset="0.168" stop-color="#e56a5d"/><stop offset="0.186" stop-color="#f68d45"/><stop offset="0.204" stop-color="#fdaf31"/><stop offset="0.218" stop-color="#fdcb26"/><stop offset="0.242" stop-color="#f8df25"/><stop offset="0.272" stop-color="#f4ed27"/><stop offset="0.4" stop-color="#f2f227"/><stop offset="0.5" stop-color="#f5e926"/><stop offset="0.52" stop-color="#f8e125"/><stop offset="0.68" stop-color="#fdc827"/><stop offset="1" stop-color="#fdb22f"/></linearGradient>
<linearGradient id="g63" x1="0" y1="0" x2="0" y2="1"><stop offset="0" stop-color="#5002a2"/><stop offset="0.036" stop-color="#5102a3"/><stop offset="0.038" stop-color="#4c02a1"/><stop offset="0.044" stop-color="#4c02a1"/><stop offset="0.054" stop-color="#5801a4"/><stop offset="0.062" stop-color="#5801a4"/><stop offset="0.066" stop-color="#5302a3"/><stop offset="0.086" stop-color="#7e03a8"/><stop offset="0.092" stop-color="#8d0ba5"/><stop offset="0.106" stop-color="#a31e9a"/><stop offset="0.126" stop-color="#c43e7f"/><stop offset="0.164" stop-color="#e87059"/><stop offset="0.182" stop-color="#f89441"/><stop offset="0.222" stop-color="#fdcb26"/><stop offset="0.25" stop-color="#f7e225"/><stop offset="0.278" stop-color="#f3f027"/><stop offset="0.36" stop-color="#f1f525"/><stop offset="0.44" stop-color="#f2f227"/><stop offset="0.48" stop-color="#f3ee27"/><stop offset="0.52" stop-color="#f7e225"/><stop offset="0.66" stop-color="#fccd25"/><stop offset="0.82" stop-color="#febe2a"/><stop offset="1" stop-color="#fdb52e"/></linearGradient>
<linearGradient id="g64" x1="0" y1="0" x2="0" y2="1"><stop offset="0" stop-color="#46039f"/><stop offset="0.012" stop-color="#48039f"/><stop offset="0.028" stop-color="#5102a3"/><stop offset="0.036" stop-color="#5102a3"/><stop offset="0.038" stop-color="#4b03a1"/><stop offset="0.06" stop-color="#5002a2"/><stop offset="0.062" stop-color="#5102a3"/><stop offset="0.064" stop-color="#6300a7"/><stop offset="0.066" stop-color="#6300a7"/><stop offset="0.074" stop-color="#7201a8"/><stop offset="0.076" stop-color="#6900a8"/><stop offset="0.086" stop-color="#7b02a8"/><stop offset="0.088" stop-color="#8606a6"/><stop offset="0.098" stop-color="#9613a1"/><stop offset="0.1" stop-color="#920fa3"/><stop offset="0.114" stop-color="#a62098"/><stop offset="0.124" stop-color="#b52f8c"/><stop offset="0.126" stop-color="#be3885"/><stop offset="0.13" stop-color="#c33d80"/><stop offset="0.166" stop-color="#e56b5d"/><stop offset="0.186" stop-color="#f79143"/><stop offset="0.202" stop-color="#fdb130"/><stop offset="0.216" stop-color="#fccd25"/><stop offset="0.24" stop-color="#f8e125"/><stop offset="0.272" stop-color="#f3ee27"/><stop offset="0.32" stop-color="#f1f426"/><stop offset="0.4" stop-color="#f1f426"/><stop offset="0.5" stop-color="#f5eb27"/><stop offset="0.52" stop-color="#f7e225"/><stop offset="0.68" stop-color="#fdca26"/><stop offset="0.88" stop-color="#feba2c"/><stop offset="1" stop-color="#fdb52e"/></linearGradient>
<linearGradient id="g65" x1="0" y1="0" x2="0" y2="1"><stop offset="0" stop-color="#3f049c"/><stop offset="0.012" stop-color="#41049d"/><stop offset="0.014" stop-color="#3a049a"/><stop offset="0.024" stop-color="#3c049b"/><stop offset="0.026" stop-color="#4903a0"/><stop offset="0.032" stop-color="#4b03a1"/><stop offset="0.036" stop-color="#4b03a1"/><stop offset="0.038" stop-color="#43039e"/><stop offset="0.068" stop-color="#46039f"/><stop offset="0.072" stop-color="#4b03a1"/><stop offset="0.084" stop-color="#6600a7"/><stop offset="0.098" stop-color="#8004a8"/><stop offset="0.106" stop-color="#9410a2"/><stop offset="0.13" stop-color="#bc3587"/><stop offset="0.148" stop-color="#d24f71"/><stop offset="0.15" stop-color="#d8576b"/><stop offset="0.166" stop-color="#e76f5a"/><stop offset="0.18" stop-color="#f79143"/><stop offset="0.2" stop-color="#fdae32"/><stop offset="0.22" stop-color="#fdcb26"/><stop offset="0.248" stop-color="#f7e225"/><stop offset="0.276" stop-color="#f3ee27"/><stop offset="0.34" stop-color="#f1f426"/><stop offset="0.42" stop-color="#f2f227"/><stop offset="0.5" stop-color="#f5eb27"/><stop offset="0.52" stop-color="#f7e225"/><stop offset="0.6" stop-color="#fbd324"/><stop offset="0.68" stop-color="#fdca26"/><stop offset="1" stop-color="#fdb42f"/></linearGradient>
<linearGradient id="g66" x1="0" y1="0" x2="0" y2="1"><stop offset="0" stop-color="#41049d"/><stop offset="0.028" stop-color="#48039f"/><stop offset="0.05" stop-color="#44039e"/><stop offset="0.074" stop-color="#48039f"/><stop offset="0.076" stop-color="#5002a2"/><stop offset="0.08" stop-color="#5002a2"/><stop offset="0.086" stop-color="#5e01a6"/><stop offset="0.088" stop-color="#5e01a6"/><stop offset="0.098" stop-color="#7701a8"/><stop offset="0.11" stop-color="#9613a1"/><stop offset="0.116" stop-color="#a01a9c"/><stop offset="0.124" stop-color="#b12a90"/><stop offset="0.126" stop-color="#b12a90"/><stop offset="0.138" stop-color="#c9447a"/><stop offset="0.162" stop-color="#e26660"/><stop offset="0.182" stop-color="#f68d45"/><stop offset="0.202" stop-color="#fdae32"/><stop offset="0.222" stop-color="#fcce25"/><stop offset="0.244" stop-color="#f8e125"/><stop offset="0.28" stop-color="#f3f027"/><stop offset="0.32" stop-color="#f1f426"/><stop offset="0.44" stop-color="#f2f227"/><stop offset="0.5" stop-color="#f5eb27"/><stop offset="0.52" stop-color="#f7e225"/><stop offset="0.64" stop-color="#fcce25"/><stop offset="0.88" stop-color="#feba2c"/><stop offset="1" stop-color="#fdb52e"/></linearGradient>
<linearGradient id="g67" x1="0" y1="0" x2="0" y2="1"><stop offset="0" stop-color="#3c049b"/><stop offset="0.012" stop-color="#3e049c"/><stop offset="0.014" stop-color="#4903a0"/><stop offset="0.052" stop-color="#5002a2"/><stop offset="0.062" stop-color="#5002a2"/><stop offset="0.064" stop-color="#48039f"/><stop offset="0.074" stop-color="#48039f"/><stop offset="0.076" stop-color="#3e049c"/><stop offset="0.086" stop-color="#3f049c"/><stop offset="0.088" stop-color="#5102a3"/><stop offset="0.098" stop-color="#6a00a8"/><stop offset="0.1" stop-color="#6700a8"/><stop offset="0.108" stop-color="#7d03a8"/><stop offset="0.114" stop-color="#8f0da4"/><stop offset="0.122" stop-color="#a11b9b"/><stop offset="0.126" stop-color="#ad2793"/><stop offset="0.136" stop-color="#c03a83"/><stop offset="0.164" stop-color="#e56a5d"/><stop offset="0.18" stop-color="#f79342"/><stop offset="0.202" stop-color="#fdb130"/><stop offset="0.224" stop-color="#fcce25"/><stop offset="0.248" stop-color="#f7e225"/><stop offset="0.278" stop-color="#f3f027"/><stop offset="0.34" stop-color="#f1f525"/><stop offset="0.42" stop-color="#f1f426"/><stop offset="0.48" stop-color="#f3ee27"/><stop offset="0.52" stop-color="#f7e225"/><stop offset="0.66" stop-color="#fccd25"/><stop offset="1" stop-color="#fdb52e"/></linearGradient>
<linearGradient id="g68" x1="0" y1="0" x2="0" y2="1"><stop offset="0" stop-color="#6600a7"/><stop offset="0.008" stop-color="#6900a8"/><stop offset="0.018" stop-color="#6600a7"/><stop offset="0.024" stop-color="#6700a8"/><stop offset="0.028" stop-color="#6f00a8"/><stop offset="0.048" stop-color="#7201a8"/><stop offset="0.05" stop-color="#7e03a8"/><stop offset="0.062" stop-color="#8d0ba5"/><stop offset="0.066" stop-color="#8b0aa5"/><stop offset="0.082" stop-color="#a11b9b"/><stop offset="0.104" stop-color="#b22b8f"/><stop offset="0.118" stop-color="#c33d80"/><stop offset="0.164" stop-color="#e3685f"/><stop offset="0.194" stop-color="#f79342"/><stop offset="0.234" stop-color="#fdcb26"/><stop offset="0.262" stop-color="#f7e225"/><stop offset="0.3" stop-color="#f2f227"/><stop offset="0.4" stop-color="#f1f426"/><stop offset="0.5" stop-color="#f5eb27"/><stop offset="0.52" stop-color="#f7e225"/><stop offset="0.62" stop-color="#fcd025"/><stop offset="1" stop-color="#fdb42f"/></linearGradient>
<linearGradient id="g69" x1="0" y1="0" x2="0" y2="1"><stop offset="0" stop-color="#5801a4"/><stop offset="0.012" stop-color="#5b01a5"/><stop offset="0.014" stop-color="#6400a7"/><stop offset="0.018" stop-color="#6600a7"/><stop offset="0.024" stop-color="#6600a7"/><stop offset="0.026" stop-color="#5b01a5"/><stop offset="0.048" stop-color="#6001a6"/><stop offset="0.05" stop-color="#6700a8"/><stop offset="0.054" stop-color="#6700a8"/><stop offset="0.072" stop-color="#8606a6"/><stop offset="0.092" stop-color="#a51f99"/><stop offset="0.098" stop-color="#ae2892"/><stop offset="0.1" stop-color="#b6308b"/><stop offset="0.112" stop-color="#c6417d"/><stop offset="0.114" stop-color="#c5407e"/><stop offset="0.128" stop-color="#d5536f"/><stop offset="0.154" stop-color="#e76e5b"/><stop offset="0.176" stop-color="#f79143"/><stop offset="0.224" stop-color="#fdca26"/><stop offset="0.254" stop-color="#f7e225"/><stop offset="0.278" stop-color="#f3ee27"/><stop offset="0.32" stop-color="#f1f426"/><stop offset="0.44" stop-color="#f2f227"/><stop offset="0.5" stop-color="#f5eb27"/><stop offset="0.52" stop-color="#f7e225"/><stop offset="0.64" stop-color="#fcce25"/><stop offset="0.86" stop-color="#febb2b"/><stop offset="1" stop-color="#fdb52e"/></linearGradient>
<linearGradient id="g70" x1="0" y1="0" x2="0" y2="1"><stop offset="0" stop-color="#4c02a1"/><stop offset="0.012" stop-color="#4e02a2"/><stop offset="0.014" stop-color="#4903a0"/><stop offset="0.018" stop-color="#4903a0"/><stop offset="0.04" stop-color="#5502a4"/><stop offset="0.048" stop-color="#5502a4"/><stop offset="0.05" stop-color="#4e02a2"/><stop offset="0.06" stop-color="#5002a2"/><stop offset="0.074" stop-color="#6e00a8"/><stop offset="0.076" stop-color="#6c00a8"/><stop offset="0.086" stop-color="#8104a7"/><stop offset="0.088" stop-color="#8a09a5"/><stop offset="0.1" stop-color="#a11b9b"/><stop offset="0.13" stop-color="#cd4a76"/><stop offset="0.166" stop-color="#e56b5d"/><stop offset="0.192" stop-color="#f79342"/><stop offset="0.228" stop-color="#fdcb26"/><stop offset="0.258" stop-color="#f7e425"/><stop offset="0.3" stop-color="#f1f426"/><stop offset="0.46" stop-color="#f3f027"/><stop offset="0.64" stop-color="#fcce25"/><stop offset="0.86" stop-color="#febb2b"/><stop offset="1" stop-color="#fdb52e"/></linearGradient>
<linearGradient id="g71" x1="0" y1="0" x2="0" y2="1"><stop offset="0" stop-color="#5002a2"/><stop offset="0.022" stop-color="#5302a3"/><stop offset="0.024" stop-color="#5502a4"/><stop offset="0.026" stop-color="#5c01a6"/><stop offset="0.036" stop-color="#5e01a6"/><stop offset="0.038" stop-color="#5601a4"/><stop offset="0.048" stop-color="#5801a4"/><stop offset="0.05" stop-color="#6001a6"/><stop offset="0.056" stop-color="#6100a7"/><stop offset="0.062" stop-color="#6100a7"/><stop offset="0.064" stop-color="#5801a4"/><stop offset="0.074" stop-color="#5901a5"/><stop offset="0.076" stop-color="#6100a7"/><stop offset="0.084" stop-color="#6100a7"/><stop offset="0.096" stop-color="#8104a7"/><stop offset="0.112" stop-color="#a11b9b"/><stop offset="0.122" stop-color="#b52f8c"/><stop offset="0.138" stop-color="#cc4977"/><stop offset="0.17" stop-color="#e66c5c"/><stop offset="0.192" stop-color="#f79143"/><stop offset="0.214" stop-color="#fdae32"/><stop offset="0.236" stop-color="#fdcb26"/><stop offset="0.264" stop-color="#f7e225"/><stop offset="0.3" stop-color="#f2f227"/><stop offset="0.4" stop-color="#f1f426"/><stop offset="0.5" stop-color="#f5eb27"/><stop offset="0.52" stop-color="#f7e225"/><stop offset="0.7" stop-color="#fdc827"/><stop offset="1" stop-color="#fdb52e"/></linearGradient>
<linearGradient id="g72" x1="0" y1="0" x2="0" y2="1"><stop offset="0" stop-color="#5302a3"/><stop offset="0.012" stop-color="#5502a4"/><stop offset="0.014" stop-color="#4b03a1"/><stop offset="0.018" stop-color="#4b03a1"/><stop offset="0.024" stop-color="#4c02a1"/><stop offset="0.026" stop-color="#5302a3"/><stop offset="0.036" stop-color="#5502a4"/><stop offset="0.04" stop-color="#5002a2"/><stop offset="0.048" stop-color="#5102a3"/><stop offset="0.05" stop-color="#5801a4"/><stop offset="0.054" stop-color="#5901a5"/><stop offset="0.066" stop-color="#5901a5"/><stop offset="0.078" stop-color="#7201a8"/><stop offset="0.09" stop-color="#8707a6"/><stop offset="0.106" stop-color="#a21d9a"/><stop offset="0.134" stop-color="#cd4a76"/><stop offset="0.162" stop-color="#e4695e"/><stop offset="0.182" stop-color="#f68d45"/><stop offset="0.204" stop-color="#fdb130"/><stop offset="0.22" stop-color="#fdcb26"/><stop offset="0.248" stop-color="#f7e225"/><stop offset="0.278" stop-color="#f3f027"/><stop offset="0.38" stop-color="#f1f525"/><stop offset="0.44" stop-color="#f2f227"/><stop offset="0.5" stop-color="#f5eb27"/><stop offset="0.52" stop-color="#f7e225"/><stop offset="0.64" stop-color="#fcce25"/><stop offset="0.84" stop-color="#febd2a"/><stop offset="1" stop-color="#fdb52e"/></linearGradient>
<linearGradient id="g73" x1="0" y1="0" x2="0" y2="1"><stop offset="0" stop-color="#4b03a1"/><stop offset="0.022" stop-color="#5002a2"/><stop offset="0.036" stop-color="#5601a4"/><stop offset="0.04" stop-color="#5c01a6"/><stop offset="0.046" stop-color="#5c01a6"/><stop offset="0.05" stop-color="#6001a6"/><stop offset="0.062" stop-color="#7501a8"/><stop offset="0.064" stop-color="#7401a8"/><stop offset="0.074" stop-color="#8405a7"/><stop offset="0.076" stop-color="#8d0ba5"/><stop offset="0.084" stop-color="#99159f"/><stop offset="0.086" stop-color="#9c179e"/><stop offset="0.088" stop-color="#9814a0"/><stop offset="0.108" stop-color="#b52f8c"/><stop offset="0.114" stop-color="#ba3388"/><stop offset="0.126" stop-color="#cc4778"/><stop offset="0.154" stop-color="#e66c5c"/><stop offset="0.174" stop-color="#f79342"/><stop offset="0.198" stop-color="#fdae32"/><stop offset="0.224" stop-color="#fdcb26"/><stop offset="0.252" stop-color="#f7e225"/><stop offset="0.28" stop-color="#f3f027"/><stop offset="0.36" stop-color="#f1f525"/><stop offset="0.44" stop-color="#f2f227"/><stop offset="0.5" stop-color="#f5eb27"/><stop offset="0.52" stop-color="#f7e225"/><stop offset="0.64" stop-color="#fcce25"/><stop offset="0.84" stop-color="#febd2a"/><stop offset="1" stop-color="#fdb52e"/></linearGradient>
<linearGradient id="g74" x1="0" y1="0" x2="0" y2="1"><stop offset="0" stop-color="#5b01a5"/><stop offset="0.036" stop-color="#6600a7"/><stop offset="0.038" stop-color="#6f00a8"/><stop offset="0.04" stop-color="#7100a8"/><stop offset="0.048" stop-color="#7100a8"/><stop offset="0.05" stop-color="#6a00a8"/><stop offset="0.058" stop-color="#6c00a8"/><stop offset="0.076" stop-color="#8a09a5"/><stop offset="0.1" stop-color="#ac2694"/><stop offset="0.114" stop-color="#bf3984"/><stop offset="0.158" stop-color="#e56a5d"/><stop offset="0.184" stop-color="#f89540"/><stop offset="0.224" stop-color="#fdc527"/><stop offset="0.256" stop-color="#f7e225"/><stop offset="0.3" stop-color="#f1f426"/><stop offset="0.38" stop-color="#f1f525"/><stop offset="0.48" stop-color="#f3ee27"/><stop offset="0.52" stop-color="#f7e225"/><stop offset="0.66" stop-color="#fccd25"/><stop offset="0.82" stop-color="#febe2a"/><stop offset="1" stop-color="#fdb52e"/></linearGradient>
<linearGradient id="g75" x1="0" y1="0" x2="0" y2="1"><stop offset="0" stop-color="#8606a6"/><stop offset="0.022" stop-color="#8808a6"/><stop offset="0.048" stop-color="#9410a2"/><stop offset="0.05" stop-color="#8d0ba5"/><stop offset="0.062" stop-color="#9613a1"/><stop offset="0.066" stop-color="#9e199d"/><stop offset="0.092" stop-color="#b22b8f"/><stop offset="0.14" stop-color="#cd4a76"/><stop offset="0.168" stop-color="#e66c5c"/><stop offset="0.194" stop-color="#f99a3e"/><stop offset="0.232" stop-color="#fccd25"/><stop offset="0.26" stop-color="#f7e425"/><stop offset="0.3" stop-color="#f1f426"/><stop offset="0.4" stop-color="#f1f525"/><stop offset="0.5" stop-color="#f4ed27"/><stop offset="0.52" stop-color="#f7e425"/><stop offset="0.62" stop-color="#fcd225"/><stop offset="1" stop-color="#fdb52e"/></linearGradient>
<linearGradient id="g76" x1="0" y1="0" x2="0" y2="1"><stop offset="0" stop-color="#8305a7"/><stop offset="0.024" stop-color="#8d0ba5"/><stop offset="0.026" stop-color="#8305a7"/><stop offset="0.036" stop-color="#8606a6"/><stop offset="0.038" stop-color="#8e0ca4"/><stop offset="0.054" stop-color="#a01a9c"/><stop offset="0.112" stop-color="#ca457a"/><stop offset="0.142" stop-color="#e26561"/><stop offset="0.17" stop-color="#f89540"/><stop offset="0.218" stop-color="#fdca26"/><stop offset="0.248" stop-color="#f7e225"/><stop offset="0.28" stop-color="#f3f027"/><stop offset="0.32" stop-color="#f1f426"/><stop offset="0.44" stop-color="#f2f227"/><stop offset="0.5" stop-color="#f5eb27"/><stop offset="0.52" stop-color="#f7e225"/><stop offset="0.64" stop-color="#fcce25"/><stop offset="0.88" stop-color="#feba2c"/><stop offset="1" stop-color="#fdb52e"/></linearGradient>
<linearGradient id="g77" x1="0" y1="0" x2="0" y2="1"><stop offset="0" stop-color="#8a09a5"/><stop offset="0.012" stop-color="#8b0aa5"/><stop offset="0.016" stop-color="#8606a6"/><stop offset="0.024" stop-color="#8707a6"/><stop offset="0.026" stop-color="#8e0ca4"/><stop offset="0.032" stop-color="#8f0da4"/><stop offset="0.036" stop-color="#8f0da4"/><stop offset="0.038" stop-color="#8707a6"/><stop offset="0.052" stop-color="#8a09a5"/><stop offset="0.062" stop-color="#9410a2"/><stop offset="0.064" stop-color="#9d189d"/><stop offset="0.07" stop-color="#a21d9a"/><stop offset="0.08" stop-color="#a21d9a"/><stop offset="0.108" stop-color="#bc3587"/><stop offset="0.128" stop-color="#c7427c"/><stop offset="0.136" stop-color="#cd4a76"/><stop offset="0.138" stop-color="#d35171"/><stop offset="0.162" stop-color="#e56a5d"/><stop offset="0.184" stop-color="#f79143"/><stop offset="0.216" stop-color="#fdc229"/><stop offset="0.222" stop-color="#fdcb26"/><stop offset="0.25" stop-color="#f7e225"/><stop offset="0.276" stop-color="#f3ee27"/><stop offset="0.34" stop-color="#f1f426"/><stop offset="0.42" stop-color="#f2f227"/><stop offset="0.5" stop-color="#f5eb27"/><stop offset="0.52" stop-color="#f8e125"/><stop offset="0.68" stop-color="#fdca26"/><stop offset="1" stop-color="#fdb42f"/></linearGradient>
<linearGradient id="g78" x1="0" y1="0" x2="0" y2="1"><stop offset="0" stop-color="#7d03a8"/><stop offset="0.012" stop-color="#7e03a8"/><stop offset="0.014" stop-color="#8808a6"/><stop offset="0.018" stop-color="#8a09a5"/><stop offset="0.024" stop-color="#8a09a5"/><stop offset="0.026" stop-color="#8606a6"/><stop offset="0.054" stop-color="#8606a6"/><stop offset="0.062" stop-color="#8707a6"/><stop offset="0.074" stop-color="#9613a1"/><stop offset="0.076" stop-color="#920fa3"/><stop offset="0.092" stop-color="#a82296"/><stop offset="0.134" stop-color="#cc4977"/><stop offset="0.158" stop-color="#e3685f"/><stop offset="0.182" stop-color="#f9973f"/><stop offset="0.226" stop-color="#fccd25"/><stop offset="0.254" stop-color="#f7e425"/><stop offset="0.28" stop-color="#f3f027"/><stop offset="0.34" stop-color="#f1f525"/><stop offset="0.42" stop-color="#f1f426"/><stop offset="0.48" stop-color="#f3ee27"/><stop offset="0.52" stop-color="#f7e225"/><stop offset="0.66" stop-color="#fccd25"/><stop offset="1" stop-color="#fdb52e"/></linearGradient>
<linearGradient id="g79" x1="0" y1="0" x2="0" y2="1"><stop offset="0" stop-color="#7100a8"/><stop offset="0.012" stop-color="#7201a8"/><stop offset="0.014" stop-color="#7801a8"/><stop offset="0.024" stop-color="#7b02a8"/><stop offset="0.026" stop-color="#8104a7"/><stop offset="0.03" stop-color="#8305a7"/><stop offset="0.048" stop-color="#8104a7"/><stop offset="0.062" stop-color="#9511a1"/><stop offset="0.064" stop-color="#8b0aa5"/><stop offset="0.074" stop-color="#99159f"/><stop offset="0.076" stop-color="#a01a9c"/><stop offset="0.086" stop-color="#ab2494"/><stop offset="0.09" stop-color="#b42e8d"/><stop offset="0.098" stop-color="#bb3488"/><stop offset="0.1" stop-color="#b83289"/><stop offset="0.124" stop-color="#cf4c74"/><stop offset="0.126" stop-color="#ce4b75"/><stop offset="0.146" stop-color="#e3685f"/><stop offset="0.17" stop-color="#f89441"/><stop offset="0.198" stop-color="#fdb22f"/><stop offset="0.222" stop-color="#fccd25"/><stop offset="0.246" stop-color="#f8e125"/><stop offset="0.276" stop-color="#f3ee27"/><stop offset="0.34" stop-color="#f1f426"/><stop offset="0.42" stop-color="#f2f227"/><stop offset="0.5" stop-color="#f5eb27"/><stop offset="0.52" stop-color="#f7e225"/><stop offset="0.6" stop-color="#fbd324"/><stop offset="0.68" stop-color="#fdca26"/><stop offset="1" stop-color="#fdb42f"/></linearGradient>
<linearGradient id="g80" x1="0" y1="0" x2="0" y2="1"><stop offset="0" stop-color="#7e03a8"/><stop offset="0.022" stop-color="#8405a7"/><stop offset="0.026" stop-color="#8b0aa5"/><stop offset="0.048" stop-color="#8808a6"/><stop offset="0.05" stop-color="#8f0da4"/><stop offset="0.06" stop-color="#9814a0"/><stop offset="0.064" stop-color="#a11b9b"/><stop offset="0.074" stop-color="#a82296"/><stop offset="0.076" stop-color="#9d189d"/><stop offset="0.082" stop-color="#a21d9a"/><stop offset="0.092" stop-color="#b22b8f"/><stop offset="0.124" stop-color="#c6417d"/><stop offset="0.156" stop-color="#e16462"/><stop offset="0.186" stop-color="#f9973f"/><stop offset="0.236" stop-color="#fdca26"/><stop offset="0.266" stop-color="#f7e225"/><stop offset="0.3" stop-color="#f2f227"/><stop offset="0.38" stop-color="#f1f426"/><stop offset="0.48" stop-color="#f4ed27"/><stop offset="0.52" stop-color="#f8e125"/><stop offset="0.62" stop-color="#fcd025"/><stop offset="0.76" stop-color="#fdc229"/><stop offset="1" stop-color="#fdb42f"/></linearGradient>
<linearGradient id="g81" x1="0" y1="0" x2="0" y2="1"><stop offset="0" stop-color="#8a09a5"/><stop offset="0.012" stop-color="#8d0ba5"/><stop offset="0.014" stop-color="#8606a6"/><stop offset="0.032" stop-color="#8e0ca4"/><stop offset="0.036" stop-color="#8e0ca4"/><stop offset="0.038" stop-color="#8808a6"/><stop offset="0.046" stop-color="#8a09a5"/><stop offset="0.066" stop-color="#a11b9b"/><stop offset="0.074" stop-color="#a62098"/><stop offset="0.078" stop-color="#a31e9a"/><stop offset="0.1" stop-color="#b7318a"/><stop offset="0.122" stop-color="#c23c81"/><stop offset="0.14" stop-color="#d04d73"/><stop offset="0.158" stop-color="#e26561"/><stop offset="0.182" stop-color="#f89441"/><stop offset="0.236" stop-color="#fdc827"/><stop offset="0.266" stop-color="#f8e125"/><stop offset="0.3" stop-color="#f3f027"/><stop offset="0.38" stop-color="#f2f227"/><stop offset="0.48" stop-color="#f5eb27"/><stop offset="0.52" stop-color="#f8df25"/><stop offset="0.66" stop-color="#fdca26"/><stop offset="1" stop-color="#fdb22f"/></linearGradient>
<linearGradient id="g82" x1="0" y1="0" x2="0" y2="1"><stop offset="0" stop-color="#7b02a8"/><stop offset="0.012" stop-color="#7e03a8"/><stop offset="0.014" stop-color="#8606a6"/><stop offset="0.024" stop-color="#8707a6"/><stop offset="0.026" stop-color="#7b02a8"/><stop offset="0.036" stop-color="#7d03a8"/><stop offset="0.038" stop-color="#8606a6"/><stop offset="0.058" stop-color="#8808a6"/><stop offset="0.062" stop-color="#8e0ca4"/><stop offset="0.064" stop-color="#9a169f"/><stop offset="0.072" stop-color="#a31e9a"/><stop offset="0.074" stop-color="#a51f99"/><stop offset="0.076" stop-color="#99159f"/><stop offset="0.108" stop-color="#bc3587"/><stop offset="0.126" stop-color="#ca457a"/><stop offset="0.158" stop-color="#e56a5d"/><stop offset="0.184" stop-color="#f89540"/><stop offset="0.23" stop-color="#fccd25"/><stop offset="0.256" stop-color="#f7e225"/><stop offset="0.28" stop-color="#f3ee27"/><stop offset="0.32" stop-color="#f1f426"/><stop offset="0.44" stop-color="#f2f227"/><stop offset="0.5" stop-color="#f5eb27"/><stop offset="0.52" stop-color="#f7e225"/><stop offset="0.64" stop-color="#fcce25"/><stop offset="0.86" stop-color="#febb2b"/><stop offset="1" stop-color="#fdb52e"/></linearGradient>
<linearGradient id="g83" x1="0" y1="0" x2="0" y2="1"><stop offset="0" stop-color="#7100a8"/><stop offset="0.012" stop-color="#7401a8"/><stop offset="0.014" stop-color="#8405a7"/><stop offset="0.024" stop-color="#8606a6"/><stop offset="0.026" stop-color="#7e03a8"/><stop offset="0.042" stop-color="#8004a8"/><stop offset="0.056" stop-color="#8e0ca4"/><stop offset="0.062" stop-color="#9511a1"/><stop offset="0.064" stop-color="#9e199d"/><stop offset="0.072" stop-color="#a62098"/><stop offset="0.104" stop-color="#bd3786"/><stop offset="0.138" stop-color="#d9586a"/><stop offset="0.156" stop-color="#e76e5b"/><stop offset="0.176" stop-color="#f79044"/><stop offset="0.196" stop-color="#fca934"/><stop offset="0.222" stop-color="#fdca26"/><stop offset="0.252" stop-color="#f7e225"/><stop offset="0.278" stop-color="#f3ee27"/><stop offset="0.4" stop-color="#f1f426"/><stop offset="0.5" stop-color="#f5eb27"/><stop offset="0.52" stop-color="#f7e225"/><stop offset="0.68" stop-color="#fdca26"/><stop offset="1" stop-color="#fdb42f"/></linearGradient>
<linearGradient id="g84" x1="0" y1="0" x2="0" y2="1"><stop offset="0" stop-color="#7201a8"/><stop offset="0.012" stop-color="#7501a8"/><stop offset="0.014" stop-color="#7e03a8"/><stop offset="0.024" stop-color="#8104a7"/><stop offset="0.026" stop-color="#7b02a8"/><stop offset="0.044" stop-color="#7d03a8"/><stop offset="0.064" stop-color="#910ea3"/><stop offset="0.074" stop-color="#9c179e"/><stop offset="0.076" stop-color="#a62098"/><stop offset="0.088" stop-color="#b22b8f"/><stop offset="0.126" stop-color="#cb4679"/><stop offset="0.158" stop-color="#e66c5c"/><stop offset="0.182" stop-color="#f79342"/><stop offset="0.208" stop-color="#fdaf31"/><stop offset="0.232" stop-color="#fdcb26"/><stop offset="0.26" stop-color="#f7e225"/><stop offset="0.3" stop-color="#f1f426"/><stop offset="0.38" stop-color="#f1f525"/><stop offset="0.46" stop-color="#f3f027"/><stop offset="0.64" stop-color="#fcce25"/><stop offset="0.84" stop-color="#febd2a"/><stop offset="1" stop-color="#fdb52e"/></linearGradient>
<linearGradient id="g85" x1="0" y1="0" x2="0" y2="1"><stop offset="0" stop-color="#7701a8"/><stop offset="0.02" stop-color="#7a02a8"/><stop offset="0.028" stop-color="#8104a7"/><stop offset="0.046" stop-color="#8606a6"/><stop offset="0.074" stop-color="#a51f99"/><stop offset="0.076" stop-color="#a01a9c"/><stop offset="0.078" stop-color="#a11b9b"/><stop offset="0.102" stop-color="#ba3388"/><stop offset="0.136" stop-color="#d45270"/><stop offset="0.158" stop-color="#e66c5c"/><stop offset="0.18" stop-color="#f89441"/><stop offset="0.206" stop-color="#fdb42f"/><stop offset="0.226" stop-color="#fccd25"/><stop offset="0.252" stop-color="#f7e225"/><stop offset="0.278" stop-color="#f3ee27"/><stop offset="0.32" stop-color="#f1f426"/><stop offset="0.44" stop-color="#f2f227"/><stop offset="0.5" stop-color="#f5eb27"/><stop offset="0.52" stop-color="#f7e225"/><stop offset="0.64" stop-color="#fcce25"/><stop offset="0.88" stop-color="#feba2c"/><stop offset="1" stop-color="#fdb52e"/></linearGradient>
<linearGradient id="g86" x1="0" y1="0" x2="0" y2="1"><stop offset="0" stop-color="#7801a8"/><stop offset="0.024" stop-color="#8004a8"/><stop offset="0.026" stop-color="#7b02a8"/><stop offset="0.036" stop-color="#7d03a8"/><stop offset="0.038" stop-color="#7201a8"/><stop offset="0.042" stop-color="#7201a8"/><stop offset="0.048" stop-color="#7401a8"/><stop offset="0.05" stop-color="#8004a8"/><stop offset="0.058" stop-color="#8104a7"/><stop offset="0.064" stop-color="#8808a6"/><stop offset="0.074" stop-color="#9410a2"/><stop offset="0.076" stop-color="#9c179e"/><stop offset="0.082" stop-color="#a21d9a"/><stop offset="0.138" stop-color="#cf4c74"/><stop offset="0.16" stop-color="#e66c5c"/><stop offset="0.178" stop-color="#f89441"/><stop offset="0.224" stop-color="#fdca26"/><stop offset="0.252" stop-color="#f8e125"/><stop offset="0.28" stop-color="#f3ee27"/><stop offset="0.32" stop-color="#f2f227"/><stop offset="0.44" stop-color="#f3f027"/><stop offset="0.5" stop-color="#f5e926"/><stop offset="0.52" stop-color="#f8e125"/><stop offset="0.64" stop-color="#fccd25"/><stop offset="0.86" stop-color="#feba2c"/><stop offset="1" stop-color="#fdb42f"/></linearGradient>
<linearGradient id="cb" x1="0" y1="0" x2="0" y2="1"><stop offset="0.0000" stop-color="#0d0887"/><stop offset="0.0312" stop-color="#20068f"/><stop offset="0.0625" stop-color="#2f0596"/><stop offset="0.0938" stop-color="#3e049c"/><stop offset="0.1250" stop-color="#4b03a1"/><stop offset="0.1562" stop-color="#5801a4"/><stop offset="0.1875" stop-color="#6400a7"/><stop offset="0.2188" stop-color="#7100a8"/><stop offset="0.2500" stop-color="#7d03a8"/><stop offset="0.2812" stop-color="#8808a6"/><stop offset="0.3125" stop-color="#9410a2"/><stop offset="0.3438" stop-color="#9e199d"/><stop offset="0.3750" stop-color="#a82296"/><stop offset="0.4062" stop-color="#b22b8f"/><stop offset="0.4375" stop-color="#bb3488"/><stop offset="0.4688" stop-color="#c33d80"/><stop offset="0.5000" stop-color="#cb4679"/><stop offset="0.5312" stop-color="#d24f71"/><stop offset="0.5625" stop-color="#d9586a"/><stop offset="0.5938" stop-color="#df6263"/><stop offset="0.6250" stop-color="#e56b5d"/><stop offset="0.6562" stop-color="#eb7556"/><stop offset="0.6875" stop-color="#f07f4f"/><stop offset="0.7188" stop-color="#f48948"/><stop offset="0.7500" stop-color="#f89441"/><stop offset="0.7812" stop-color="#fb9f3a"/><stop offset="0.8125" stop-color="#fdab33"/><stop offset="0.8438" stop-color="#feb72d"/><stop offset="0.8750" stop-color="#fdc328"/><stop offset="0.9062" stop-color="#fcd025"/><stop offset="0.9375" stop-color="#f9dd25"/><stop offset="0.9688" stop-color="#f5eb27"/><stop offset="1.0000" stop-color="#f0f921"/></linearGradient>
</defs>
<g shape-rendering="crispEdges">
<rect x="159.50" y="65.5" width="3.23" height="410.0" fill="url(#g0)"/>
<rect x="162.33" y="65.5" width="3.73" height="410.0" fill="url(#g1)"/>
<rect x="165.65" y="65.5" width="3.73" height="410.0" fill="url(#g2)"/>
<rect x="168.98" y="65.5" width="3.73" height="410.0" fill="url(#g3)"/>
<rect x="172.31" y="65.5" width="3.73" height="410.0" fill="url(#g4)"/>
<rect x="175.63" y="65.5" width="3.73" height="410.0" fill="url(#g5)"/>
<rect x="178.96" y="65.5" width="3.73" height="410.0" fill="url(#g6)"/>
<rect x="182.29" y="65.5" width="3.73" height="410.0" fill="url(#g7)"/>
<rect x="185.61" y="65.5" width="3.73" height="410.0" fill="url(#g8)"/>
<rect x="188.94" y="65.5" width="3.73" height="410.0" fill="url(#g9)"/>
<rect x="192.26" y="65.5" width="3.73" height="410.0" fill="url(#g10)"/>
<rect x="195.59" y="65.5" width="3.73" height="410.0" fill="url(#g11)"/>
<rect x="198.92" y="65.5" width="3.73" height="410.0" fill="url(#g12)"/>
<rect x="202.24" y="65.5" width="3.73" height="410.0" fill="url(#g13)"/>
<rect x="205.57" y="65.5" width="3.73" height="410.0" fill="url(#g14)"/>
<rect x="208.90" y="65.5" width="3.73" height="410.0" fill="url(#g15)"/>
<rect x="212.22" y="65.5" width="3.73" height="410.0" fill="url(#g16)"/>
<rect x="215.55" y="65.5" width="3.73" height="410.0" fill="url(#g17)"/>
<rect x="218.88" y="65.5" width="3.73" height="410.0" fill="url(#g18)"/>
<rect x="222.20" y="65.5" width="3.73" height="410.0" fill="url(#g19)"/>
<rect x="225.53" y="65.5" width="3.73" height="410.0" fill="url(#g20)"/>
<rect x="228.86" y="65.5" width="3.73" height="410.0" fill="url(#g21)"/>
<rect x="232.18" y="65.5" width="3.73" height="410.0" fill="url(#g22)"/>
<rect x="235.51" y="65.5" width="3.73" height="410.0" fill="url(#g23)"/>
<rect x="238.83" y="65.5" width="3.73" height="410.0" fill="url(#g24)"/>
<rect x="242.16" y="65.5" width="3.73" height="410.0" fill="url(#g25)"/>
<rect x="245.49" y="65.5" width="3.73" height="410.0" fill="url(#g26)"/>
<rect x="248.81" y="65.5" width="3.73" height="410.0" fill="url(#g27)"/>
<rect x="252.14" y="65.5" width="3.73" height="410.0" fill="url(#g28)"/>
<rect x="255.47" y="65.5" width="3.73" height="410.0" fill="url(#g29)"/>
<rect x="258.79" y="65.5" width="3.73" height="410.0" fill="url(#g30)"/>
<rect x="262.12" y="65.5" width="3.73" height="410.0" fill="url(#g31)"/>
<rect x="265.45" y="65.5" width="3.73" height="410.0" fill="url(#g32)"/>
<rect x="268.77" y="65.5" width="3.73" height="410.0" fill="url(#g33)"/>
<rect x="272.10" y="65.5" width="3.73" height="410.0" fill="url(#g34)"/>
<rect x="275.43" y="65.5" width="3.73" height="410.0" fill="url(#g35)"/>
<rect x="278.75" y="65.5" width="3.73" height="410.0" fill="url(#g36)"/>
<rect x="282.08" y="65.5" width="3.73" height="410.0" fill="url(#g37)"/>
<rect x="285.40" y="65.5" width="3.73" height="410.0" fill="url(#g38)"/>
<rect x="288.73" y="65.5" width="3.73" height="410.0" fill="url(#g39)"/>
<rect x="292.06" y="65.5" width="3.73" height="410.0" fill="url(#g40)"/>
<rect x="295.38" y="65.5" width="3.73" height="410.0" fill="url(#g41)"/>
<rect x="298.71" y="65.5" width="3.73" height="410.0" fill="url(#g42)"/>
<rect x="302.04" y="65.5" width="3.73" height="410.0" fill="url(#g43)"/>
<rect x="305.36" y="65.5" width="3.73" height="410.0" fill="url(#g44)"/>
<rect x="308.69" y="65.5" width="3.73" height="410.0" fill="url(#g45)"/>
<rect x="312.02" y="65.5" width="3.73" height="410.0" fill="url(#g46)"/>
<rect x="315.34" y="65.5" width="3.73" height="410.0" fill="url(#g47)"/>
<rect x="318.67" y="65.5" width="3.73" height="410.0" fill="url(#g48)"/>
<rect x="322.00" y="65.5" width="3.73" height="410.0" fill="url(#g49)"/>
<rect x="325.32" y="65.5" width="3.73" height="410.0" fill="url(#g50)"/>
<rect x="328.65" y="65.5" width="3.73" height="410.0" fill="url(#g51)"/>
<rect x="331.97" y="65.5" width="3.73" height="410.0" fill="url(#g52)"/>
<rect x="335.30" y="65.5" width="3.73" height="410.0" fill="url(#g53)"/>
<rect x="338.63" y="65.5" width="3.73" height="410.0" fill="url(#g54)"/>
<rect x="341.95" y="65.5" width="3.73" height="410.0" fill="url(#g55)"/>
<rect x="345.28" y="65.5" width="3.73" height="410.0" fill="url(#g56)"/>
<rect x="348.61" y="65.5" width="3.73" height="410.0" fill="url(#g57)"/>
<rect x="351.93" y="65.5" width="3.73" height="410.0" fill="url(#g58)"/>
<rect x="355.26" y="65.5" width="3.73" height="410.0" fill="url(#g59)"/>
<rect x="358.59" y="65.5" width="3.73" height="410.0" fill="url(#g60)"/>
<rect x="361.91" y="65.5" width="3.73" height="410.0" fill="url(#g61)"/>
<rect x="365.24" y="65.5" width="3.73" height="410.0" fill="url(#g62)"/>
<rect x="368.57" y="65.5" width="3.73" height="410.0" fill="url(#g63)"/>
<rect x="371.89" y="65.5" width="3.73" height="410.0" fill="url(#g64)"/>
<rect x="375.22" y="65.5" width="3.73" height="410.0" fill="url(#g65)"/>
<rect x="378.54" y="65.5" width="3.73" height="410.0" fill="url(#g66)"/>
<rect x="381.87" y="65.5" width="3.73" height="410.0" fill="url(#g67)"/>
<rect x="385.20" y="65.5" width="3.73" height="410.0" fill="url(#g68)"/>
<rect x="388.52" y="65.5" width="3.73" height="410.0" fill="url(#g69)"/>
<rect x="391.85" y="65.5" width="3.73" height="410.0" fill="url(#g70)"/>
<rect x="395.18" y="65.5" width="3.73" height="410.0" fill="url(#g71)"/>
<rect x="398.50" y="65.5" width="3.73" height="410.0" fill="url(#g72)"/>
<rect x="401.83" y="65.5" width="3.73" height="410.0" fill="url(#g73)"/>
<rect x="405.16" y="65.5" width="3.73" height="410.0" fill="url(#g74)"/>
<rect x="408.48" y="65.5" width="3.73" height="410.0" fill="url(#g75)"/>
<rect x="411.81" y="65.5" width="3.73" height="410.0" fill="url(#g76)"/>
<rect x="415.14" y="65.5" width="3.73" height="410.0" fill="url(#g77)"/>
<rect x="418.46" y="65.5" width="3.73" height="410.0" fill="url(#g78)"/>
<rect x="421.79" y="65.5" width="3.73" height="410.0" fill="url(#g79)"/>
<rect x="425.11" y="65.5" width="3.73" height="410.0" fill="url(#g80)"/>
<rect x="428.44" y="65.5" width="3.73" height="410.0" fill="url(#g81)"/>
<rect x="431.77" y="65.5" width="3.73" height="410.0" fill="url(#g82)"/>
<rect x="435.09" y="65.5" width="3.73" height="410.0" fill="url(#g83)"/>
<rect x="438.42" y="65.5" width="3.73" height="410.0" fill="url(#g84)"/>
<rect x="441.75" y="65.5" width="3.73" height="410.0" fill="url(#g85)"/>
<rect x="445.07" y="65.5" width="3.43" height="410.0" fill="url(#g86)"/>
<rect x="377" y="434.0" width="3" height="41.5" fill="#fff"/>
<rect x="192.50" y="474.0" width="3.1" height="1.1" fill="#fff"/>
<rect x="198.00" y="474.0" width="3.1" height="1.1" fill="#fff"/>
<rect x="211.50" y="474.0" width="3.1" height="1.1" fill="#fff"/>
<rect x="263.00" y="474.0" width="3.1" height="1.1" fill="#fff"/>
<rect x="270.00" y="474.0" width="3.1" height="1.1" fill="#fff"/>
<rect x="289.00" y="474.0" width="3.1" height="1.1" fill="#fff"/>
<rect x="302.00" y="474.0" width="3.1" height="1.1" fill="#fff"/>
<rect x="337.00" y="474.0" width="3.1" height="1.1" fill="#fff"/>
<rect x="343.50" y="474.0" width="3.1" height="1.1" fill="#fff"/>
<rect x="350.00" y="474.0" width="3.1" height="1.1" fill="#fff"/>
<rect x="356.50" y="474.0" width="3.1" height="1.1" fill="#fff"/>
<rect x="363.00" y="474.0" width="3.1" height="1.1" fill="#fff"/>
<rect x="391.00" y="474.0" width="3.1" height="1.1" fill="#fff"/>
<rect x="411.00" y="474.0" width="3.1" height="1.1" fill="#fff"/>
<rect x="417.50" y="474.0" width="3.1" height="1.1" fill="#fff"/>
<rect x="424.00" y="474.0" width="3.1" height="1.1" fill="#fff"/>
<rect x="430.50" y="474.0" width="3.1" height="1.1" fill="#fff"/>
</g>
<rect x="159.5" y="65.5" width="289.0" height="410.0" fill="none" stroke="#000" stroke-width="1.1"/>
<line x1="154.5" x2="159.5" y1="65.5" y2="65.5" stroke="#000" stroke-width="1.1"/>
<text x="148.5" y="70.6" text-anchor="end" font-size="13.89">0</text>
<line x1="154.5" x2="159.5" y1="117.5" y2="117.5" stroke="#000" stroke-width="1.1"/>
<text x="148.5" y="121.8" text-anchor="end" font-size="13.89">250</text>
<line x1="154.5" x2="159.5" y1="168.5" y2="168.5" stroke="#000" stroke-width="1.1"/>
<text x="148.5" y="173.0" text-anchor="end" font-size="13.89">500</text>
<line x1="154.5" x2="159.5" y1="219.5" y2="219.5" stroke="#000" stroke-width="1.1"/>
<text x="148.5" y="224.2" text-anchor="end" font-size="13.89">750</text>
<line x1="154.5" x2="159.5" y1="270.5" y2="270.5" stroke="#000" stroke-width="1.1"/>
<text x="148.5" y="275.3" text-anchor="end" font-size="13.89">1000</text>
<line x1="154.5" x2="159.5" y1="321.5" y2="321.5" stroke="#000" stroke-width="1.1"/>
<text x="148.5" y="326.5" text-anchor="end" font-size="13.89">1250</text>
<line x1="154.5" x2="159.5" y1="373.5" y2="373.5" stroke="#000" stroke-width="1.1"/>
<text x="148.5" y="377.7" text-anchor="end" font-size="13.89">1500</text>
<line x1="154.5" x2="159.5" y1="424.5" y2="424.5" stroke="#000" stroke-width="1.1"/>
<text x="148.5" y="428.9" text-anchor="end" font-size="13.89">1750</text>
<line x1="154.5" x2="159.5" y1="475.5" y2="475.5" stroke="#000" stroke-width="1.1"/>
<text x="148.5" y="480.6" text-anchor="end" font-size="13.89">2000</text>
<line x1="215.5" x2="215.5" y1="475.5" y2="480.5" stroke="#000" stroke-width="1.1"/>
<text x="214.2" y="495.8" text-anchor="middle" font-size="13.89">2020.5</text>
<line x1="276.5" x2="276.5" y1="475.5" y2="480.5" stroke="#000" stroke-width="1.1"/>
<text x="275.6" y="495.8" text-anchor="middle" font-size="13.89">2021.0</text>
<line x1="338.5" x2="338.5" y1="475.5" y2="480.5" stroke="#000" stroke-width="1.1"/>
<text x="336.9" y="495.8" text-anchor="middle" font-size="13.89">2021.5</text>
<line x1="399.5" x2="399.5" y1="475.5" y2="480.5" stroke="#000" stroke-width="1.1"/>
<text x="398.3" y="495.8" text-anchor="middle" font-size="13.89">2022.0</text>
<text x="303.7" y="57.2" text-anchor="middle" font-size="16.67">PSAL</text>
<rect x="466.5" y="65.5" width="21.0" height="410.0" fill="url(#cb)"/>
<rect x="466.5" y="65.5" width="21.0" height="410.0" fill="none" stroke="#000" stroke-width="1.1"/>
<line x1="487.5" x2="492.5" y1="75.5" y2="75.5" stroke="#000" stroke-width="1.1"/>
<text x="495.9" y="80.8" font-size="13.89">36.5</text>
<line x1="487.5" x2="492.5" y1="165.5" y2="165.5" stroke="#000" stroke-width="1.1"/>
<text x="495.9" y="170.8" font-size="13.89">36.0</text>
<line x1="487.5" x2="492.5" y1="255.5" y2="255.5" stroke="#000" stroke-width="1.1"/>
<text x="495.9" y="260.8" font-size="13.89">35.5</text>
<line x1="487.5" x2="492.5" y1="345.5" y2="345.5" stroke="#000" stroke-width="1.1"/>
<text x="495.9" y="350.8" font-size="13.89">35.0</text>
<line x1="487.5" x2="492.5" y1="435.5" y2="435.5" stroke="#000" stroke-width="1.1"/>
<text x="495.9" y="440.8" font-size="13.89">34.5</text>
<g shape-rendering="crispEdges">
<rect x="591.50" y="65.5" width="2.78" height="410.0" fill="url(#g0)"/>
<rect x="593.88" y="65.5" width="3.73" height="410.0" fill="url(#g1)"/>
<rect x="597.21" y="65.5" width="3.73" height="410.0" fill="url(#g2)"/>
<rect x="600.54" y="65.5" width="3.73" height="410.0" fill="url(#g3)"/>
<rect x="603.87" y="65.5" width="3.73" height="410.0" fill="url(#g4)"/>
<rect x="607.21" y="65.5" width="3.73" height="410.0" fill="url(#g5)"/>
<rect x="610.54" y="65.5" width="3.73" height="410.0" fill="url(#g6)"/>
<rect x="613.87" y="65.5" width="3.73" height="410.0" fill="url(#g7)"/>
<rect x="617.20" y="65.5" width="3.73" height="410.0" fill="url(#g8)"/>
<rect x="620.53" y="65.5" width="3.73" height="410.0" fill="url(#g9)"/>
<rect x="623.86" y="65.5" width="3.73" height="410.0" fill="url(#g10)"/>
<rect x="627.19" y="65.5" width="3.73" height="410.0" fill="url(#g11)"/>
<rect x="630.52" y="65.5" width="3.73" height="410.0" fill="url(#g12)"/>
<rect x="633.85" y="65.5" width="3.73" height="410.0" fill="url(#g13)"/>
<rect x="637.18" y="65.5" width="3.73" height="410.0" fill="url(#g14)"/>
<rect x="640.52" y="65.5" width="3.73" height="410.0" fill="url(#g15)"/>
<rect x="643.85" y="65.5" width="3.73" height="410.0" fill="url(#g16)"/>
<rect x="647.18" y="65.5" width="3.73" height="410.0" fill="url(#g17)"/>
<rect x="650.51" y="65.5" width="3.73" height="410.0" fill="url(#g18)"/>
<rect x="653.84" y="65.5" width="3.73" height="410.0" fill="url(#g19)"/>
<rect x="657.17" y="65.5" width="3.73" height="410.0" fill="url(#g20)"/>
<rect x="660.50" y="65.5" width="3.73" height="410.0" fill="url(#g21)"/>
<rect x="663.83" y="65.5" width="3.73" height="410.0" fill="url(#g22)"/>
<rect x="667.16" y="65.5" width="3.73" height="410.0" fill="url(#g23)"/>
<rect x="670.49" y="65.5" width="3.73" height="410.0" fill="url(#g24)"/>
<rect x="673.83" y="65.5" width="3.73" height="410.0" fill="url(#g25)"/>
<rect x="677.16" y="65.5" width="3.73" height="410.0" fill="url(#g26)"/>
<rect x="680.49" y="65.5" width="3.73" height="410.0" fill="url(#g27)"/>
<rect x="683.82" y="65.5" width="3.73" height="410.0" fill="url(#g28)"/>
<rect x="687.15" y="65.5" width="3.73" height="410.0" fill="url(#g29)"/>
<rect x="690.48" y="65.5" width="3.73" height="410.0" fill="url(#g30)"/>
<rect x="693.81" y="65.5" width="3.73" height="410.0" fill="url(#g31)"/>
<rect x="697.14" y="65.5" width="3.73" height="410.0" fill="url(#g32)"/>
<rect x="700.47" y="65.5" width="3.73" height="410.0" fill="url(#g33)"/>
<rect x="703.81" y="65.5" width="3.73" height="410.0" fill="url(#g34)"/>
<rect x="707.14" y="65.5" width="3.73" height="410.0" fill="url(#g35)"/>
<rect x="710.47" y="65.5" width="3.73" height="410.0" fill="url(#g36)"/>
<rect x="713.80" y="65.5" width="3.73" height="410.0" fill="url(#g37)"/>
<rect x="717.13" y="65.5" width="3.73" height="410.0" fill="url(#g38)"/>
<rect x="720.46" y="65.5" width="3.73" height="410.0" fill="url(#g39)"/>
<rect x="723.79" y="65.5" width="3.73" height="410.0" fill="url(#g40)"/>
<rect x="727.12" y="65.5" width="3.73" height="410.0" fill="url(#g41)"/>
<rect x="730.45" y="65.5" width="3.73" height="410.0" fill="url(#g42)"/>
<rect x="733.78" y="65.5" width="3.73" height="410.0" fill="url(#g43)"/>
<rect x="737.12" y="65.5" width="3.73" height="410.0" fill="url(#g44)"/>
<rect x="740.45" y="65.5" width="3.73" height="410.0" fill="url(#g45)"/>
<rect x="743.78" y="65.5" width="3.73" height="410.0" fill="url(#g46)"/>
<rect x="747.11" y="65.5" width="3.73" height="410.0" fill="url(#g47)"/>
<rect x="750.44" y="65.5" width="3.73" height="410.0" fill="url(#g48)"/>
<rect x="753.77" y="65.5" width="3.73" height="410.0" fill="url(#g49)"/>
<rect x="757.10" y="65.5" width="3.73" height="410.0" fill="url(#g50)"/>
<rect x="760.43" y="65.5" width="3.73" height="410.0" fill="url(#g51)"/>
<rect x="763.76" y="65.5" width="3.73" height="410.0" fill="url(#g52)"/>
<rect x="767.09" y="65.5" width="3.73" height="410.0" fill="url(#g53)"/>
<rect x="770.43" y="65.5" width="3.73" height="410.0" fill="url(#g54)"/>
<rect x="773.76" y="65.5" width="3.73" height="410.0" fill="url(#g55)"/>
<rect x="777.09" y="65.5" width="3.73" height="410.0" fill="url(#g56)"/>
<rect x="780.42" y="65.5" width="3.73" height="410.0" fill="url(#g57)"/>
<rect x="783.75" y="65.5" width="3.73" height="410.0" fill="url(#g58)"/>
<rect x="787.08" y="65.5" width="3.73" height="410.0" fill="url(#g59)"/>
<rect x="790.41" y="65.5" width="3.73" height="410.0" fill="url(#g60)"/>
<rect x="793.74" y="65.5" width="3.73" height="410.0" fill="url(#g61)"/>
<rect x="797.07" y="65.5" width="3.73" height="410.0" fill="url(#g62)"/>
<rect x="800.41" y="65.5" width="3.73" height="410.0" fill="url(#g63)"/>
<rect x="803.74" y="65.5" width="3.73" height="410.0" fill="url(#g64)"/>
<rect x="807.07" y="65.5" width="3.73" height="410.0" fill="url(#g65)"/>
<rect x="810.40" y="65.5" width="3.73" height="410.0" fill="url(#g66)"/>
<rect x="813.73" y="65.5" width="3.73" height="410.0" fill="url(#g67)"/>
<rect x="817.06" y="65.5" width="3.73" height="410.0" fill="url(#g68)"/>
<rect x="820.39" y="65.5" width="3.73" height="410.0" fill="url(#g69)"/>
<rect x="823.72" y="65.5" width="3.73" height="410.0" fill="url(#g70)"/>
<rect x="827.05" y="65.5" width="3.73" height="410.0" fill="url(#g71)"/>
<rect x="830.38" y="65.5" width="3.73" height="410.0" fill="url(#g72)"/>
<rect x="833.72" y="65.5" width="3.73" height="410.0" fill="url(#g73)"/>
<rect x="837.05" y="65.5" width="3.73" height="410.0" fill="url(#g74)"/>
<rect x="840.38" y="65.5" width="3.73" height="410.0" fill="url(#g75)"/>
<rect x="843.71" y="65.5" width="3.73" height="410.0" fill="url(#g76)"/>
<rect x="847.04" y="65.5" width="3.73" height="410.0" fill="url(#g77)"/>
<rect x="850.37" y="65.5" width="3.73" height="410.0" fill="url(#g78)"/>
<rect x="853.70" y="65.5" width="3.73" height="410.0" fill="url(#g79)"/>
<rect x="857.03" y="65.5" width="3.73" height="410.0" fill="url(#g80)"/>
<rect x="860.36" y="65.5" width="3.73" height="410.0" fill="url(#g81)"/>
<rect x="863.69" y="65.5" width="3.73" height="410.0" fill="url(#g82)"/>
<rect x="867.03" y="65.5" width="3.73" height="410.0" fill="url(#g83)"/>
<rect x="870.36" y="65.5" width="3.73" height="410.0" fill="url(#g84)"/>
<rect x="873.69" y="65.5" width="3.73" height="410.0" fill="url(#g85)"/>
<rect x="877.02" y="65.5" width="3.48" height="410.0" fill="url(#g86)"/>
<rect x="809" y="434.0" width="4" height="41.5" fill="#fff"/>
<rect x="624.05" y="474.0" width="3.1" height="1.1" fill="#fff"/>
<rect x="629.55" y="474.0" width="3.1" height="1.1" fill="#fff"/>
<rect x="643.05" y="474.0" width="3.1" height="1.1" fill="#fff"/>
<rect x="694.55" y="474.0" width="3.1" height="1.1" fill="#fff"/>
<rect x="701.55" y="474.0" width="3.1" height="1.1" fill="#fff"/>
<rect x="720.55" y="474.0" width="3.1" height="1.1" fill="#fff"/>
<rect x="733.55" y="474.0" width="3.1" height="1.1" fill="#fff"/>
<rect x="768.55" y="474.0" width="3.1" height="1.1" fill="#fff"/>
<rect x="775.05" y="474.0" width="3.1" height="1.1" fill="#fff"/>
<rect x="781.55" y="474.0" width="3.1" height="1.1" fill="#fff"/>
<rect x="788.05" y="474.0" width="3.1" height="1.1" fill="#fff"/>
<rect x="794.55" y="474.0" width="3.1" height="1.1" fill="#fff"/>
<rect x="822.55" y="474.0" width="3.1" height="1.1" fill="#fff"/>
<rect x="842.55" y="474.0" width="3.1" height="1.1" fill="#fff"/>
<rect x="849.05" y="474.0" width="3.1" height="1.1" fill="#fff"/>
<rect x="855.55" y="474.0" width="3.1" height="1.1" fill="#fff"/>
<rect x="862.05" y="474.0" width="3.1" height="1.1" fill="#fff"/>
</g>
<rect x="591.5" y="65.5" width="289.0" height="410.0" fill="none" stroke="#000" stroke-width="1.1"/>
<line x1="586.5" x2="591.5" y1="65.5" y2="65.5" stroke="#000" stroke-width="1.1"/>
<text x="580.5" y="70.6" text-anchor="end" font-size="13.89">0</text>
<line x1="586.5" x2="591.5" y1="117.5" y2="117.5" stroke="#000" stroke-width="1.1"/>
<text x="580.5" y="121.8" text-anchor="end" font-size="13.89">250</text>
<line x1="586.5" x2="591.5" y1="168.5" y2="168.5" stroke="#000" stroke-width="1.1"/>
<text x="580.5" y="173.0" text-anchor="end" font-size="13.89">500</text>
<line x1="586.5" x2="591.5" y1="219.5" y2="219.5" stroke="#000" stroke-width="1.1"/>
<text x="580.5" y="224.2" text-anchor="end" font-size="13.89">750</text>
<line x1="586.5" x2="591.5" y1="270.5" y2="270.5" stroke="#000" stroke-width="1.1"/>
<text x="580.5" y="275.3" text-anchor="end" font-size="13.89">1000</text>
<line x1="586.5" x2="591.5" y1="321.5" y2="321.5" stroke="#000" stroke-width="1.1"/>
<text x="580.5" y="326.5" text-anchor="end" font-size="13.89">1250</text>
<line x1="586.5" x2="591.5" y1="373.5" y2="373.5" stroke="#000" stroke-width="1.1"/>
<text x="580.5" y="377.7" text-anchor="end" font-size="13.89">1500</text>
<line x1="586.5" x2="591.5" y1="424.5" y2="424.5" stroke="#000" stroke-width="1.1"/>
<text x="580.5" y="428.9" text-anchor="end" font-size="13.89">1750</text>
<line x1="586.5" x2="591.5" y1="475.5" y2="475.5" stroke="#000" stroke-width="1.1"/>
<text x="580.5" y="480.6" text-anchor="end" font-size="13.89">2000</text>
<line x1="647.5" x2="647.5" y1="475.5" y2="480.5" stroke="#000" stroke-width="1.1"/>
<text x="646.5" y="495.8" text-anchor="middle" font-size="13.89">2020.5</text>
<line x1="709.5" x2="709.5" y1="475.5" y2="480.5" stroke="#000" stroke-width="1.1"/>
<text x="708.1" y="495.8" text-anchor="middle" font-size="13.89">2021.0</text>
<line x1="770.5" x2="770.5" y1="475.5" y2="480.5" stroke="#000" stroke-width="1.1"/>
<text x="769.7" y="495.8" text-anchor="middle" font-size="13.89">2021.5</text>
<line x1="832.5" x2="832.5" y1="475.5" y2="480.5" stroke="#000" stroke-width="1.1"/>
<text x="831.3" y="495.8" text-anchor="middle" font-size="13.89">2022.0</text>
<text x="735.4" y="57.2" text-anchor="middle" font-size="16.67">PSAL_ADJUSTED</text>
<rect x="898.5" y="65.5" width="21.0" height="410.0" fill="url(#cb)"/>
<rect x="898.5" y="65.5" width="21.0" height="410.0" fill="none" stroke="#000" stroke-width="1.1"/>
<line x1="919.5" x2="924.5" y1="75.5" y2="75.5" stroke="#000" stroke-width="1.1"/>
<text x="927.9" y="80.8" font-size="13.89">36.5</text>
<line x1="919.5" x2="924.5" y1="165.5" y2="165.5" stroke="#000" stroke-width="1.1"/>
<text x="927.9" y="170.8" font-size="13.89">36.0</text>
<line x1="919.5" x2="924.5" y1="255.5" y2="255.5" stroke="#000" stroke-width="1.1"/>
<text x="927.9" y="260.8" font-size="13.89">35.5</text>
<line x1="919.5" x2="924.5" y1="345.5" y2="345.5" stroke="#000" stroke-width="1.1"/>
<text x="927.9" y="350.8" font-size="13.89">35.0</text>
<line x1="919.5" x2="924.5" y1="435.5" y2="435.5" stroke="#000" stroke-width="1.1"/>
<text x="927.9" y="440.8" font-size="13.89">34.5</text>
<g shape-rendering="crispEdges">
<rect x="1023.5" y="65.5" width="290.0" height="410.0" fill="#377eb8"/>
<rect x="1022.75" y="66" width="289.80" height="19" fill="#999999"/>
<path d="M1022.8 66.5h10.0M1039.4 66.5h3.3M1046.1 66.5h53.3M1102.7 66.5h3.3M1109.4 66.5h10.0M1122.7 66.5h13.3M1142.7 66.5h3.3M1152.7 66.5h20.0M1186.0 66.5h43.3M1239.3 66.5h20.0M1262.6 66.5h10.0M1275.9 66.5h13.3M1299.2 66.5h13.3M1022.8 68.5h89.9M1116.0 68.5h13.3M1132.7 68.5h10.0M1146.0 68.5h13.3M1162.7 68.5h30.0M1196.0 68.5h13.3M1212.6 68.5h3.3M1219.3 68.5h10.0M1232.6 68.5h20.0M1255.9 68.5h13.3M1272.6 68.5h10.0M1285.9 68.5h3.3M1292.6 68.5h6.7M1302.6 68.5h10.0M1022.8 70.5h289.8M1026.1 72.5h3.3M1032.7 72.5h6.7M1046.1 72.5h6.7M1062.7 72.5h3.3M1069.4 72.5h10.0M1096.0 72.5h3.3M1122.7 72.5h6.7M1132.7 72.5h3.3M1139.3 72.5h10.0M1159.3 72.5h33.3M1196.0 72.5h3.3M1209.3 72.5h6.7M1225.9 72.5h3.3M1235.9 72.5h3.3M1265.9 72.5h3.3M1272.6 72.5h10.0M1285.9 72.5h13.3M1309.2 72.5h3.3M1029.4 74.5h6.7M1049.4 74.5h6.7M1062.7 74.5h6.7M1082.7 74.5h10.0M1102.7 74.5h33.3M1139.3 74.5h16.7M1162.7 74.5h20.0M1189.3 74.5h6.7M1199.3 74.5h33.3M1239.3 74.5h6.7M1259.3 74.5h3.3M1275.9 74.5h10.0M1289.2 74.5h3.3M1309.2 74.5h3.3M1022.8 76.5h16.7M1042.7 76.5h6.7M1052.7 76.5h56.6M1112.7 76.5h3.3M1119.3 76.5h6.7M1132.7 76.5h66.6M1202.6 76.5h3.3M1209.3 76.5h20.0M1232.6 76.5h6.7M1242.6 76.5h70.0M1022.8 78.5h289.8M1039.4 80.5h6.7M1049.4 80.5h36.6M1089.4 80.5h6.7M1102.7 80.5h3.3M1109.4 80.5h26.6M1142.7 80.5h3.3M1156.0 80.5h6.7M1172.6 80.5h3.3M1182.6 80.5h16.7M1206.0 80.5h3.3M1212.6 80.5h6.7M1245.9 80.5h3.3M1252.6 80.5h33.3M1289.2 80.5h10.0M1302.6 80.5h6.7M1026.1 82.5h16.7M1046.1 82.5h6.7M1059.4 82.5h20.0M1082.7 82.5h56.6M1142.7 82.5h36.6M1182.6 82.5h46.6M1232.6 82.5h26.6M1262.6 82.5h13.3M1279.2 82.5h23.3M1305.9 82.5h6.7M1022.8 84.5h289.8" stroke="#377eb8" stroke-width="1" fill="none"/>
<path d="M1022.8 86.5h23.3M1049.4 86.5h50.0M1102.7 86.5h13.3M1119.3 86.5h56.6M1192.6 86.5h96.6M1302.6 86.5h10.0M1022.8 87.5h3.3M1029.4 87.5h20.0M1056.1 87.5h16.7M1076.0 87.5h6.7M1086.0 87.5h43.3M1132.7 87.5h73.3M1209.3 87.5h103.3M1032.7 89.5h3.3M1112.7 89.5h3.3M1176.0 89.5h13.3M1022.8 90.5h10.0M1046.1 90.5h66.6M1116.0 90.5h50.0M1169.3 90.5h6.7M1189.3 90.5h96.6M1289.2 90.5h3.3M1295.9 90.5h16.7M1022.8 91.5h6.7M1036.1 91.5h16.7M1072.7 91.5h26.6M1119.3 91.5h3.3M1129.3 91.5h3.3M1146.0 91.5h10.0M1172.6 91.5h3.3M1199.3 91.5h13.3M1255.9 91.5h6.7M1275.9 91.5h20.0M1302.6 91.5h3.3M1182.6 94.5h3.3M1202.6 94.5h3.3M1262.6 94.5h3.3M1022.8 95.5h99.9M1126.0 95.5h56.6M1186.0 95.5h13.3M1206.0 95.5h56.6M1265.9 95.5h46.6M1022.8 96.5h79.9M1106.0 96.5h23.3M1136.0 96.5h13.3M1152.7 96.5h16.7M1172.6 96.5h10.0M1186.0 96.5h16.7M1206.0 96.5h16.7M1225.9 96.5h36.6M1265.9 96.5h13.3M1285.9 96.5h10.0M1299.2 96.5h6.7M1309.2 96.5h3.3M1022.8 99.5h133.2M1159.3 99.5h10.0M1186.0 99.5h30.0M1219.3 99.5h93.3M1076.0 100.5h6.7M1086.0 100.5h3.3M1092.7 100.5h3.3M1102.7 100.5h3.3M1129.3 100.5h6.7M1146.0 100.5h6.7M1156.0 100.5h3.3M1169.3 100.5h16.7M1189.3 100.5h13.3M1209.3 100.5h6.7M1222.6 100.5h3.3M1232.6 100.5h13.3M1255.9 100.5h3.3M1265.9 100.5h6.7M1289.2 100.5h3.3M1295.9 100.5h3.3M1309.2 100.5h3.3M1056.1 103.5h16.7M1189.3 103.5h16.7M1225.9 103.5h10.0M1022.8 104.5h33.3M1072.7 104.5h3.3M1079.4 104.5h109.9M1216.0 104.5h10.0M1235.9 104.5h40.0M1292.6 104.5h3.3M1299.2 104.5h10.0M1022.8 105.5h33.3M1072.7 105.5h13.3M1089.4 105.5h26.6M1119.3 105.5h63.3M1186.0 105.5h3.3M1206.0 105.5h20.0M1235.9 105.5h33.3M1272.6 105.5h33.3M1309.2 105.5h3.3M1022.8 107.5h33.3M1056.1 108.5h136.6M1196.0 108.5h116.6M1059.4 109.5h3.3M1069.4 109.5h16.7M1089.4 109.5h3.3M1096.0 109.5h3.3M1102.7 109.5h33.3M1139.3 109.5h3.3M1156.0 109.5h6.7M1172.6 109.5h3.3M1179.3 109.5h6.7M1189.3 109.5h13.3M1216.0 109.5h3.3M1229.3 109.5h10.0M1259.3 109.5h3.3M1269.2 109.5h3.3M1275.9 109.5h13.3M1305.9 109.5h6.7M1022.8 113.5h259.8M1285.9 113.5h26.6M1022.8 114.5h43.3M1069.4 114.5h10.0M1082.7 114.5h3.3M1089.4 114.5h60.0M1156.0 114.5h76.6M1235.9 114.5h6.7M1249.3 114.5h6.7M1259.3 114.5h16.7M1279.2 114.5h10.0M1292.6 114.5h20.0M1109.4 116.5h10.0M1022.8 117.5h86.6M1119.3 117.5h193.2M1022.8 118.5h3.3M1049.4 118.5h3.3M1056.1 118.5h6.7M1079.4 118.5h6.7M1096.0 118.5h13.3M1119.3 118.5h6.7M1132.7 118.5h3.3M1146.0 118.5h3.3M1152.7 118.5h3.3M1206.0 118.5h10.0M1229.3 118.5h3.3M1275.9 118.5h3.3M1289.2 118.5h6.7M1022.8 122.5h289.8M1022.8 123.5h13.3M1039.4 123.5h16.7M1062.7 123.5h56.6M1126.0 123.5h56.6M1186.0 123.5h10.0M1199.3 123.5h70.0M1272.6 123.5h40.0M1176.0 125.5h10.0M1022.8 126.5h129.9M1156.0 126.5h20.0M1186.0 126.5h13.3M1202.6 126.5h20.0M1225.9 126.5h13.3M1242.6 126.5h50.0M1299.2 126.5h6.7M1026.1 127.5h26.6M1076.0 127.5h10.0M1102.7 127.5h3.3M1116.0 127.5h3.3M1122.7 127.5h16.7M1142.7 127.5h13.3M1166.0 127.5h10.0M1186.0 127.5h10.0M1255.9 127.5h10.0M1292.6 127.5h10.0M1305.9 127.5h6.7M1206.0 130.5h13.3M1022.8 131.5h13.3M1039.4 131.5h53.3M1102.7 131.5h3.3M1109.4 131.5h96.6M1219.3 131.5h93.3M1022.8 132.5h10.0M1052.7 132.5h16.7M1072.7 132.5h16.7M1092.7 132.5h16.7M1112.7 132.5h26.6M1146.0 132.5h46.6M1199.3 132.5h6.7M1219.3 132.5h33.3M1262.6 132.5h50.0M1255.9 134.5h3.3M1292.6 134.5h13.3M1022.8 135.5h3.3M1042.7 135.5h56.6M1102.7 135.5h26.6M1132.7 135.5h123.2M1259.3 135.5h23.3M1289.2 135.5h3.3M1305.9 135.5h6.7M1022.8 136.5h26.6M1052.7 136.5h3.3M1059.4 136.5h3.3M1072.7 136.5h6.7M1096.0 136.5h20.0M1129.3 136.5h13.3M1159.3 136.5h6.7M1206.0 136.5h13.3M1222.6 136.5h3.3M1229.3 136.5h10.0M1265.9 136.5h3.3M1282.6 136.5h10.0M1305.9 136.5h3.3M1172.6 139.5h33.3M1022.8 140.5h123.2M1152.7 140.5h20.0M1206.0 140.5h20.0M1242.6 140.5h10.0M1255.9 140.5h36.6M1295.9 140.5h16.7M1022.8 141.5h23.3M1049.4 141.5h66.6M1119.3 141.5h53.3M1206.0 141.5h43.3M1252.6 141.5h30.0M1289.2 141.5h23.3M1126.0 143.5h3.3M1272.6 143.5h10.0M1022.8 144.5h53.3M1082.7 144.5h43.3M1129.3 144.5h109.9M1242.6 144.5h30.0M1282.6 144.5h26.6M1022.8 145.5h3.3M1032.7 145.5h10.0M1046.1 145.5h6.7M1056.1 145.5h6.7M1069.4 145.5h13.3M1086.0 145.5h16.7M1106.0 145.5h3.3M1116.0 145.5h3.3M1136.0 145.5h43.3M1186.0 145.5h16.7M1206.0 145.5h20.0M1242.6 145.5h10.0M1262.6 145.5h6.7M1289.2 145.5h10.0M1305.9 145.5h6.7M1179.3 148.5h3.3M1186.0 148.5h16.7M1022.8 149.5h6.7M1049.4 149.5h83.3M1136.0 149.5h43.3M1202.6 149.5h10.0M1216.0 149.5h33.3M1252.6 149.5h56.6M1022.8 150.5h73.3M1099.4 150.5h13.3M1119.3 150.5h26.6M1149.3 150.5h6.7M1159.3 150.5h16.7M1202.6 150.5h6.7M1216.0 150.5h3.3M1222.6 150.5h23.3M1255.9 150.5h3.3M1269.2 150.5h30.0M1302.6 150.5h10.0M1022.8 153.5h26.6M1052.7 153.5h43.3M1099.4 153.5h163.2M1265.9 153.5h46.6M1022.8 154.5h3.3M1032.7 154.5h6.7M1086.0 154.5h3.3M1092.7 154.5h10.0M1106.0 154.5h3.3M1122.7 154.5h23.3M1156.0 154.5h13.3M1182.6 154.5h13.3M1206.0 154.5h16.7M1232.6 154.5h3.3M1252.6 154.5h13.3M1275.9 154.5h16.7M1309.2 154.5h3.3M1022.8 157.5h13.3M1089.4 157.5h3.3M1169.3 157.5h10.0M1036.1 158.5h40.0M1092.7 158.5h6.7M1102.7 158.5h66.6M1179.3 158.5h3.3M1186.0 158.5h20.0M1229.3 158.5h43.3M1275.9 158.5h36.6M1036.1 159.5h53.3M1092.7 159.5h33.3M1129.3 159.5h3.3M1136.0 159.5h6.7M1149.3 159.5h20.0M1182.6 159.5h66.6M1255.9 159.5h30.0M1289.2 159.5h23.3M1069.4 161.5h3.3M1112.7 161.5h10.0M1279.2 161.5h13.3M1022.8 162.5h43.3M1072.7 162.5h40.0M1122.7 162.5h153.2M1292.6 162.5h20.0M1022.8 163.5h3.3M1049.4 163.5h16.7M1072.7 163.5h3.3M1106.0 163.5h6.7M1132.7 163.5h6.7M1159.3 163.5h3.3M1169.3 163.5h6.7M1189.3 163.5h6.7M1199.3 163.5h13.3M1222.6 163.5h6.7M1232.6 163.5h6.7M1292.6 163.5h3.3M1189.3 166.5h6.7M1022.8 167.5h33.3M1059.4 167.5h129.9M1196.0 167.5h16.7M1222.6 167.5h86.6M1022.8 168.5h23.3M1049.4 168.5h10.0M1062.7 168.5h13.3M1082.7 168.5h99.9M1186.0 168.5h3.3M1196.0 168.5h89.9M1289.2 168.5h23.3M1022.8 171.5h10.0M1036.1 171.5h30.0M1069.4 171.5h50.0M1129.3 171.5h183.2M1022.8 172.5h3.3M1036.1 172.5h3.3M1042.7 172.5h16.7M1076.0 172.5h3.3M1082.7 172.5h16.7M1112.7 172.5h3.3M1119.3 172.5h10.0M1136.0 172.5h20.0M1166.0 172.5h10.0M1189.3 172.5h10.0M1222.6 172.5h6.7M1249.3 172.5h10.0M1302.6 172.5h10.0M1212.6 175.5h16.7M1239.3 175.5h23.3M1022.8 176.5h3.3M1029.4 176.5h183.2M1229.3 176.5h10.0M1282.6 176.5h30.0M1022.8 177.5h20.0M1052.7 177.5h23.3M1079.4 177.5h6.7M1089.4 177.5h10.0M1106.0 177.5h3.3M1112.7 177.5h6.7M1122.7 177.5h6.7M1142.7 177.5h16.7M1166.0 177.5h36.6M1206.0 177.5h6.7M1229.3 177.5h10.0M1262.6 177.5h50.0M1022.8 180.5h26.6M1052.7 180.5h116.6M1172.6 180.5h20.0M1196.0 180.5h116.6M1056.1 181.5h10.0M1092.7 181.5h10.0M1112.7 181.5h3.3M1119.3 181.5h3.3M1132.7 181.5h3.3M1169.3 181.5h3.3M1229.3 181.5h3.3M1235.9 181.5h3.3M1249.3 181.5h13.3M1275.9 181.5h3.3M1282.6 181.5h3.3M1292.6 181.5h3.3M1299.2 181.5h10.0M1196.0 184.5h3.3M1022.8 185.5h93.3M1122.7 185.5h73.3M1199.3 185.5h113.3M1022.8 186.5h26.6M1056.1 186.5h73.3M1132.7 186.5h30.0M1166.0 186.5h30.0M1202.6 186.5h16.7M1222.6 186.5h23.3M1249.3 186.5h33.3M1289.2 186.5h23.3M1106.0 188.5h6.7M1022.8 189.5h83.3M1122.7 189.5h16.7M1142.7 189.5h13.3M1159.3 189.5h143.2M1309.2 189.5h3.3M1022.8 190.5h13.3M1042.7 190.5h3.3M1049.4 190.5h23.3M1086.0 190.5h6.7M1096.0 190.5h6.7M1112.7 190.5h10.0M1149.3 190.5h10.0M1162.7 190.5h10.0M1206.0 190.5h10.0M1232.6 190.5h10.0M1289.2 190.5h10.0M1302.6 190.5h6.7M1082.7 193.5h6.7M1022.8 194.5h33.3M1059.4 194.5h16.7M1079.4 194.5h3.3M1089.4 194.5h26.6M1119.3 194.5h23.3M1149.3 194.5h33.3M1186.0 194.5h40.0M1229.3 194.5h83.3M1022.8 195.5h6.7M1032.7 195.5h6.7M1046.1 195.5h36.6M1099.4 195.5h30.0M1142.7 195.5h16.7M1162.7 195.5h50.0M1219.3 195.5h26.6M1252.6 195.5h23.3M1282.6 195.5h30.0M1285.9 197.5h3.3M1022.8 198.5h60.0M1086.0 198.5h136.6M1225.9 198.5h3.3M1235.9 198.5h50.0M1289.2 198.5h16.7M1022.8 199.5h10.0M1086.0 199.5h10.0M1102.7 199.5h6.7M1116.0 199.5h10.0M1172.6 199.5h13.3M1202.6 199.5h23.3M1229.3 199.5h26.6M1282.6 199.5h3.3M1295.9 199.5h16.7M1069.4 202.5h3.3M1129.3 202.5h16.7M1186.0 202.5h13.3M1026.1 203.5h43.3M1072.7 203.5h56.6M1182.6 203.5h3.3M1199.3 203.5h30.0M1232.6 203.5h79.9M1022.8 204.5h46.6M1072.7 204.5h23.3M1102.7 204.5h26.6M1146.0 204.5h40.0M1199.3 204.5h50.0M1252.6 204.5h60.0M1259.3 206.5h26.6M1022.8 207.5h83.3M1109.4 207.5h20.0M1182.6 207.5h20.0M1225.9 207.5h33.3M1022.8 208.5h3.3M1036.1 208.5h3.3M1072.7 208.5h23.3M1116.0 208.5h6.7M1129.3 208.5h6.7M1139.3 208.5h43.3M1202.6 208.5h23.3M1239.3 208.5h10.0M1285.9 208.5h20.0M1022.8 212.5h23.3M1049.4 212.5h30.0M1092.7 212.5h6.7M1116.0 212.5h196.5M1022.8 213.5h70.0M1096.0 213.5h216.5M1022.8 216.5h86.6M1116.0 216.5h70.0M1232.6 216.5h79.9M1059.4 217.5h10.0M1076.0 217.5h26.6M1109.4 217.5h6.7M1146.0 217.5h3.3M1156.0 217.5h13.3M1176.0 217.5h56.6M1242.6 217.5h3.3M1272.6 217.5h3.3M1302.6 217.5h10.0M1022.8 221.5h79.9M1106.0 221.5h89.9M1199.3 221.5h113.3M1022.8 222.5h43.3M1072.7 222.5h40.0M1116.0 222.5h13.3M1132.7 222.5h126.6M1265.9 222.5h33.3M1302.6 222.5h10.0M1096.0 224.5h10.0M1022.8 225.5h66.6M1092.7 225.5h3.3M1106.0 225.5h203.2M1026.1 226.5h23.3M1056.1 226.5h6.7M1079.4 226.5h3.3M1109.4 226.5h3.3M1116.0 226.5h3.3M1139.3 226.5h3.3M1146.0 226.5h6.7M1159.3 226.5h6.7M1172.6 226.5h10.0M1186.0 226.5h3.3M1206.0 226.5h23.3M1235.9 226.5h3.3M1279.2 226.5h3.3M1285.9 226.5h20.0M1199.3 229.5h6.7M1249.3 229.5h16.7M1022.8 230.5h6.7M1032.7 230.5h50.0M1086.0 230.5h106.6M1196.0 230.5h3.3M1216.0 230.5h33.3M1265.9 230.5h40.0M1309.2 230.5h3.3M1022.8 231.5h20.0M1049.4 231.5h26.6M1079.4 231.5h13.3M1096.0 231.5h43.3M1146.0 231.5h3.3M1152.7 231.5h46.6M1206.0 231.5h33.3M1242.6 231.5h6.7M1269.2 231.5h13.3M1285.9 231.5h26.6M1022.8 234.5h50.0M1076.0 234.5h73.3M1152.7 234.5h16.7M1172.6 234.5h79.9M1259.3 234.5h53.3M1022.8 235.5h3.3M1036.1 235.5h10.0M1049.4 235.5h10.0M1066.1 235.5h20.0M1092.7 235.5h6.7M1112.7 235.5h20.0M1136.0 235.5h6.7M1149.3 235.5h3.3M1159.3 235.5h6.7M1186.0 235.5h13.3M1206.0 235.5h33.3M1242.6 235.5h6.7M1269.2 235.5h6.7M1282.6 235.5h3.3M1189.3 238.5h6.7M1212.6 238.5h20.0M1022.8 239.5h50.0M1076.0 239.5h13.3M1092.7 239.5h10.0M1106.0 239.5h83.3M1196.0 239.5h16.7M1232.6 239.5h79.9M1022.8 240.5h40.0M1069.4 240.5h73.3M1149.3 240.5h10.0M1166.0 240.5h16.7M1186.0 240.5h3.3M1196.0 240.5h6.7M1206.0 240.5h6.7M1232.6 240.5h30.0M1265.9 240.5h33.3M1305.9 240.5h6.7M1122.7 242.5h6.7M1022.8 243.5h99.9M1129.3 243.5h30.0M1172.6 243.5h3.3M1179.3 243.5h73.3M1255.9 243.5h56.6M1026.1 244.5h16.7M1086.0 244.5h10.0M1102.7 244.5h20.0M1132.7 244.5h6.7M1156.0 244.5h16.7M1176.0 244.5h13.3M1209.3 244.5h6.7M1219.3 244.5h3.3M1232.6 244.5h6.7M1252.6 244.5h3.3M1275.9 244.5h3.3M1285.9 244.5h26.6M1022.8 248.5h20.0M1046.1 248.5h123.2M1179.3 248.5h50.0M1232.6 248.5h20.0M1255.9 248.5h56.6M1022.8 249.5h10.0M1046.1 249.5h99.9M1149.3 249.5h3.3M1156.0 249.5h53.3M1216.0 249.5h6.7M1225.9 249.5h86.6M1022.8 252.5h103.3M1146.0 252.5h3.3M1152.7 252.5h16.7M1172.6 252.5h3.3M1255.9 252.5h16.7M1279.2 252.5h33.3M1059.4 253.5h6.7M1076.0 253.5h3.3M1086.0 253.5h3.3M1096.0 253.5h3.3M1109.4 253.5h13.3M1126.0 253.5h20.0M1152.7 253.5h10.0M1176.0 253.5h56.6M1235.9 253.5h20.0M1272.6 253.5h6.7M1289.2 253.5h6.7M1022.8 257.5h30.0M1062.7 257.5h249.8M1022.8 258.5h50.0M1076.0 258.5h23.3M1102.7 258.5h3.3M1112.7 258.5h70.0M1192.6 258.5h3.3M1199.3 258.5h10.0M1212.6 258.5h76.6M1292.6 258.5h20.0M1199.3 260.5h3.3M1305.9 260.5h6.7M1022.8 261.5h40.0M1066.1 261.5h3.3M1072.7 261.5h126.6M1202.6 261.5h93.3M1036.1 262.5h6.7M1062.7 262.5h30.0M1096.0 262.5h3.3M1109.4 262.5h10.0M1136.0 262.5h3.3M1162.7 262.5h10.0M1179.3 262.5h6.7M1196.0 262.5h3.3M1239.3 262.5h26.6M1275.9 262.5h10.0M1299.2 262.5h6.7" stroke="#999999" stroke-width="1" fill="none"/>
<rect x="1022.75" y="266" width="289.80" height="4" fill="#ff7f00"/>
<path d="M1032.7 265.5h6.7M1052.7 265.5h6.7M1062.7 265.5h6.7M1089.4 265.5h3.3M1096.0 265.5h6.7M1112.7 265.5h16.7M1132.7 265.5h3.3M1156.0 265.5h3.3M1206.0 265.5h6.7M1232.6 265.5h6.7M1255.9 265.5h3.3M1302.6 265.5h6.7" stroke="#ff7f00" stroke-width="1" fill="none"/>
<rect x="1242" y="434.0" width="3" height="41.5" fill="#fff"/>
<rect x="1056.25" y="474.0" width="3.1" height="1.1" fill="#fff"/>
<rect x="1061.75" y="474.0" width="3.1" height="1.1" fill="#fff"/>
<rect x="1075.25" y="474.0" width="3.1" height="1.1" fill="#fff"/>
<rect x="1126.75" y="474.0" width="3.1" height="1.1" fill="#fff"/>
<rect x="1133.75" y="474.0" width="3.1" height="1.1" fill="#fff"/>
<rect x="1152.75" y="474.0" width="3.1" height="1.1" fill="#fff"/>
<rect x="1165.75" y="474.0" width="3.1" height="1.1" fill="#fff"/>
<rect x="1200.75" y="474.0" width="3.1" height="1.1" fill="#fff"/>
<rect x="1207.25" y="474.0" width="3.1" height="1.1" fill="#fff"/>
<rect x="1213.75" y="474.0" width="3.1" height="1.1" fill="#fff"/>
<rect x="1220.25" y="474.0" width="3.1" height="1.1" fill="#fff"/>
<rect x="1226.75" y="474.0" width="3.1" height="1.1" fill="#fff"/>
<rect x="1254.75" y="474.0" width="3.1" height="1.1" fill="#fff"/>
<rect x="1274.75" y="474.0" width="3.1" height="1.1" fill="#fff"/>
<rect x="1281.25" y="474.0" width="3.1" height="1.1" fill="#fff"/>
<rect x="1287.75" y="474.0" width="3.1" height="1.1" fill="#fff"/>
<rect x="1294.25" y="474.0" width="3.1" height="1.1" fill="#fff"/>
</g>
<rect x="1023.5" y="65.5" width="290.0" height="410.0" fill="none" stroke="#000" stroke-width="1.1"/>
<line x1="1018.5" x2="1023.5" y1="65.5" y2="65.5" stroke="#000" stroke-width="1.1"/>
<text x="1012.5" y="70.6" text-anchor="end" font-size="13.89">0</text>
<line x1="1018.5" x2="1023.5" y1="117.5" y2="117.5" stroke="#000" stroke-width="1.1"/>
<text x="1012.5" y="121.8" text-anchor="end" font-size="13.89">250</text>
<line x1="1018.5" x2="1023.5" y1="168.5" y2="168.5" stroke="#000" stroke-width="1.1"/>
<text x="1012.5" y="173.0" text-anchor="end" font-size="13.89">500</text>
<line x1="1018.5" x2="1023.5" y1="219.5" y2="219.5" stroke="#000" stroke-width="1.1"/>
<text x="1012.5" y="224.2" text-anchor="end" font-size="13.89">750</text>
<line x1="1018.5" x2="1023.5" y1="270.5" y2="270.5" stroke="#000" stroke-width="1.1"/>
<text x="1012.5" y="275.3" text-anchor="end" font-size="13.89">1000</text>
<line x1="1018.5" x2="1023.5" y1="321.5" y2="321.5" stroke="#000" stroke-width="1.1"/>
<text x="1012.5" y="326.5" text-anchor="end" font-size="13.89">1250</text>
<line x1="1018.5" x2="1023.5" y1="373.5" y2="373.5" stroke="#000" stroke-width="1.1"/>
<text x="1012.5" y="377.7" text-anchor="end" font-size="13.89">1500</text>
<line x1="1018.5" x2="1023.5" y1="424.5" y2="424.5" stroke="#000" stroke-width="1.1"/>
<text x="1012.5" y="428.9" text-anchor="end" font-size="13.89">1750</text>
<line x1="1018.5" x2="1023.5" y1="475.5" y2="475.5" stroke="#000" stroke-width="1.1"/>
<text x="1012.5" y="480.6" text-anchor="end" font-size="13.89">2000</text>
<line x1="1079.5" x2="1079.5" y1="475.5" y2="480.5" stroke="#000" stroke-width="1.1"/>
<text x="1078.7" y="495.8" text-anchor="middle" font-size="13.89">2020.5</text>
<line x1="1141.5" x2="1141.5" y1="475.5" y2="480.5" stroke="#000" stroke-width="1.1"/>
<text x="1140.3" y="495.8" text-anchor="middle" font-size="13.89">2021.0</text>
<line x1="1203.5" x2="1203.5" y1="475.5" y2="480.5" stroke="#000" stroke-width="1.1"/>
<text x="1201.9" y="495.8" text-anchor="middle" font-size="13.89">2021.5</text>
<line x1="1264.5" x2="1264.5" y1="475.5" y2="480.5" stroke="#000" stroke-width="1.1"/>
<text x="1263.5" y="495.8" text-anchor="middle" font-size="13.89">2022.0</text>
<text x="1167.7" y="57.2" text-anchor="middle" font-size="16.67">PSAL_ADJUSTED_QC</text>
<g>
<rect x="1331.5" y="65.50" width="20.0" height="410.00" fill="#999999"/>
<rect x="1331.5" y="110.90" width="20.0" height="364.60" fill="#f781bf"/>
<rect x="1331.5" y="156.40" width="20.0" height="319.10" fill="#a65628"/>
<rect x="1331.5" y="201.89" width="20.0" height="273.61" fill="#ffff33"/>
<rect x="1331.5" y="247.39" width="20.0" height="228.11" fill="#ff7f00"/>
<rect x="1331.5" y="292.89" width="20.0" height="182.61" fill="#984ea3"/>
<rect x="1331.5" y="338.39" width="20.0" height="137.11" fill="#4daf4a"/>
<rect x="1331.5" y="383.88" width="20.0" height="91.62" fill="#377eb8"/>
<rect x="1331.5" y="429.38" width="20.0" height="46.12" fill="#e41a1c"/>
</g>
<rect x="1331.5" y="65.5" width="20.0" height="410.0" fill="none" stroke="#000" stroke-width="1.1"/>
<line x1="1351.5" x2="1356.5" y1="475.5" y2="475.5" stroke="#000" stroke-width="1.1"/>
<text x="1361.0" y="480.8" font-size="13.89">0</text>
<line x1="1351.5" x2="1356.5" y1="424.5" y2="424.5" stroke="#000" stroke-width="1.1"/>
<text x="1361.0" y="429.8" font-size="13.89">1</text>
<line x1="1351.5" x2="1356.5" y1="373.5" y2="373.5" stroke="#000" stroke-width="1.1"/>
<text x="1361.0" y="378.8" font-size="13.89">2</text>
<line x1="1351.5" x2="1356.5" y1="321.5" y2="321.5" stroke="#000" stroke-width="1.1"/>
<text x="1361.0" y="326.8" font-size="13.89">3</text>
<line x1="1351.5" x2="1356.5" y1="270.5" y2="270.5" stroke="#000" stroke-width="1.1"/>
<text x="1361.0" y="275.8" font-size="13.89">4</text>
<line x1="1351.5" x2="1356.5" y1="219.5" y2="219.5" stroke="#000" stroke-width="1.1"/>
<text x="1361.0" y="224.8" font-size="13.89">5</text>
<line x1="1351.5" x2="1356.5" y1="168.5" y2="168.5" stroke="#000" stroke-width="1.1"/>
<text x="1361.0" y="173.8" font-size="13.89">6</text>
<line x1="1351.5" x2="1356.5" y1="117.5" y2="117.5" stroke="#000" stroke-width="1.1"/>
<text x="1361.0" y="122.8" font-size="13.89">7</text>
<line x1="1351.5" x2="1356.5" y1="65.5" y2="65.5" stroke="#000" stroke-width="1.1"/>
<text x="1361.0" y="70.8" font-size="13.89">8</text>
<g shape-rendering="crispEdges">
<rect x="591.50" y="552.5" width="2.78" height="409.0" fill="url(#g0)"/>
<rect x="593.88" y="552.5" width="3.73" height="409.0" fill="url(#g1)"/>
<rect x="597.21" y="552.5" width="3.73" height="409.0" fill="url(#g2)"/>
<rect x="600.54" y="552.5" width="3.73" height="409.0" fill="url(#g3)"/>
<rect x="603.87" y="552.5" width="3.73" height="409.0" fill="url(#g4)"/>
<rect x="607.21" y="552.5" width="3.73" height="409.0" fill="url(#g5)"/>
<rect x="610.54" y="552.5" width="3.73" height="409.0" fill="url(#g6)"/>
<rect x="613.87" y="552.5" width="3.73" height="409.0" fill="url(#g7)"/>
<rect x="617.20" y="552.5" width="3.73" height="409.0" fill="url(#g8)"/>
<rect x="620.53" y="552.5" width="3.73" height="409.0" fill="url(#g9)"/>
<rect x="623.86" y="552.5" width="3.73" height="409.0" fill="url(#g10)"/>
<rect x="627.19" y="552.5" width="3.73" height="409.0" fill="url(#g11)"/>
<rect x="630.52" y="552.5" width="3.73" height="409.0" fill="url(#g12)"/>
<rect x="633.85" y="552.5" width="3.73" height="409.0" fill="url(#g13)"/>
<rect x="637.18" y="552.5" width="3.73" height="409.0" fill="url(#g14)"/>
<rect x="640.52" y="552.5" width="3.73" height="409.0" fill="url(#g15)"/>
<rect x="643.85" y="552.5" width="3.73" height="409.0" fill="url(#g16)"/>
<rect x="647.18" y="552.5" width="3.73" height="409.0" fill="url(#g17)"/>
<rect x="650.51" y="552.5" width="3.73" height="409.0" fill="url(#g18)"/>
<rect x="653.84" y="552.5" width="3.73" height="409.0" fill="url(#g19)"/>
<rect x="657.17" y="552.5" width="3.73" height="409.0" fill="url(#g20)"/>
<rect x="660.50" y="552.5" width="3.73" height="409.0" fill="url(#g21)"/>
<rect x="663.83" y="552.5" width="3.73" height="409.0" fill="url(#g22)"/>
<rect x="667.16" y="552.5" width="3.73" height="409.0" fill="url(#g23)"/>
<rect x="670.49" y="552.5" width="3.73" height="409.0" fill="url(#g24)"/>
<rect x="673.83" y="552.5" width="3.73" height="409.0" fill="url(#g25)"/>
<rect x="677.16" y="552.5" width="3.73" height="409.0" fill="url(#g26)"/>
<rect x="680.49" y="552.5" width="3.73" height="409.0" fill="url(#g27)"/>
<rect x="683.82" y="552.5" width="3.73" height="409.0" fill="url(#g28)"/>
<rect x="687.15" y="552.5" width="3.73" height="409.0" fill="url(#g29)"/>
<rect x="690.48" y="552.5" width="3.73" height="409.0" fill="url(#g30)"/>
<rect x="693.81" y="552.5" width="3.73" height="409.0" fill="url(#g31)"/>
<rect x="697.14" y="552.5" width="3.73" height="409.0" fill="url(#g32)"/>
<rect x="700.47" y="552.5" width="3.73" height="409.0" fill="url(#g33)"/>
<rect x="703.81" y="552.5" width="3.73" height="409.0" fill="url(#g34)"/>
<rect x="707.14" y="552.5" width="3.73" height="409.0" fill="url(#g35)"/>
<rect x="710.47" y="552.5" width="3.73" height="409.0" fill="url(#g36)"/>
<rect x="713.80" y="552.5" width="3.73" height="409.0" fill="url(#g37)"/>
<rect x="717.13" y="552.5" width="3.73" height="409.0" fill="url(#g38)"/>
<rect x="720.46" y="552.5" width="3.73" height="409.0" fill="url(#g39)"/>
<rect x="723.79" y="552.5" width="3.73" height="409.0" fill="url(#g40)"/>
<rect x="727.12" y="552.5" width="3.73" height="409.0" fill="url(#g41)"/>
<rect x="730.45" y="552.5" width="3.73" height="409.0" fill="url(#g42)"/>
<rect x="733.78" y="552.5" width="3.73" height="409.0" fill="url(#g43)"/>
<rect x="737.12" y="552.5" width="3.73" height="409.0" fill="url(#g44)"/>
<rect x="740.45" y="552.5" width="3.73" height="409.0" fill="url(#g45)"/>
<rect x="743.78" y="552.5" width="3.73" height="409.0" fill="url(#g46)"/>
<rect x="747.11" y="552.5" width="3.73" height="409.0" fill="url(#g47)"/>
<rect x="750.44" y="552.5" width="3.73" height="409.0" fill="url(#g48)"/>
<rect x="753.77" y="552.5" width="3.73" height="409.0" fill="url(#g49)"/>
<rect x="757.10" y="552.5" width="3.73" height="409.0" fill="url(#g50)"/>
<rect x="760.43" y="552.5" width="3.73" height="409.0" fill="url(#g51)"/>
<rect x="763.76" y="552.5" width="3.73" height="409.0" fill="url(#g52)"/>
<rect x="767.09" y="552.5" width="3.73" height="409.0" fill="url(#g53)"/>
<rect x="770.43" y="552.5" width="3.73" height="409.0" fill="url(#g54)"/>
<rect x="773.76" y="552.5" width="3.73" height="409.0" fill="url(#g55)"/>
<rect x="777.09" y="552.5" width="3.73" height="409.0" fill="url(#g56)"/>
<rect x="780.42" y="552.5" width="3.73" height="409.0" fill="url(#g57)"/>
<rect x="783.75" y="552.5" width="3.73" height="409.0" fill="url(#g58)"/>
<rect x="787.08" y="552.5" width="3.73" height="409.0" fill="url(#g59)"/>
<rect x="790.41" y="552.5" width="3.73" height="409.0" fill="url(#g60)"/>
<rect x="793.74" y="552.5" width="3.73" height="409.0" fill="url(#g61)"/>
<rect x="797.07" y="552.5" width="3.73" height="409.0" fill="url(#g62)"/>
<rect x="800.41" y="552.5" width="3.73" height="409.0" fill="url(#g63)"/>
<rect x="803.74" y="552.5" width="3.73" height="409.0" fill="url(#g64)"/>
<rect x="807.07" y="552.5" width="3.73" height="409.0" fill="url(#g65)"/>
<rect x="810.40" y="552.5" width="3.73" height="409.0" fill="url(#g66)"/>
<rect x="813.73" y="552.5" width="3.73" height="409.0" fill="url(#g67)"/>
<rect x="817.06" y="552.5" width="3.73" height="409.0" fill="url(#g68)"/>
<rect x="820.39" y="552.5" width="3.73" height="409.0" fill="url(#g69)"/>
<rect x="823.72" y="552.5" width="3.73" height="409.0" fill="url(#g70)"/>
<rect x="827.05" y="552.5" width="3.73" height="409.0" fill="url(#g71)"/>
<rect x="830.38" y="552.5" width="3.73" height="409.0" fill="url(#g72)"/>
<rect x="833.72" y="552.5" width="3.73" height="409.0" fill="url(#g73)"/>
<rect x="837.05" y="552.5" width="3.73" height="409.0" fill="url(#g74)"/>
<rect x="840.38" y="552.5" width="3.73" height="409.0" fill="url(#g75)"/>
<rect x="843.71" y="552.5" width="3.73" height="409.0" fill="url(#g76)"/>
<rect x="847.04" y="552.5" width="3.73" height="409.0" fill="url(#g77)"/>
<rect x="850.37" y="552.5" width="3.73" height="409.0" fill="url(#g78)"/>
<rect x="853.70" y="552.5" width="3.73" height="409.0" fill="url(#g79)"/>
<rect x="857.03" y="552.5" width="3.73" height="409.0" fill="url(#g80)"/>
<rect x="860.36" y="552.5" width="3.73" height="409.0" fill="url(#g81)"/>
<rect x="863.69" y="552.5" width="3.73" height="409.0" fill="url(#g82)"/>
<rect x="867.03" y="552.5" width="3.73" height="409.0" fill="url(#g83)"/>
<rect x="870.36" y="552.5" width="3.73" height="409.0" fill="url(#g84)"/>
<rect x="873.69" y="552.5" width="3.73" height="409.0" fill="url(#g85)"/>
<rect x="877.02" y="552.5" width="3.48" height="409.0" fill="url(#g86)"/>
<rect x="809" y="920.0" width="4" height="41.5" fill="#fff"/>
<rect x="624.05" y="960.0" width="3.1" height="1.1" fill="#fff"/>
<rect x="629.55" y="960.0" width="3.1" height="1.1" fill="#fff"/>
<rect x="643.05" y="960.0" width="3.1" height="1.1" fill="#fff"/>
<rect x="694.55" y="960.0" width="3.1" height="1.1" fill="#fff"/>
<rect x="701.55" y="960.0" width="3.1" height="1.1" fill="#fff"/>
<rect x="720.55" y="960.0" width="3.1" height="1.1" fill="#fff"/>
<rect x="733.55" y="960.0" width="3.1" height="1.1" fill="#fff"/>
<rect x="768.55" y="960.0" width="3.1" height="1.1" fill="#fff"/>
<rect x="775.05" y="960.0" width="3.1" height="1.1" fill="#fff"/>
<rect x="781.55" y="960.0" width="3.1" height="1.1" fill="#fff"/>
<rect x="788.05" y="960.0" width="3.1" height="1.1" fill="#fff"/>
<rect x="794.55" y="960.0" width="3.1" height="1.1" fill="#fff"/>
<rect x="822.55" y="960.0" width="3.1" height="1.1" fill="#fff"/>
<rect x="842.55" y="960.0" width="3.1" height="1.1" fill="#fff"/>
<rect x="849.05" y="960.0" width="3.1" height="1.1" fill="#fff"/>
<rect x="855.55" y="960.0" width="3.1" height="1.1" fill="#fff"/>
<rect x="862.05" y="960.0" width="3.1" height="1.1" fill="#fff"/>
</g>
<rect x="591.5" y="552.5" width="289.0" height="409.0" fill="none" stroke="#000" stroke-width="1.1"/>
<line x1="586.5" x2="591.5" y1="552.5" y2="552.5" stroke="#000" stroke-width="1.1"/>
<text x="580.5" y="557.0" text-anchor="end" font-size="13.89">0</text>
<line x1="586.5" x2="591.5" y1="603.5" y2="603.5" stroke="#000" stroke-width="1.1"/>
<text x="580.5" y="608.2" text-anchor="end" font-size="13.89">250</text>
<line x1="586.5" x2="591.5" y1="654.5" y2="654.5" stroke="#000" stroke-width="1.1"/>
<text x="580.5" y="659.4" text-anchor="end" font-size="13.89">500</text>
<line x1="586.5" x2="591.5" y1="705.5" y2="705.5" stroke="#000" stroke-width="1.1"/>
<text x="580.5" y="710.6" text-anchor="end" font-size="13.89">750</text>
<line x1="586.5" x2="591.5" y1="757.5" y2="757.5" stroke="#000" stroke-width="1.1"/>
<text x="580.5" y="761.7" text-anchor="end" font-size="13.89">1000</text>
<line x1="586.5" x2="591.5" y1="808.5" y2="808.5" stroke="#000" stroke-width="1.1"/>
<text x="580.5" y="812.9" text-anchor="end" font-size="13.89">1250</text>
<line x1="586.5" x2="591.5" y1="859.5" y2="859.5" stroke="#000" stroke-width="1.1"/>
<text x="580.5" y="864.1" text-anchor="end" font-size="13.89">1500</text>
<line x1="586.5" x2="591.5" y1="910.5" y2="910.5" stroke="#000" stroke-width="1.1"/>
<text x="580.5" y="915.3" text-anchor="end" font-size="13.89">1750</text>
<line x1="586.5" x2="591.5" y1="961.5" y2="961.5" stroke="#000" stroke-width="1.1"/>
<text x="580.5" y="967.0" text-anchor="end" font-size="13.89">2000</text>
<line x1="647.5" x2="647.5" y1="961.5" y2="966.5" stroke="#000" stroke-width="1.1"/>
<text x="646.5" y="981.8" text-anchor="middle" font-size="13.89">2020.5</text>
<line x1="709.5" x2="709.5" y1="961.5" y2="966.5" stroke="#000" stroke-width="1.1"/>
<text x="708.1" y="981.8" text-anchor="middle" font-size="13.89">2021.0</text>
<line x1="770.5" x2="770.5" y1="961.5" y2="966.5" stroke="#000" stroke-width="1.1"/>
<text x="769.7" y="981.8" text-anchor="middle" font-size="13.89">2021.5</text>
<line x1="832.5" x2="832.5" y1="961.5" y2="966.5" stroke="#000" stroke-width="1.1"/>
<text x="831.3" y="981.8" text-anchor="middle" font-size="13.89">2022.0</text>
<text x="735.4" y="543.0" text-anchor="middle" font-size="16.67">PSAL_ADJUSTED_RO</text>
<rect x="898.5" y="552.5" width="21.0" height="409.0" fill="url(#cb)"/>
<rect x="898.5" y="552.5" width="21.0" height="409.0" fill="none" stroke="#000" stroke-width="1.1"/>
<line x1="919.5" x2="924.5" y1="562.5" y2="562.5" stroke="#000" stroke-width="1.1"/>
<text x="927.9" y="567.8" font-size="13.89">36.5</text>
<line x1="919.5" x2="924.5" y1="652.5" y2="652.5" stroke="#000" stroke-width="1.1"/>
<text x="927.9" y="657.8" font-size="13.89">36.0</text>
<line x1="919.5" x2="924.5" y1="742.5" y2="742.5" stroke="#000" stroke-width="1.1"/>
<text x="927.9" y="747.8" font-size="13.89">35.5</text>
<line x1="919.5" x2="924.5" y1="832.5" y2="832.5" stroke="#000" stroke-width="1.1"/>
<text x="927.9" y="837.8" font-size="13.89">35.0</text>
<line x1="919.5" x2="924.5" y1="922.5" y2="922.5" stroke="#000" stroke-width="1.1"/>
<text x="927.9" y="927.8" font-size="13.89">34.5</text>
<rect x="159.5" y="552.5" width="361.0" height="409.0" fill="none" stroke="#000" stroke-width="1.1"/>
<line x1="229.5" x2="229.5" y1="961.5" y2="966.5" stroke="#000" stroke-width="1.1"/>
<text x="228.5" y="981.8" text-anchor="middle" font-size="13.89">2020.5</text>
<line x1="306.5" x2="306.5" y1="961.5" y2="966.5" stroke="#000" stroke-width="1.1"/>
<text x="305.3" y="981.8" text-anchor="middle" font-size="13.89">2021.0</text>
<line x1="383.5" x2="383.5" y1="961.5" y2="966.5" stroke="#000" stroke-width="1.1"/>
<text x="382.2" y="981.8" text-anchor="middle" font-size="13.89">2021.5</text>
<line x1="460.5" x2="460.5" y1="961.5" y2="966.5" stroke="#000" stroke-width="1.1"/>
<text x="459.0" y="981.8" text-anchor="middle" font-size="13.89">2022.0</text>
<line x1="154.5" x2="159.5" y1="573.5" y2="573.5" stroke="#000" stroke-width="1.1"/>
<text x="148.5" y="577.8" text-anchor="end" font-size="13.89">Delayed Mode</text>
<line x1="154.5" x2="159.5" y1="767.5" y2="767.5" stroke="#000" stroke-width="1.1"/>
<text x="148.5" y="772.8" text-anchor="end" font-size="13.89">Real Time Adjusted</text>
<line x1="154.5" x2="159.5" y1="961.5" y2="961.5" stroke="#000" stroke-width="1.1"/>
<text x="148.5" y="966.8" text-anchor="end" font-size="13.89">Real Time</text>
<clipPath id="cp4"><rect x="159.0" y="551.8" width="361.0" height="409.5"/></clipPath>
<g fill="#1f77b4" clip-path="url(#cp4)"><circle cx="159.50" cy="573.5" r="1.55"/><circle cx="163.50" cy="573.5" r="1.55"/><circle cx="167.50" cy="573.5" r="1.55"/><circle cx="171.50" cy="573.5" r="1.55"/><circle cx="175.50" cy="573.5" r="1.55"/><circle cx="179.50" cy="573.5" r="1.55"/><circle cx="184.50" cy="573.5" r="1.55"/><circle cx="188.50" cy="573.5" r="1.55"/><circle cx="192.50" cy="573.5" r="1.55"/><circle cx="196.50" cy="573.5" r="1.55"/><circle cx="200.50" cy="573.5" r="1.55"/><circle cx="205.50" cy="573.5" r="1.55"/><circle cx="209.50" cy="573.5" r="1.55"/><circle cx="213.50" cy="573.5" r="1.55"/><circle cx="217.50" cy="573.5" r="1.55"/><circle cx="221.50" cy="573.5" r="1.55"/><circle cx="226.50" cy="573.5" r="1.55"/><circle cx="230.50" cy="573.5" r="1.55"/><circle cx="234.50" cy="573.5" r="1.55"/><circle cx="238.50" cy="573.5" r="1.55"/><circle cx="242.50" cy="573.5" r="1.55"/><circle cx="247.50" cy="573.5" r="1.55"/><circle cx="251.50" cy="573.5" r="1.55"/><circle cx="255.50" cy="573.5" r="1.55"/><circle cx="259.50" cy="573.5" r="1.55"/><circle cx="263.50" cy="573.5" r="1.55"/><circle cx="268.50" cy="573.5" r="1.55"/><circle cx="272.50" cy="573.5" r="1.55"/><circle cx="276.50" cy="573.5" r="1.55"/><circle cx="280.50" cy="573.5" r="1.55"/><circle cx="284.50" cy="573.5" r="1.55"/><circle cx="289.50" cy="573.5" r="1.55"/><circle cx="293.50" cy="573.5" r="1.55"/><circle cx="297.50" cy="573.5" r="1.55"/><circle cx="301.50" cy="573.5" r="1.55"/><circle cx="305.50" cy="573.5" r="1.55"/><circle cx="310.50" cy="573.5" r="1.55"/><circle cx="314.50" cy="573.5" r="1.55"/><circle cx="318.50" cy="573.5" r="1.55"/><circle cx="322.50" cy="573.5" r="1.55"/><circle cx="326.50" cy="573.5" r="1.55"/><circle cx="331.50" cy="573.5" r="1.55"/><circle cx="335.50" cy="573.5" r="1.55"/><circle cx="339.50" cy="573.5" r="1.55"/><circle cx="343.50" cy="573.5" r="1.55"/><circle cx="347.50" cy="573.5" r="1.55"/><circle cx="352.50" cy="573.5" r="1.55"/><circle cx="356.50" cy="573.5" r="1.55"/><circle cx="360.50" cy="573.5" r="1.55"/><circle cx="364.50" cy="573.5" r="1.55"/><circle cx="368.50" cy="573.5" r="1.55"/><circle cx="373.50" cy="573.5" r="1.55"/><circle cx="377.50" cy="573.5" r="1.55"/><circle cx="381.50" cy="573.5" r="1.55"/><circle cx="385.50" cy="573.5" r="1.55"/><circle cx="389.50" cy="573.5" r="1.55"/><circle cx="394.50" cy="573.5" r="1.55"/><circle cx="398.50" cy="573.5" r="1.55"/><circle cx="402.50" cy="573.5" r="1.55"/><circle cx="406.50" cy="573.5" r="1.55"/><circle cx="410.50" cy="573.5" r="1.55"/><circle cx="415.50" cy="573.5" r="1.55"/><circle cx="419.50" cy="573.5" r="1.55"/><circle cx="423.50" cy="573.5" r="1.55"/><circle cx="427.50" cy="573.5" r="1.55"/><circle cx="431.50" cy="573.5" r="1.55"/><circle cx="436.50" cy="573.5" r="1.55"/><circle cx="440.50" cy="573.5" r="1.55"/><circle cx="444.50" cy="573.5" r="1.55"/><circle cx="448.50" cy="573.5" r="1.55"/><circle cx="452.50" cy="573.5" r="1.55"/><circle cx="457.50" cy="573.5" r="1.55"/><circle cx="461.50" cy="573.5" r="1.55"/><circle cx="465.50" cy="573.5" r="1.55"/><circle cx="469.50" cy="573.5" r="1.55"/><circle cx="473.50" cy="573.5" r="1.55"/><circle cx="478.50" cy="573.5" r="1.55"/><circle cx="482.50" cy="573.5" r="1.55"/><circle cx="486.50" cy="573.5" r="1.55"/><circle cx="490.50" cy="573.5" r="1.55"/><circle cx="494.50" cy="573.5" r="1.55"/><circle cx="499.50" cy="573.5" r="1.55"/><circle cx="503.50" cy="573.5" r="1.55"/><circle cx="507.50" cy="573.5" r="1.55"/><circle cx="511.50" cy="573.5" r="1.55"/><circle cx="515.50" cy="573.5" r="1.55"/><circle cx="520.50" cy="573.5" r="1.55"/></g>
<text x="340" y="525.6" text-anchor="middle" font-size="16.67" style="white-space:pre">Mode. Blue=D, Red=RT, </text>
<text x="337.6" y="542.8" text-anchor="middle" font-size="16.67" style="white-space:pre"> Gray=Real Time Adjusted</text>
<text x="700.0" y="32.0" text-anchor="middle" font-size="16.67">5906202, 87 profiles, 2020-01-17 to 2022-05-25</text>
</svg>
</body></html>
